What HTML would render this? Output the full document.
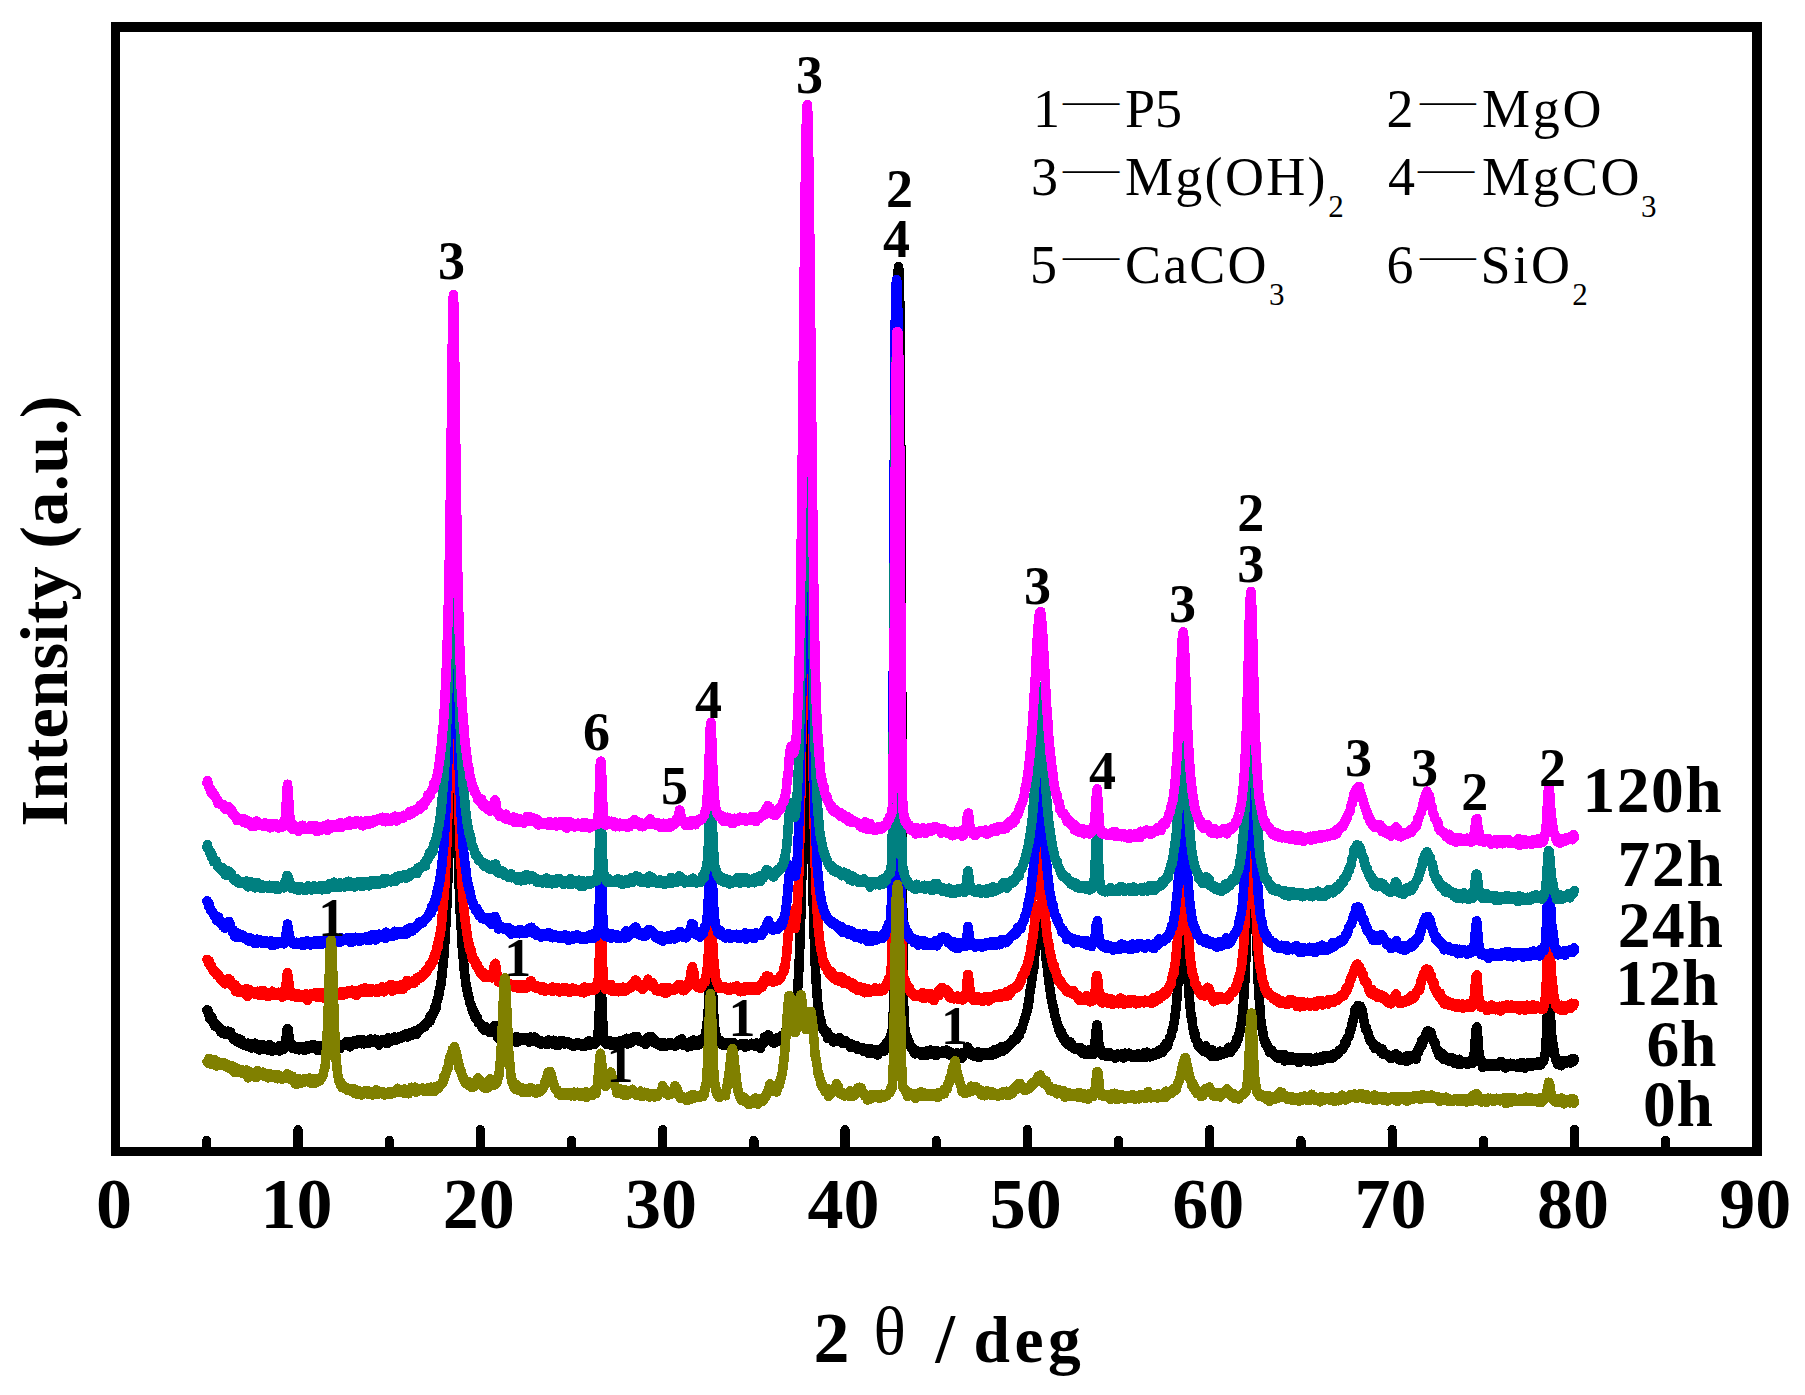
<!DOCTYPE html>
<html><head><meta charset="utf-8"><title>XRD</title>
<style>html,body{margin:0;padding:0;background:#fff}svg{display:block}</style></head>
<body>
<svg width="1805" height="1395" viewBox="0 0 1805 1395" shape-rendering="crispEdges" font-family='"Liberation Serif", serif' fill="#000">
<path d="M207.0 1009.9L207.5 1011.0L208.0 1010.3L208.5 1012.8L209.0 1014.1L209.5 1018.3L210.0 1016.1L210.5 1015.7L211.0 1018.5L211.5 1017.3L212.0 1017.5L212.5 1021.9L213.0 1021.0L213.5 1021.8L214.0 1022.9L214.5 1023.3L215.0 1026.2L215.5 1026.2L216.0 1025.5L216.5 1024.4L217.0 1027.1L217.5 1027.1L218.0 1027.3L218.5 1026.3L219.0 1027.7L219.5 1028.2L220.0 1028.8L220.5 1029.2L221.0 1032.4L221.5 1030.6L222.0 1031.9L222.5 1033.5L223.0 1032.8L223.5 1032.7L224.0 1030.7L224.5 1031.5L225.0 1034.2L225.5 1033.5L226.0 1034.4L226.5 1034.1L227.0 1032.3L227.5 1031.3L228.0 1033.9L228.5 1031.3L229.0 1031.5L229.5 1031.8L230.0 1032.9L230.5 1031.9L231.0 1033.7L231.5 1035.6L232.0 1035.7L232.5 1036.7L233.0 1037.8L233.5 1039.4L234.0 1039.2L234.5 1040.0L235.0 1039.9L235.5 1037.5L236.0 1039.3L236.5 1038.4L237.0 1041.9L237.5 1039.8L238.0 1040.0L238.5 1040.4L239.0 1039.0L239.5 1043.1L240.0 1039.6L240.5 1043.6L241.0 1039.8L241.5 1043.3L242.0 1042.9L242.5 1041.8L243.0 1044.9L243.5 1044.4L244.0 1044.8L244.5 1044.7L245.0 1045.1L245.5 1043.2L246.0 1045.6L246.5 1044.4L247.0 1046.2L247.5 1044.2L248.0 1043.1L248.5 1043.8L249.0 1046.0L249.5 1045.8L250.0 1047.2L250.5 1044.1L251.0 1047.9L251.5 1045.9L252.0 1047.4L252.5 1047.8L253.0 1046.2L253.5 1046.2L254.0 1044.1L254.5 1044.9L255.0 1043.2L255.5 1046.7L256.0 1048.2L256.5 1047.0L257.0 1048.3L257.5 1045.5L258.0 1048.2L258.5 1048.0L259.0 1044.7L259.5 1049.9L260.0 1047.6L260.5 1047.2L261.0 1047.7L261.5 1048.4L262.0 1047.0L262.5 1047.8L263.0 1045.0L263.5 1048.6L264.0 1047.9L264.5 1047.0L265.0 1049.0L265.5 1048.7L266.0 1046.2L266.5 1047.9L267.0 1047.4L267.5 1049.1L268.0 1047.4L268.5 1050.2L269.0 1046.4L269.5 1044.4L270.0 1050.4L270.5 1047.3L271.0 1047.7L271.5 1049.6L272.0 1051.0L272.5 1050.3L273.0 1046.8L273.5 1047.1L274.0 1048.6L274.5 1048.8L275.0 1048.4L275.5 1050.3L276.0 1049.2L276.5 1048.4L277.0 1047.6L277.5 1049.1L278.0 1049.6L278.5 1047.0L279.0 1045.9L279.5 1051.0L280.0 1047.8L280.5 1047.9L281.0 1048.4L281.5 1047.9L282.0 1049.5L282.5 1049.1L283.0 1045.6L283.5 1049.7L284.0 1045.7L284.5 1046.1L285.0 1046.5L285.5 1041.8L286.0 1037.6L286.1 1037.4L286.5 1035.4L287.0 1030.1L287.1 1028.7L287.5 1029.7L287.6 1029.1L288.0 1032.4L288.1 1029.1L288.5 1030.6L289.0 1038.6L289.1 1040.7L289.5 1042.6L290.0 1043.1L290.5 1046.6L291.0 1046.8L291.5 1047.3L292.0 1044.0L292.5 1048.7L293.0 1048.2L293.5 1046.4L294.0 1047.2L294.5 1048.8L295.0 1048.5L295.5 1048.9L296.0 1048.4L296.5 1048.6L297.0 1049.0L297.5 1048.3L298.0 1049.0L298.5 1048.8L299.0 1049.9L299.5 1046.4L300.0 1047.5L300.5 1047.0L301.0 1048.0L301.5 1046.6L302.0 1046.6L302.5 1049.0L303.0 1046.6L303.5 1047.0L304.0 1047.4L304.5 1050.3L305.0 1049.6L305.5 1048.5L306.0 1048.7L306.5 1046.0L307.0 1049.5L307.5 1049.2L308.0 1048.8L308.5 1048.7L309.0 1047.4L309.5 1046.0L310.0 1047.0L310.5 1046.3L311.0 1047.0L311.5 1047.6L312.0 1047.0L312.5 1048.7L313.0 1044.5L313.5 1046.6L314.0 1047.5L314.5 1048.2L315.0 1045.1L315.5 1047.1L316.0 1048.3L316.5 1048.0L317.0 1045.4L317.5 1048.6L318.0 1050.6L318.5 1048.3L319.0 1049.1L319.5 1046.0L320.0 1046.0L320.5 1046.6L321.0 1046.8L321.5 1046.0L322.0 1048.9L322.5 1047.9L323.0 1047.3L323.5 1047.8L324.0 1047.6L324.5 1048.3L325.0 1048.1L325.5 1046.9L326.0 1045.3L326.5 1044.1L327.0 1047.5L327.5 1047.1L328.0 1048.3L328.5 1046.7L329.0 1046.8L329.5 1046.8L330.0 1046.2L330.5 1044.7L331.0 1044.6L331.5 1047.6L332.0 1043.4L332.5 1044.7L333.0 1047.0L333.5 1044.6L334.0 1044.9L334.5 1044.6L335.0 1047.2L335.5 1045.7L336.0 1042.5L336.5 1045.1L337.0 1044.5L337.5 1043.9L338.0 1046.1L338.5 1046.8L339.0 1045.3L339.5 1044.7L340.0 1048.6L340.5 1047.0L341.0 1045.2L341.5 1045.2L342.0 1045.3L342.5 1045.2L343.0 1045.5L343.5 1045.2L344.0 1045.0L344.5 1043.6L345.0 1043.6L345.5 1043.9L346.0 1044.7L346.5 1041.4L347.0 1042.6L347.5 1043.9L348.0 1042.1L348.5 1041.8L349.0 1044.1L349.5 1042.8L350.0 1046.9L350.5 1041.9L351.0 1043.8L351.5 1044.5L352.0 1043.9L352.5 1042.2L353.0 1042.5L353.5 1043.1L354.0 1041.7L354.5 1042.5L355.0 1040.3L355.5 1042.4L356.0 1044.3L356.5 1043.7L357.0 1041.7L357.5 1042.8L358.0 1042.8L358.5 1039.8L359.0 1042.2L359.5 1039.6L360.0 1040.2L360.5 1039.9L361.0 1041.4L361.5 1043.8L362.0 1040.5L362.5 1039.7L363.0 1039.6L363.5 1040.3L364.0 1043.9L364.5 1040.7L365.0 1041.5L365.5 1041.0L366.0 1042.7L366.5 1042.3L367.0 1041.9L367.5 1040.6L368.0 1043.5L368.5 1039.9L369.0 1040.5L369.5 1040.5L370.0 1039.9L370.5 1038.9L371.0 1040.2L371.5 1042.6L372.0 1041.5L372.5 1040.7L373.0 1041.5L373.5 1042.5L374.0 1042.3L374.5 1041.2L375.0 1039.1L375.5 1040.4L376.0 1042.1L376.5 1040.7L377.0 1040.9L377.5 1040.6L378.0 1040.2L378.5 1041.3L379.0 1045.1L379.5 1041.9L380.0 1040.7L380.5 1042.0L381.0 1040.8L381.5 1041.2L382.0 1040.1L382.5 1040.6L383.0 1039.3L383.5 1040.0L384.0 1039.5L384.5 1040.2L385.0 1039.7L385.5 1039.8L386.0 1040.7L386.5 1039.3L387.0 1043.5L387.5 1041.1L388.0 1037.9L388.5 1038.3L389.0 1042.2L389.5 1038.3L390.0 1041.6L390.5 1040.2L391.0 1038.6L391.5 1039.2L392.0 1040.6L392.5 1037.9L393.0 1038.8L393.5 1038.3L394.0 1039.3L394.5 1037.1L395.0 1039.7L395.5 1040.0L396.0 1040.4L396.5 1039.1L397.0 1037.9L397.5 1038.4L398.0 1037.6L398.5 1038.7L399.0 1037.0L399.5 1037.2L400.0 1038.3L400.5 1038.4L401.0 1036.2L401.5 1038.1L402.0 1037.2L402.5 1036.8L403.0 1035.2L403.5 1036.6L404.0 1036.5L404.5 1036.4L405.0 1034.2L405.5 1036.2L406.0 1036.4L406.5 1035.1L407.0 1033.5L407.5 1037.1L408.0 1036.0L408.5 1034.7L409.0 1035.4L409.5 1036.1L410.0 1032.7L410.5 1033.7L411.0 1034.3L411.5 1035.7L412.0 1033.3L412.5 1032.0L413.0 1033.0L413.5 1031.5L414.0 1034.6L414.5 1032.5L415.0 1031.7L415.5 1031.2L416.0 1030.3L416.5 1034.4L417.0 1030.9L417.5 1033.1L418.0 1030.3L418.5 1030.6L419.0 1030.0L419.5 1028.2L420.0 1028.9L420.5 1028.4L421.0 1029.2L421.5 1028.7L422.0 1027.8L422.5 1027.5L423.0 1026.6L423.5 1026.8L424.0 1025.7L424.5 1027.2L425.0 1025.5L425.5 1025.5L426.0 1022.9L426.5 1022.5L427.0 1024.0L427.5 1022.3L428.0 1023.3L428.5 1021.7L429.0 1022.1L429.5 1018.1L430.0 1016.1L430.5 1020.7L431.0 1017.4L431.5 1015.5L432.0 1016.0L432.5 1014.3L433.0 1012.6L433.5 1013.4L434.0 1010.0L434.5 1011.0L435.0 1006.3L435.5 1005.9L436.0 1008.4L436.5 1004.5L437.0 1000.6L437.5 999.9L438.0 997.5L438.5 997.5L439.0 992.5L439.5 990.0L440.0 988.0L440.5 986.1L441.0 984.4L441.5 978.3L442.0 976.7L442.5 968.1L443.0 965.6L443.5 959.8L444.0 954.7L444.5 946.3L445.0 940.0L445.5 931.2L446.0 921.1L446.5 913.9L447.0 900.2L447.5 889.2L448.0 873.6L448.5 859.6L449.0 841.6L449.5 820.5L450.0 796.6L450.5 769.7L451.0 736.5L451.5 705.0L451.9 676.9L452.0 669.8L452.5 637.4L452.9 618.4L453.0 615.0L453.4 611.3L453.5 609.7L453.9 618.5L454.0 625.2L454.5 651.8L454.9 676.5L455.0 684.6L455.5 720.6L456.0 749.7L456.5 781.0L457.0 804.7L457.5 828.2L458.0 846.8L458.5 864.4L459.0 877.9L459.5 894.7L460.0 907.4L460.5 918.5L461.0 924.6L461.5 933.9L462.0 943.9L462.5 950.4L463.0 955.9L463.5 959.9L464.0 968.2L464.5 972.2L465.0 976.2L465.5 979.4L466.0 985.2L466.5 987.9L467.0 988.4L467.5 994.1L468.0 993.7L468.5 996.4L469.0 997.7L469.5 1000.2L470.0 1003.6L470.5 1003.4L471.0 1004.9L471.5 1008.2L472.0 1007.8L472.5 1011.5L473.0 1012.1L473.5 1013.2L474.0 1011.7L474.5 1015.9L475.0 1017.2L475.5 1016.6L476.0 1015.3L476.5 1019.2L477.0 1017.2L477.5 1017.3L478.0 1021.7L478.5 1023.1L479.0 1022.1L479.5 1023.2L480.0 1022.9L480.5 1023.8L481.0 1024.5L481.5 1026.3L482.0 1026.2L482.5 1028.4L483.0 1028.3L483.5 1027.5L484.0 1030.1L484.5 1028.7L485.0 1027.1L485.5 1029.7L486.0 1027.0L486.5 1027.2L487.0 1030.7L487.5 1029.3L488.0 1031.3L488.5 1031.1L489.0 1031.2L489.5 1032.7L490.0 1030.9L490.5 1029.7L491.0 1032.1L491.5 1030.8L492.0 1030.1L492.5 1032.6L493.0 1030.0L493.5 1027.5L494.0 1026.4L494.5 1028.4L495.0 1025.3L495.5 1026.8L496.0 1028.9L496.5 1031.3L497.0 1033.8L497.5 1035.2L498.0 1038.1L498.5 1033.9L499.0 1036.1L499.5 1036.1L500.0 1038.8L500.5 1035.6L501.0 1036.3L501.5 1034.6L502.0 1036.7L502.5 1036.7L503.0 1037.0L503.5 1037.6L504.0 1036.9L504.5 1035.8L505.0 1036.0L505.5 1035.7L506.0 1036.8L506.5 1035.3L507.0 1039.2L507.5 1039.8L508.0 1038.4L508.5 1038.0L509.0 1038.0L509.5 1037.1L510.0 1039.0L510.5 1036.6L511.0 1037.4L511.5 1039.6L512.0 1039.5L512.5 1037.9L513.0 1037.6L513.5 1040.9L514.0 1038.2L514.5 1039.5L515.0 1039.2L515.5 1037.7L516.0 1042.4L516.5 1039.2L517.0 1036.5L517.5 1038.0L518.0 1040.0L518.5 1038.8L519.0 1039.5L519.5 1039.9L520.0 1040.9L520.5 1037.6L521.0 1038.4L521.5 1039.2L522.0 1038.7L522.5 1037.9L523.0 1037.9L523.5 1039.5L524.0 1040.0L524.5 1040.1L525.0 1039.9L525.5 1040.2L526.0 1040.7L526.5 1039.6L527.0 1038.9L527.5 1037.7L528.0 1041.1L528.5 1037.4L529.0 1042.2L529.5 1038.6L530.0 1037.2L530.5 1037.9L531.0 1037.2L531.5 1038.1L532.0 1038.1L532.5 1040.1L533.0 1037.4L533.5 1039.9L534.0 1037.3L534.5 1036.9L535.0 1040.8L535.5 1039.2L536.0 1040.6L536.5 1038.9L537.0 1042.4L537.5 1040.7L538.0 1040.5L538.5 1042.6L539.0 1041.3L539.5 1042.4L540.0 1043.8L540.5 1040.7L541.0 1044.1L541.5 1041.5L542.0 1043.8L542.5 1041.7L543.0 1041.6L543.5 1043.3L544.0 1041.3L544.5 1043.2L545.0 1042.9L545.5 1043.2L546.0 1043.7L546.5 1044.7L547.0 1043.5L547.5 1041.9L548.0 1043.1L548.5 1039.9L549.0 1043.0L549.5 1043.8L550.0 1042.8L550.5 1043.0L551.0 1043.6L551.5 1043.8L552.0 1043.0L552.5 1042.0L553.0 1042.9L553.5 1040.2L554.0 1044.4L554.5 1043.6L555.0 1043.7L555.5 1041.4L556.0 1043.3L556.5 1042.4L557.0 1045.7L557.5 1045.5L558.0 1043.8L558.5 1045.7L559.0 1044.4L559.5 1041.0L560.0 1044.3L560.5 1042.4L561.0 1043.8L561.5 1043.0L562.0 1042.6L562.5 1042.4L563.0 1041.0L563.5 1042.8L564.0 1043.3L564.5 1044.1L565.0 1042.2L565.5 1042.2L566.0 1041.6L566.5 1042.5L567.0 1043.7L567.5 1042.8L568.0 1043.8L568.5 1042.0L569.0 1044.3L569.5 1044.4L570.0 1044.2L570.5 1045.2L571.0 1043.5L571.5 1044.7L572.0 1045.6L572.5 1044.1L573.0 1043.5L573.5 1046.2L574.0 1045.8L574.5 1043.9L575.0 1043.7L575.5 1043.8L576.0 1044.5L576.5 1045.5L577.0 1043.5L577.5 1042.4L578.0 1045.0L578.5 1044.6L579.0 1044.8L579.5 1043.2L580.0 1045.5L580.5 1045.2L581.0 1044.1L581.5 1045.9L582.0 1044.7L582.5 1044.5L583.0 1045.4L583.5 1043.8L584.0 1044.0L584.5 1046.1L585.0 1043.8L585.5 1046.0L586.0 1044.4L586.5 1043.5L587.0 1044.1L587.5 1045.3L588.0 1045.7L588.5 1040.9L589.0 1045.1L589.5 1042.9L590.0 1045.3L590.5 1043.1L591.0 1044.9L591.5 1044.5L592.0 1044.1L592.5 1042.7L593.0 1044.6L593.5 1044.4L594.0 1043.9L594.5 1044.2L595.0 1043.5L595.5 1041.0L596.0 1043.1L596.5 1039.5L597.0 1040.8L597.5 1038.8L598.0 1035.2L598.5 1027.9L599.0 1019.3L599.3 1011.8L599.5 1007.2L600.0 992.0L600.3 984.2L600.5 984.1L600.8 980.7L601.0 982.5L601.3 986.6L601.5 989.4L602.0 1006.9L602.3 1013.8L602.5 1017.6L603.0 1025.7L603.5 1034.8L604.0 1039.5L604.5 1038.0L605.0 1040.1L605.5 1041.2L606.0 1044.1L606.5 1043.3L607.0 1043.0L607.5 1042.5L608.0 1042.2L608.5 1040.8L609.0 1040.3L609.5 1044.4L610.0 1043.9L610.5 1044.5L611.0 1044.1L611.5 1045.3L612.0 1042.9L612.5 1043.4L613.0 1041.6L613.5 1044.1L614.0 1041.5L614.5 1044.2L615.0 1041.9L615.5 1042.8L616.0 1045.5L616.5 1041.9L617.0 1045.0L617.5 1045.6L618.0 1045.9L618.5 1044.0L619.0 1041.2L619.5 1045.1L620.0 1042.5L620.5 1044.4L621.0 1041.5L621.5 1041.5L622.0 1044.3L622.5 1040.3L623.0 1041.3L623.5 1042.5L624.0 1042.8L624.5 1043.6L625.0 1042.3L625.5 1041.9L626.0 1043.7L626.5 1038.3L627.0 1042.7L627.5 1044.1L628.0 1040.8L628.5 1040.5L629.0 1041.4L629.5 1042.5L630.0 1043.0L630.5 1040.9L631.0 1040.1L631.5 1042.4L632.0 1041.1L632.5 1041.3L633.0 1041.4L633.5 1037.1L634.0 1037.9L634.5 1036.8L635.0 1039.4L635.5 1038.0L636.0 1037.9L636.5 1038.6L637.0 1036.4L637.5 1038.5L638.0 1038.5L638.5 1041.1L639.0 1040.2L639.5 1040.0L640.0 1041.2L640.5 1040.2L641.0 1040.8L641.5 1040.4L642.0 1040.9L642.5 1042.5L643.0 1042.3L643.5 1040.5L644.0 1041.4L644.5 1041.5L645.0 1042.2L645.5 1044.4L646.0 1038.9L646.5 1039.9L647.0 1039.9L647.5 1038.2L648.0 1037.1L648.5 1037.8L649.0 1038.5L649.5 1038.2L650.0 1037.5L650.5 1037.3L651.0 1038.6L651.5 1036.5L652.0 1041.1L652.5 1039.7L653.0 1040.7L653.5 1038.9L654.0 1042.3L654.5 1043.2L655.0 1042.2L655.5 1041.1L656.0 1043.3L656.5 1042.2L657.0 1043.9L657.5 1042.2L658.0 1042.4L658.5 1044.9L659.0 1042.3L659.5 1042.9L660.0 1043.6L660.5 1046.0L661.0 1044.1L661.5 1044.3L662.0 1043.0L662.5 1044.1L663.0 1043.3L663.5 1043.5L664.0 1044.9L664.5 1046.6L665.0 1043.1L665.5 1046.3L666.0 1043.3L666.5 1043.9L667.0 1044.6L667.5 1044.5L668.0 1043.7L668.5 1042.9L669.0 1045.6L669.5 1045.0L670.0 1043.5L670.5 1044.0L671.0 1043.0L671.5 1044.5L672.0 1045.7L672.5 1044.5L673.0 1045.3L673.5 1044.8L674.0 1045.3L674.5 1044.6L675.0 1046.3L675.5 1044.5L676.0 1044.7L676.5 1045.5L677.0 1043.1L677.5 1041.8L678.0 1041.3L678.5 1040.9L679.0 1040.5L679.5 1040.0L680.0 1044.3L680.5 1041.3L681.0 1042.8L681.5 1038.9L682.0 1042.3L682.5 1042.1L683.0 1044.2L683.5 1042.4L684.0 1045.5L684.5 1042.1L685.0 1044.8L685.5 1044.3L686.0 1044.3L686.5 1046.1L687.0 1045.9L687.5 1044.7L688.0 1047.0L688.5 1044.9L689.0 1045.6L689.5 1044.3L690.0 1041.6L690.5 1042.9L691.0 1046.1L691.5 1042.5L692.0 1041.3L692.5 1041.4L693.0 1041.5L693.5 1040.0L694.0 1042.8L694.5 1043.8L695.0 1042.2L695.5 1043.0L696.0 1044.5L696.5 1043.6L697.0 1045.6L697.5 1042.8L698.0 1044.9L698.5 1044.7L699.0 1044.8L699.5 1043.2L700.0 1043.9L700.5 1042.7L701.0 1039.1L701.5 1040.3L702.0 1039.7L702.5 1042.2L703.0 1038.5L703.5 1037.5L704.0 1038.1L704.5 1037.2L705.0 1036.7L705.5 1035.4L706.0 1031.0L706.5 1030.9L707.0 1023.6L707.5 1019.3L708.0 1016.1L708.5 1004.3L709.0 994.4L709.3 987.1L709.5 982.7L710.0 969.5L710.3 961.7L710.5 961.5L710.8 961.3L711.0 962.6L711.3 964.1L711.5 968.3L712.0 978.6L712.3 986.5L712.5 991.4L713.0 1000.5L713.5 1010.4L714.0 1019.2L714.5 1025.0L715.0 1030.2L715.5 1035.3L716.0 1034.8L716.5 1036.4L717.0 1040.6L717.5 1039.0L718.0 1041.4L718.5 1042.5L719.0 1040.4L719.5 1041.7L720.0 1043.2L720.5 1040.7L721.0 1041.3L721.5 1043.8L722.0 1044.8L722.5 1044.2L723.0 1043.0L723.5 1044.6L724.0 1045.1L724.5 1045.2L725.0 1043.9L725.5 1043.8L726.0 1043.0L726.5 1044.9L727.0 1042.4L727.5 1042.9L728.0 1044.5L728.5 1043.7L729.0 1044.6L729.5 1045.7L730.0 1047.1L730.5 1044.6L731.0 1044.7L731.5 1042.6L732.0 1046.0L732.5 1046.1L733.0 1046.6L733.5 1042.5L734.0 1044.7L734.5 1043.4L735.0 1043.7L735.5 1045.8L736.0 1044.7L736.5 1046.8L737.0 1044.8L737.5 1044.3L738.0 1045.7L738.5 1044.5L739.0 1044.8L739.5 1044.8L740.0 1044.7L740.5 1045.5L741.0 1043.8L741.5 1044.8L742.0 1044.2L742.5 1045.6L743.0 1043.4L743.5 1045.2L744.0 1045.9L744.5 1044.2L745.0 1047.2L745.5 1044.2L746.0 1046.6L746.5 1046.2L747.0 1044.0L747.5 1045.6L748.0 1044.4L748.5 1044.9L749.0 1045.7L749.5 1045.7L750.0 1045.3L750.5 1045.5L751.0 1045.0L751.5 1043.2L752.0 1044.9L752.5 1044.3L753.0 1044.5L753.5 1045.6L754.0 1044.6L754.5 1045.2L755.0 1046.2L755.5 1044.1L756.0 1044.1L756.5 1042.9L757.0 1045.1L757.5 1043.4L758.0 1046.2L758.5 1044.5L759.0 1045.4L759.5 1046.3L760.0 1045.0L760.5 1048.2L761.0 1045.5L761.5 1042.4L762.0 1043.3L762.5 1043.0L763.0 1042.8L763.5 1040.8L764.0 1042.8L764.5 1036.9L765.0 1037.6L765.5 1036.6L766.0 1036.1L766.5 1037.7L767.0 1037.0L767.5 1035.4L768.0 1035.0L768.5 1035.0L769.0 1037.0L769.5 1036.5L770.0 1038.6L770.5 1039.7L771.0 1041.2L771.5 1040.1L772.0 1040.0L772.5 1039.4L773.0 1042.2L773.5 1043.2L774.0 1041.6L774.5 1042.3L775.0 1041.1L775.5 1039.6L776.0 1041.8L776.5 1038.1L777.0 1041.9L777.5 1041.4L778.0 1041.7L778.5 1039.8L779.0 1037.2L779.5 1038.8L780.0 1038.1L780.5 1037.0L781.0 1035.8L781.5 1038.0L782.0 1035.3L782.5 1035.8L783.0 1037.1L783.5 1036.3L784.0 1034.6L784.5 1034.5L785.0 1033.3L785.5 1031.1L786.0 1030.8L786.5 1028.5L787.0 1027.5L787.5 1022.2L788.0 1020.1L788.5 1018.2L789.0 1015.0L789.5 1012.5L790.0 1011.4L790.5 1007.6L791.0 1008.2L791.5 1009.9L792.0 1008.0L792.5 1009.7L793.0 1008.8L793.5 1011.4L794.0 1010.2L794.5 1010.5L795.0 1006.7L795.5 1005.5L796.0 1005.4L796.5 1001.9L797.0 995.0L797.5 990.9L798.0 982.9L798.5 976.9L799.0 965.9L799.5 955.7L800.0 939.5L800.5 925.1L801.0 909.6L801.5 889.0L802.0 867.3L802.5 845.1L803.0 820.5L803.5 796.6L804.0 767.1L804.5 744.0L805.0 721.4L805.5 702.5L805.7 694.9L806.0 686.0L806.5 672.5L806.7 669.7L807.0 668.9L807.2 665.9L807.5 668.5L807.7 669.4L808.0 676.4L808.5 686.5L808.7 697.4L809.0 702.7L809.5 727.2L810.0 750.2L810.5 773.8L811.0 798.3L811.5 823.6L812.0 851.0L812.5 870.7L813.0 893.8L813.5 913.1L814.0 931.1L814.5 943.9L815.0 955.9L815.5 971.1L816.0 978.6L816.5 987.1L817.0 993.2L817.5 1000.6L818.0 1004.2L818.5 1008.9L819.0 1011.9L819.5 1013.9L820.0 1018.6L820.5 1020.6L821.0 1020.3L821.5 1026.7L822.0 1025.0L822.5 1028.4L823.0 1028.7L823.5 1028.2L824.0 1031.3L824.5 1031.2L825.0 1031.5L825.5 1033.7L826.0 1033.5L826.5 1032.4L827.0 1031.6L827.5 1038.4L828.0 1033.1L828.5 1037.0L829.0 1038.0L829.5 1035.6L830.0 1037.8L830.5 1037.6L831.0 1038.8L831.5 1038.8L832.0 1038.3L832.5 1037.8L833.0 1039.4L833.5 1042.0L834.0 1041.0L834.5 1041.5L835.0 1041.0L835.5 1040.7L836.0 1039.7L836.5 1040.1L837.0 1041.4L837.5 1040.9L838.0 1041.5L838.5 1040.7L839.0 1040.3L839.5 1037.8L840.0 1041.0L840.5 1040.8L841.0 1042.3L841.5 1042.1L842.0 1040.5L842.5 1043.5L843.0 1040.0L843.5 1041.7L844.0 1042.1L844.5 1042.8L845.0 1040.6L845.5 1040.7L846.0 1043.5L846.5 1042.5L847.0 1042.9L847.5 1043.3L848.0 1044.2L848.5 1044.1L849.0 1043.2L849.5 1045.2L850.0 1046.3L850.5 1045.2L851.0 1047.5L851.5 1043.9L852.0 1046.3L852.5 1045.7L853.0 1044.9L853.5 1046.2L854.0 1046.8L854.5 1047.3L855.0 1046.0L855.5 1046.6L856.0 1047.8L856.5 1045.7L857.0 1047.8L857.5 1049.2L858.0 1049.2L858.5 1047.2L859.0 1048.4L859.5 1049.4L860.0 1049.6L860.5 1048.4L861.0 1047.6L861.5 1048.2L862.0 1049.0L862.5 1047.8L863.0 1050.1L863.5 1051.7L864.0 1049.3L864.5 1049.6L865.0 1048.6L865.5 1050.7L866.0 1048.7L866.5 1051.9L867.0 1050.5L867.5 1049.1L868.0 1049.5L868.5 1053.7L869.0 1051.9L869.5 1053.5L870.0 1051.9L870.5 1048.6L871.0 1052.0L871.5 1051.7L872.0 1053.3L872.5 1050.1L873.0 1050.2L873.5 1053.3L874.0 1051.0L874.5 1051.3L875.0 1050.7L875.5 1052.3L876.0 1049.4L876.5 1049.5L877.0 1052.2L877.5 1055.1L878.0 1050.9L878.5 1049.7L879.0 1053.2L879.5 1051.6L880.0 1051.1L880.5 1052.1L881.0 1049.0L881.5 1051.1L882.0 1051.4L882.5 1048.1L883.0 1050.0L883.5 1049.5L884.0 1051.2L884.5 1045.4L885.0 1047.9L885.5 1047.0L886.0 1044.5L886.5 1042.6L887.0 1046.7L887.5 1044.6L888.0 1041.8L888.5 1044.9L889.0 1041.5L889.5 1040.3L890.0 1037.1L890.5 1038.4L891.0 1034.5L891.5 1035.6L892.0 1031.2L892.5 1028.1L893.0 1022.7L893.5 1006.0L894.0 974.0L894.5 908.7L895.0 813.7L895.5 691.8L896.0 555.4L896.5 438.6L897.0 346.8L897.1 332.6L897.5 294.0L898.0 272.1L898.1 271.6L898.5 267.9L898.6 266.6L899.0 271.7L899.1 272.1L899.5 283.8L900.0 325.5L900.1 335.6L900.5 399.8L901.0 508.8L901.5 639.1L902.0 765.8L902.5 875.7L903.0 953.6L903.5 997.5L904.0 1017.8L904.5 1025.1L905.0 1030.5L905.5 1032.6L906.0 1037.7L906.5 1035.2L907.0 1036.5L907.5 1038.9L908.0 1039.8L908.5 1044.1L909.0 1041.1L909.5 1043.1L910.0 1046.0L910.5 1045.6L911.0 1048.0L911.5 1046.8L912.0 1047.9L912.5 1049.0L913.0 1049.9L913.5 1049.5L914.0 1053.0L914.5 1052.0L915.0 1053.8L915.5 1050.1L916.0 1052.6L916.5 1052.8L917.0 1053.1L917.5 1051.7L918.0 1051.3L918.5 1052.2L919.0 1051.9L919.5 1051.9L920.0 1052.2L920.5 1053.0L921.0 1054.5L921.5 1055.5L922.0 1052.3L922.5 1053.2L923.0 1055.4L923.5 1051.9L924.0 1051.5L924.5 1052.2L925.0 1054.1L925.5 1054.5L926.0 1052.4L926.5 1054.0L927.0 1051.0L927.5 1054.9L928.0 1053.9L928.5 1051.0L929.0 1051.4L929.5 1053.4L930.0 1050.4L930.5 1049.9L931.0 1054.0L931.5 1054.6L932.0 1053.1L932.5 1053.8L933.0 1052.4L933.5 1052.4L934.0 1053.3L934.5 1053.2L935.0 1053.0L935.5 1053.6L936.0 1055.7L936.5 1050.7L937.0 1051.7L937.5 1054.6L938.0 1053.0L938.5 1053.4L939.0 1051.8L939.5 1051.4L940.0 1052.6L940.5 1053.2L941.0 1051.6L941.5 1053.5L942.0 1051.2L942.5 1052.7L943.0 1053.3L943.5 1051.7L944.0 1050.4L944.5 1052.3L945.0 1051.1L945.5 1050.3L946.0 1053.7L946.5 1050.1L947.0 1052.0L947.5 1050.8L948.0 1054.1L948.5 1051.1L949.0 1053.8L949.5 1054.9L950.0 1052.6L950.5 1053.3L951.0 1053.4L951.5 1052.6L952.0 1052.7L952.5 1053.7L953.0 1053.3L953.5 1054.3L954.0 1056.5L954.5 1055.6L955.0 1053.6L955.5 1055.1L956.0 1054.5L956.5 1054.0L957.0 1053.0L957.5 1054.5L958.0 1055.6L958.5 1055.1L959.0 1055.6L959.5 1054.4L960.0 1055.4L960.5 1055.3L961.0 1053.1L961.5 1053.4L962.0 1058.2L962.5 1057.1L963.0 1053.9L963.5 1054.1L964.0 1054.7L964.5 1054.3L965.0 1053.0L965.5 1053.9L966.0 1053.6L966.5 1053.7L967.0 1051.4L967.5 1047.0L968.0 1048.8L968.5 1049.9L969.0 1051.7L969.5 1050.0L970.0 1049.9L970.5 1053.8L971.0 1054.9L971.5 1054.2L972.0 1055.1L972.5 1054.3L973.0 1055.0L973.5 1052.5L974.0 1056.1L974.5 1053.1L975.0 1054.7L975.5 1053.2L976.0 1053.6L976.5 1056.4L977.0 1054.1L977.5 1052.2L978.0 1052.0L978.5 1053.3L979.0 1057.7L979.5 1053.9L980.0 1053.9L980.5 1055.5L981.0 1054.9L981.5 1054.3L982.0 1054.0L982.5 1052.5L983.0 1053.0L983.5 1055.3L984.0 1052.3L984.5 1054.7L985.0 1054.0L985.5 1054.1L986.0 1053.4L986.5 1054.3L987.0 1052.9L987.5 1055.7L988.0 1054.9L988.5 1053.5L989.0 1053.0L989.5 1054.7L990.0 1053.3L990.5 1052.0L991.0 1055.7L991.5 1051.5L992.0 1052.3L992.5 1051.3L993.0 1052.4L993.5 1050.8L994.0 1049.9L994.5 1049.6L995.0 1052.3L995.5 1054.1L996.0 1051.6L996.5 1051.9L997.0 1050.0L997.5 1051.0L998.0 1050.5L998.5 1052.6L999.0 1051.3L999.5 1048.0L1000.0 1049.8L1000.5 1048.5L1001.0 1047.0L1001.5 1050.6L1002.0 1048.9L1002.5 1051.6L1003.0 1049.9L1003.5 1047.6L1004.0 1048.5L1004.5 1047.0L1005.0 1049.5L1005.5 1046.0L1006.0 1045.8L1006.5 1046.0L1007.0 1048.4L1007.5 1047.2L1008.0 1047.1L1008.5 1045.7L1009.0 1044.9L1009.5 1045.2L1010.0 1043.4L1010.5 1042.9L1011.0 1043.9L1011.5 1042.9L1012.0 1043.2L1012.5 1040.8L1013.0 1041.0L1013.5 1038.9L1014.0 1039.4L1014.5 1040.1L1015.0 1038.4L1015.5 1038.4L1016.0 1039.7L1016.5 1037.3L1017.0 1038.5L1017.5 1034.2L1018.0 1036.3L1018.5 1034.0L1019.0 1035.0L1019.5 1035.1L1020.0 1030.4L1020.5 1032.1L1021.0 1029.9L1021.5 1030.3L1022.0 1028.2L1022.5 1025.5L1023.0 1024.8L1023.5 1023.0L1024.0 1021.2L1024.5 1019.4L1025.0 1018.1L1025.5 1015.8L1026.0 1014.5L1026.5 1012.9L1027.0 1010.4L1027.5 1010.1L1028.0 1006.6L1028.5 1002.1L1029.0 1001.6L1029.5 995.1L1030.0 992.4L1030.5 987.8L1031.0 986.7L1031.5 982.2L1032.0 978.8L1032.5 975.0L1033.0 971.4L1033.5 967.4L1034.0 967.5L1034.5 957.6L1035.0 953.1L1035.5 950.3L1036.0 944.9L1036.5 940.6L1037.0 938.6L1037.5 932.3L1038.0 930.9L1038.5 927.7L1038.9 926.1L1039.0 925.5L1039.5 927.3L1039.9 925.0L1040.0 925.9L1040.4 924.1L1040.5 924.9L1040.9 925.0L1041.0 925.5L1041.5 926.0L1041.9 925.2L1042.0 927.0L1042.5 928.7L1043.0 934.0L1043.5 938.8L1044.0 941.1L1044.5 944.7L1045.0 948.0L1045.5 951.0L1046.0 959.5L1046.5 961.4L1047.0 965.1L1047.5 970.0L1048.0 975.4L1048.5 977.9L1049.0 981.4L1049.5 986.1L1050.0 989.6L1050.5 992.0L1051.0 997.3L1051.5 999.8L1052.0 1001.9L1052.5 1005.1L1053.0 1007.3L1053.5 1007.0L1054.0 1009.5L1054.5 1014.8L1055.0 1016.5L1055.5 1017.0L1056.0 1018.4L1056.5 1022.5L1057.0 1022.4L1057.5 1024.8L1058.0 1026.6L1058.5 1026.9L1059.0 1030.6L1059.5 1031.8L1060.0 1029.1L1060.5 1034.1L1061.0 1033.2L1061.5 1031.6L1062.0 1033.9L1062.5 1035.7L1063.0 1039.0L1063.5 1037.9L1064.0 1037.8L1064.5 1038.2L1065.0 1038.7L1065.5 1039.8L1066.0 1043.2L1066.5 1042.1L1067.0 1044.1L1067.5 1043.2L1068.0 1043.2L1068.5 1044.0L1069.0 1043.5L1069.5 1044.6L1070.0 1043.7L1070.5 1042.1L1071.0 1044.9L1071.5 1046.9L1072.0 1044.8L1072.5 1047.5L1073.0 1047.3L1073.5 1047.5L1074.0 1048.9L1074.5 1047.1L1075.0 1048.7L1075.5 1047.9L1076.0 1047.7L1076.5 1047.9L1077.0 1049.0L1077.5 1048.4L1078.0 1048.6L1078.5 1048.3L1079.0 1049.1L1079.5 1048.3L1080.0 1047.4L1080.5 1049.3L1081.0 1050.0L1081.5 1051.1L1082.0 1053.0L1082.5 1051.3L1083.0 1051.6L1083.5 1051.3L1084.0 1049.9L1084.5 1050.8L1085.0 1052.5L1085.5 1052.7L1086.0 1054.6L1086.5 1052.7L1087.0 1053.6L1087.5 1053.0L1088.0 1051.9L1088.5 1054.0L1089.0 1053.9L1089.5 1049.6L1090.0 1050.7L1090.5 1049.6L1091.0 1053.6L1091.5 1053.3L1092.0 1049.0L1092.5 1052.1L1093.0 1054.6L1093.5 1051.5L1094.0 1050.8L1094.5 1045.9L1095.0 1043.7L1095.5 1035.7L1096.0 1033.4L1096.5 1026.5L1097.0 1024.7L1097.5 1027.0L1098.0 1033.7L1098.5 1040.6L1099.0 1044.4L1099.5 1049.8L1100.0 1051.4L1100.5 1048.8L1101.0 1054.1L1101.5 1053.5L1102.0 1054.0L1102.5 1055.3L1103.0 1053.8L1103.5 1055.6L1104.0 1052.4L1104.5 1052.9L1105.0 1054.9L1105.5 1056.1L1106.0 1053.4L1106.5 1055.4L1107.0 1054.4L1107.5 1054.3L1108.0 1055.5L1108.5 1056.0L1109.0 1052.5L1109.5 1055.7L1110.0 1054.8L1110.5 1055.5L1111.0 1055.1L1111.5 1056.6L1112.0 1056.0L1112.5 1054.3L1113.0 1055.3L1113.5 1055.3L1114.0 1054.4L1114.5 1056.6L1115.0 1056.4L1115.5 1058.2L1116.0 1055.4L1116.5 1055.2L1117.0 1054.4L1117.5 1054.4L1118.0 1054.0L1118.5 1054.7L1119.0 1055.9L1119.5 1055.5L1120.0 1055.1L1120.5 1056.0L1121.0 1056.0L1121.5 1056.8L1122.0 1055.9L1122.5 1053.4L1123.0 1055.3L1123.5 1057.9L1124.0 1053.8L1124.5 1055.6L1125.0 1053.2L1125.5 1057.0L1126.0 1055.2L1126.5 1056.2L1127.0 1056.1L1127.5 1056.1L1128.0 1055.1L1128.5 1055.5L1129.0 1053.2L1129.5 1054.9L1130.0 1055.0L1130.5 1054.3L1131.0 1056.1L1131.5 1056.9L1132.0 1055.2L1132.5 1054.6L1133.0 1054.5L1133.5 1055.7L1134.0 1057.0L1134.5 1056.2L1135.0 1057.7L1135.5 1056.0L1136.0 1055.3L1136.5 1055.9L1137.0 1056.6L1137.5 1054.8L1138.0 1053.7L1138.5 1054.4L1139.0 1057.1L1139.5 1057.4L1140.0 1055.6L1140.5 1055.1L1141.0 1056.8L1141.5 1054.7L1142.0 1056.5L1142.5 1056.7L1143.0 1057.4L1143.5 1055.6L1144.0 1052.7L1144.5 1056.8L1145.0 1055.1L1145.5 1057.2L1146.0 1052.5L1146.5 1052.2L1147.0 1056.3L1147.5 1056.2L1148.0 1053.7L1148.5 1053.8L1149.0 1054.1L1149.5 1055.5L1150.0 1056.8L1150.5 1056.8L1151.0 1055.5L1151.5 1054.2L1152.0 1055.1L1152.5 1056.1L1153.0 1055.8L1153.5 1053.0L1154.0 1054.3L1154.5 1055.2L1155.0 1053.5L1155.5 1054.9L1156.0 1052.1L1156.5 1054.6L1157.0 1052.9L1157.5 1053.7L1158.0 1054.1L1158.5 1050.3L1159.0 1051.7L1159.5 1052.0L1160.0 1053.3L1160.5 1053.0L1161.0 1050.1L1161.5 1050.7L1162.0 1049.0L1162.5 1052.3L1163.0 1051.2L1163.5 1048.4L1164.0 1046.3L1164.5 1049.3L1165.0 1048.1L1165.5 1046.4L1166.0 1043.3L1166.5 1044.1L1167.0 1047.0L1167.5 1043.7L1168.0 1044.0L1168.5 1042.4L1169.0 1040.7L1169.5 1038.1L1170.0 1038.6L1170.5 1037.3L1171.0 1036.9L1171.5 1032.9L1172.0 1030.5L1172.5 1030.9L1173.0 1028.8L1173.5 1025.5L1174.0 1023.2L1174.5 1020.5L1175.0 1016.9L1175.5 1011.4L1176.0 1009.5L1176.5 1003.5L1177.0 997.1L1177.5 990.5L1178.0 981.2L1178.5 974.1L1179.0 967.3L1179.5 953.2L1180.0 946.1L1180.5 938.4L1181.0 926.6L1181.5 919.7L1181.6 916.7L1182.0 908.5L1182.5 903.2L1182.6 902.3L1183.0 901.3L1183.1 900.0L1183.5 903.0L1183.6 903.7L1184.0 907.9L1184.5 912.3L1184.6 916.8L1185.0 920.9L1185.5 930.1L1186.0 942.2L1186.5 952.7L1187.0 960.6L1187.5 972.4L1188.0 978.4L1188.5 987.6L1189.0 993.2L1189.5 1001.2L1190.0 1003.8L1190.5 1011.9L1191.0 1016.7L1191.5 1014.4L1192.0 1020.0L1192.5 1024.8L1193.0 1028.2L1193.5 1029.9L1194.0 1031.0L1194.5 1036.7L1195.0 1034.0L1195.5 1037.9L1196.0 1040.0L1196.5 1040.6L1197.0 1041.1L1197.5 1042.7L1198.0 1045.3L1198.5 1046.3L1199.0 1045.0L1199.5 1044.9L1200.0 1046.1L1200.5 1047.9L1201.0 1046.4L1201.5 1049.1L1202.0 1048.0L1202.5 1050.4L1203.0 1049.1L1203.5 1050.7L1204.0 1051.5L1204.5 1050.3L1205.0 1050.3L1205.5 1045.9L1206.0 1052.3L1206.5 1050.1L1207.0 1051.4L1207.5 1051.0L1208.0 1050.5L1208.5 1050.1L1209.0 1052.8L1209.5 1052.3L1210.0 1053.9L1210.5 1049.8L1211.0 1056.1L1211.5 1052.1L1212.0 1049.7L1212.5 1053.2L1213.0 1053.4L1213.5 1052.7L1214.0 1053.7L1214.5 1053.2L1215.0 1053.6L1215.5 1056.4L1216.0 1052.6L1216.5 1054.5L1217.0 1056.5L1217.5 1054.0L1218.0 1054.4L1218.5 1054.7L1219.0 1054.6L1219.5 1054.8L1220.0 1051.2L1220.5 1054.1L1221.0 1053.2L1221.5 1054.8L1222.0 1053.0L1222.5 1054.0L1223.0 1052.9L1223.5 1053.7L1224.0 1053.8L1224.5 1051.5L1225.0 1052.9L1225.5 1053.0L1226.0 1051.6L1226.5 1050.3L1227.0 1051.7L1227.5 1051.6L1228.0 1051.0L1228.5 1047.3L1229.0 1049.3L1229.5 1050.9L1230.0 1049.8L1230.5 1052.3L1231.0 1048.5L1231.5 1048.5L1232.0 1049.0L1232.5 1048.4L1233.0 1048.8L1233.5 1047.1L1234.0 1047.6L1234.5 1044.3L1235.0 1045.9L1235.5 1042.3L1236.0 1044.4L1236.5 1038.8L1237.0 1040.9L1237.5 1037.7L1238.0 1039.9L1238.5 1036.1L1239.0 1034.9L1239.5 1030.7L1240.0 1031.5L1240.5 1026.5L1241.0 1023.5L1241.5 1022.9L1242.0 1017.6L1242.5 1013.3L1243.0 1011.3L1243.5 1000.7L1244.0 995.5L1244.5 986.8L1245.0 977.6L1245.5 967.8L1246.0 955.1L1246.5 940.5L1247.0 924.2L1247.5 903.0L1248.0 885.8L1248.5 864.4L1249.0 841.1L1249.3 827.6L1249.5 819.5L1250.0 802.4L1250.3 792.9L1250.5 790.4L1250.8 784.6L1251.0 781.4L1251.3 784.4L1251.5 784.1L1252.0 789.1L1252.3 793.4L1252.5 798.0L1253.0 811.5L1253.5 825.0L1254.0 840.7L1254.5 857.8L1255.0 874.7L1255.5 891.0L1256.0 912.9L1256.5 928.3L1257.0 945.5L1257.5 961.4L1258.0 977.6L1258.5 988.1L1259.0 994.1L1259.5 1003.0L1260.0 1009.3L1260.5 1016.9L1261.0 1022.0L1261.5 1025.4L1262.0 1027.9L1262.5 1030.8L1263.0 1032.3L1263.5 1036.9L1264.0 1039.1L1264.5 1040.6L1265.0 1041.7L1265.5 1044.5L1266.0 1042.7L1266.5 1045.7L1267.0 1046.7L1267.5 1047.2L1268.0 1046.7L1268.5 1048.2L1269.0 1049.9L1269.5 1052.2L1270.0 1051.6L1270.5 1050.3L1271.0 1050.8L1271.5 1051.7L1272.0 1050.1L1272.5 1052.0L1273.0 1052.8L1273.5 1053.1L1274.0 1054.8L1274.5 1055.6L1275.0 1055.3L1275.5 1054.3L1276.0 1055.0L1276.5 1055.7L1277.0 1057.8L1277.5 1057.1L1278.0 1054.4L1278.5 1056.0L1279.0 1055.1L1279.5 1058.4L1280.0 1057.3L1280.5 1056.6L1281.0 1057.2L1281.5 1058.0L1282.0 1057.6L1282.5 1057.6L1283.0 1058.4L1283.5 1059.5L1284.0 1054.4L1284.5 1060.9L1285.0 1055.9L1285.5 1059.2L1286.0 1056.7L1286.5 1059.2L1287.0 1057.0L1287.5 1059.9L1288.0 1059.5L1288.5 1060.3L1289.0 1058.3L1289.5 1059.5L1290.0 1057.0L1290.5 1060.4L1291.0 1059.3L1291.5 1059.1L1292.0 1057.0L1292.5 1057.6L1293.0 1060.4L1293.5 1058.7L1294.0 1057.5L1294.5 1057.6L1295.0 1057.8L1295.5 1057.8L1296.0 1058.7L1296.5 1059.2L1297.0 1059.0L1297.5 1057.7L1298.0 1061.1L1298.5 1058.0L1299.0 1062.5L1299.5 1060.5L1300.0 1058.8L1300.5 1059.6L1301.0 1059.9L1301.5 1058.2L1302.0 1059.6L1302.5 1058.2L1303.0 1059.8L1303.5 1058.6L1304.0 1059.5L1304.5 1058.1L1305.0 1058.2L1305.5 1060.1L1306.0 1059.5L1306.5 1058.2L1307.0 1059.8L1307.5 1061.3L1308.0 1057.7L1308.5 1059.0L1309.0 1058.4L1309.5 1059.0L1310.0 1060.0L1310.5 1058.1L1311.0 1061.8L1311.5 1060.7L1312.0 1060.6L1312.5 1059.8L1313.0 1059.3L1313.5 1061.0L1314.0 1059.8L1314.5 1060.5L1315.0 1058.6L1315.5 1061.4L1316.0 1060.9L1316.5 1057.3L1317.0 1059.5L1317.5 1058.8L1318.0 1058.7L1318.5 1058.5L1319.0 1058.8L1319.5 1057.9L1320.0 1060.5L1320.5 1058.5L1321.0 1058.9L1321.5 1056.6L1322.0 1057.7L1322.5 1059.9L1323.0 1056.1L1323.5 1057.2L1324.0 1056.8L1324.5 1058.2L1325.0 1056.6L1325.5 1058.3L1326.0 1056.3L1326.5 1056.9L1327.0 1055.4L1327.5 1056.2L1328.0 1057.3L1328.5 1056.9L1329.0 1056.9L1329.5 1056.0L1330.0 1056.4L1330.5 1058.4L1331.0 1056.0L1331.5 1055.8L1332.0 1057.9L1332.5 1058.2L1333.0 1054.1L1333.5 1055.1L1334.0 1055.1L1334.5 1056.6L1335.0 1054.2L1335.5 1054.5L1336.0 1055.4L1336.5 1053.3L1337.0 1053.4L1337.5 1053.5L1338.0 1054.3L1338.5 1051.9L1339.0 1050.2L1339.5 1050.9L1340.0 1050.5L1340.5 1049.9L1341.0 1049.7L1341.5 1049.1L1342.0 1049.5L1342.5 1047.2L1343.0 1048.4L1343.5 1046.6L1344.0 1045.4L1344.5 1044.6L1345.0 1041.9L1345.5 1042.6L1346.0 1043.8L1346.5 1040.7L1347.0 1038.5L1347.5 1038.8L1348.0 1037.2L1348.5 1036.5L1349.0 1036.4L1349.5 1034.7L1350.0 1030.4L1350.5 1031.1L1351.0 1029.8L1351.5 1025.1L1352.0 1024.4L1352.5 1024.5L1353.0 1020.4L1353.5 1017.4L1354.0 1016.8L1354.5 1015.9L1355.0 1009.5L1355.5 1012.8L1356.0 1010.1L1356.5 1008.3L1357.0 1007.0L1357.1 1010.2L1357.5 1009.2L1358.0 1005.4L1358.1 1006.6L1358.5 1007.0L1358.6 1006.7L1359.0 1006.2L1359.1 1008.1L1359.5 1006.9L1360.0 1006.8L1360.1 1008.5L1360.5 1006.2L1361.0 1009.1L1361.5 1011.2L1362.0 1009.2L1362.5 1014.4L1363.0 1014.6L1363.5 1019.4L1364.0 1021.1L1364.5 1023.9L1365.0 1026.5L1365.5 1028.9L1366.0 1027.0L1366.5 1030.9L1367.0 1030.3L1367.5 1031.8L1368.0 1032.6L1368.5 1035.8L1369.0 1037.0L1369.5 1039.9L1370.0 1040.5L1370.5 1040.1L1371.0 1040.7L1371.5 1042.4L1372.0 1042.9L1372.5 1043.1L1373.0 1044.3L1373.5 1044.0L1374.0 1047.1L1374.5 1046.2L1375.0 1048.7L1375.5 1047.2L1376.0 1045.7L1376.5 1047.4L1377.0 1047.6L1377.5 1047.0L1378.0 1048.4L1378.5 1048.2L1379.0 1049.8L1379.5 1050.5L1380.0 1050.7L1380.5 1051.9L1381.0 1051.0L1381.5 1049.6L1382.0 1048.5L1382.5 1052.1L1383.0 1054.4L1383.5 1052.1L1384.0 1052.4L1384.5 1053.9L1385.0 1054.5L1385.5 1053.7L1386.0 1054.7L1386.5 1054.3L1387.0 1054.2L1387.5 1054.9L1388.0 1056.1L1388.5 1055.6L1389.0 1056.8L1389.5 1056.8L1390.0 1056.6L1390.5 1057.2L1391.0 1058.7L1391.5 1057.0L1392.0 1057.3L1392.5 1057.2L1393.0 1057.2L1393.5 1056.0L1394.0 1055.4L1394.5 1054.3L1395.0 1054.9L1395.5 1055.1L1396.0 1054.0L1396.5 1056.1L1397.0 1055.8L1397.5 1054.9L1398.0 1058.5L1398.5 1059.5L1399.0 1057.9L1399.5 1059.8L1400.0 1059.8L1400.5 1060.2L1401.0 1059.3L1401.5 1058.7L1402.0 1058.9L1402.5 1059.7L1403.0 1059.1L1403.5 1060.1L1404.0 1057.3L1404.5 1059.4L1405.0 1056.8L1405.5 1059.0L1406.0 1061.4L1406.5 1056.1L1407.0 1058.5L1407.5 1060.8L1408.0 1057.6L1408.5 1059.3L1409.0 1059.2L1409.5 1055.4L1410.0 1057.0L1410.5 1057.4L1411.0 1058.5L1411.5 1059.0L1412.0 1056.4L1412.5 1057.8L1413.0 1057.0L1413.5 1058.6L1414.0 1055.9L1414.5 1055.1L1415.0 1055.0L1415.5 1053.7L1416.0 1059.2L1416.5 1052.1L1417.0 1053.3L1417.5 1052.7L1418.0 1051.7L1418.5 1052.4L1419.0 1048.3L1419.5 1046.3L1420.0 1048.3L1420.5 1046.5L1421.0 1046.0L1421.5 1040.4L1422.0 1045.6L1422.5 1044.7L1423.0 1041.5L1423.5 1039.1L1424.0 1038.2L1424.5 1038.5L1425.0 1036.3L1425.5 1037.4L1426.0 1033.5L1426.5 1032.4L1427.0 1031.6L1427.5 1031.2L1428.0 1030.9L1428.5 1033.6L1429.0 1031.5L1429.5 1032.2L1430.0 1035.0L1430.5 1036.0L1431.0 1032.4L1431.5 1033.1L1432.0 1038.9L1432.5 1038.6L1433.0 1040.3L1433.5 1041.4L1434.0 1042.7L1434.5 1042.7L1435.0 1042.3L1435.5 1045.7L1436.0 1047.5L1436.5 1049.2L1437.0 1049.3L1437.5 1051.1L1438.0 1050.1L1438.5 1051.1L1439.0 1055.5L1439.5 1053.2L1440.0 1054.9L1440.5 1054.7L1441.0 1055.7L1441.5 1054.4L1442.0 1053.4L1442.5 1058.1L1443.0 1057.0L1443.5 1059.5L1444.0 1055.3L1444.5 1057.1L1445.0 1058.9L1445.5 1059.8L1446.0 1058.9L1446.5 1057.9L1447.0 1058.6L1447.5 1058.5L1448.0 1060.0L1448.5 1058.1L1449.0 1060.2L1449.5 1061.5L1450.0 1060.7L1450.5 1061.3L1451.0 1060.6L1451.5 1061.3L1452.0 1057.8L1452.5 1060.3L1453.0 1060.5L1453.5 1061.2L1454.0 1059.8L1454.5 1063.3L1455.0 1059.6L1455.5 1062.9L1456.0 1062.4L1456.5 1062.2L1457.0 1060.8L1457.5 1064.0L1458.0 1060.2L1458.5 1060.7L1459.0 1060.1L1459.5 1059.3L1460.0 1062.7L1460.5 1064.7L1461.0 1062.1L1461.5 1062.1L1462.0 1062.0L1462.5 1063.0L1463.0 1061.3L1463.5 1062.3L1464.0 1061.9L1464.5 1061.5L1465.0 1062.6L1465.5 1063.8L1466.0 1062.7L1466.5 1062.7L1467.0 1062.8L1467.5 1064.3L1468.0 1061.8L1468.5 1064.0L1469.0 1061.5L1469.5 1062.5L1470.0 1062.2L1470.5 1061.6L1471.0 1063.1L1471.5 1062.2L1472.0 1060.1L1472.5 1063.3L1473.0 1057.8L1473.5 1056.0L1474.0 1055.0L1474.5 1050.6L1475.0 1042.9L1475.1 1041.4L1475.5 1037.8L1476.0 1029.5L1476.1 1029.7L1476.5 1027.4L1476.6 1027.7L1477.0 1027.0L1477.1 1030.3L1477.5 1033.3L1478.0 1040.8L1478.1 1041.7L1478.5 1048.7L1479.0 1053.0L1479.5 1057.0L1480.0 1058.9L1480.5 1062.2L1481.0 1062.8L1481.5 1060.2L1482.0 1062.3L1482.5 1067.5L1483.0 1064.8L1483.5 1064.6L1484.0 1064.2L1484.5 1063.4L1485.0 1064.0L1485.5 1066.2L1486.0 1065.5L1486.5 1066.1L1487.0 1066.7L1487.5 1064.1L1488.0 1064.0L1488.5 1063.7L1489.0 1065.3L1489.5 1064.7L1490.0 1066.1L1490.5 1065.4L1491.0 1064.7L1491.5 1066.0L1492.0 1066.5L1492.5 1064.0L1493.0 1064.5L1493.5 1064.0L1494.0 1064.8L1494.5 1064.3L1495.0 1064.0L1495.5 1063.6L1496.0 1063.4L1496.5 1065.8L1497.0 1066.5L1497.5 1065.0L1498.0 1064.0L1498.5 1063.9L1499.0 1064.5L1499.5 1064.5L1500.0 1064.3L1500.5 1064.7L1501.0 1061.5L1501.5 1063.9L1502.0 1064.9L1502.5 1063.7L1503.0 1064.6L1503.5 1064.4L1504.0 1065.6L1504.5 1066.6L1505.0 1065.0L1505.5 1067.9L1506.0 1065.9L1506.5 1064.4L1507.0 1064.3L1507.5 1064.9L1508.0 1063.5L1508.5 1064.5L1509.0 1064.6L1509.5 1065.3L1510.0 1066.3L1510.5 1063.2L1511.0 1064.7L1511.5 1065.0L1512.0 1066.1L1512.5 1066.7L1513.0 1066.1L1513.5 1064.3L1514.0 1066.0L1514.5 1064.2L1515.0 1065.3L1515.5 1064.7L1516.0 1064.5L1516.5 1066.2L1517.0 1067.5L1517.5 1064.7L1518.0 1064.1L1518.5 1063.4L1519.0 1065.5L1519.5 1064.9L1520.0 1064.1L1520.5 1067.4L1521.0 1063.0L1521.5 1066.5L1522.0 1065.7L1522.5 1062.5L1523.0 1063.5L1523.5 1063.0L1524.0 1066.0L1524.5 1066.2L1525.0 1068.0L1525.5 1067.6L1526.0 1065.8L1526.5 1065.6L1527.0 1065.4L1527.5 1065.6L1528.0 1064.7L1528.5 1064.0L1529.0 1062.4L1529.5 1063.9L1530.0 1064.0L1530.5 1064.8L1531.0 1066.0L1531.5 1063.3L1532.0 1063.0L1532.5 1062.5L1533.0 1064.4L1533.5 1065.8L1534.0 1063.4L1534.5 1064.2L1535.0 1065.2L1535.5 1064.7L1536.0 1064.0L1536.5 1064.2L1537.0 1063.8L1537.5 1065.1L1538.0 1065.0L1538.5 1061.6L1539.0 1062.1L1539.5 1064.1L1540.0 1064.2L1540.5 1064.9L1541.0 1062.4L1541.5 1062.6L1542.0 1062.0L1542.5 1062.4L1543.0 1059.8L1543.5 1061.1L1544.0 1059.0L1544.5 1057.5L1545.0 1054.5L1545.5 1050.4L1546.0 1044.5L1546.5 1033.8L1547.0 1021.9L1547.3 1015.4L1547.5 1011.6L1548.0 1001.8L1548.3 993.7L1548.5 993.7L1548.8 993.9L1549.0 991.2L1549.3 994.0L1549.5 996.8L1550.0 1004.0L1550.3 1011.3L1550.5 1016.1L1551.0 1024.6L1551.5 1032.8L1552.0 1037.5L1552.5 1041.6L1553.0 1044.3L1553.5 1047.5L1554.0 1050.5L1554.5 1055.1L1555.0 1055.2L1555.5 1059.1L1556.0 1059.8L1556.5 1060.4L1557.0 1062.2L1557.5 1064.5L1558.0 1061.7L1558.5 1062.6L1559.0 1064.7L1559.5 1064.0L1560.0 1064.3L1560.5 1060.7L1561.0 1062.9L1561.5 1065.8L1562.0 1063.7L1562.5 1064.7L1563.0 1062.3L1563.5 1063.7L1564.0 1061.2L1564.5 1063.4L1565.0 1060.9L1565.5 1061.3L1566.0 1063.1L1566.5 1062.6L1567.0 1061.3L1567.5 1062.1L1568.0 1061.6L1568.5 1061.4L1569.0 1061.4L1569.5 1061.2L1570.0 1060.0L1570.5 1063.0L1571.0 1061.7L1571.5 1062.6L1572.0 1058.9L1572.5 1059.2L1573.0 1061.2L1573.5 1061.3L1574.0 1060.4L1574.5 1059.0" fill="none" stroke="#000000" stroke-width="9.6" stroke-linejoin="round" stroke-linecap="round"/>
<path d="M207.0 959.3L207.5 959.3L208.0 960.6L208.5 963.2L209.0 960.8L209.5 964.1L210.0 965.8L210.5 965.0L211.0 966.2L211.5 965.7L212.0 968.2L212.5 968.6L213.0 970.3L213.5 970.5L214.0 971.6L214.5 970.9L215.0 971.5L215.5 972.3L216.0 973.1L216.5 972.2L217.0 975.3L217.5 975.4L218.0 974.2L218.5 975.1L219.0 976.2L219.5 977.5L220.0 977.3L220.5 978.5L221.0 980.0L221.5 978.6L222.0 980.7L222.5 980.2L223.0 981.7L223.5 981.7L224.0 980.9L224.5 981.1L225.0 983.8L225.5 983.4L226.0 982.9L226.5 982.8L227.0 981.3L227.5 983.7L228.0 981.9L228.5 978.8L229.0 982.6L229.5 981.3L230.0 979.5L230.5 981.8L231.0 983.3L231.5 985.2L232.0 985.3L232.5 984.9L233.0 984.6L233.5 987.1L234.0 985.9L234.5 988.5L235.0 984.9L235.5 991.4L236.0 987.5L236.5 989.2L237.0 990.3L237.5 991.7L238.0 992.2L238.5 989.2L239.0 991.9L239.5 990.7L240.0 989.2L240.5 989.5L241.0 990.0L241.5 990.8L242.0 990.9L242.5 992.0L243.0 990.6L243.5 992.9L244.0 990.9L244.5 989.6L245.0 991.6L245.5 992.1L246.0 988.6L246.5 992.3L247.0 992.1L247.5 996.2L248.0 992.7L248.5 989.2L249.0 990.1L249.5 989.5L250.0 993.8L250.5 991.0L251.0 993.5L251.5 991.3L252.0 991.6L252.5 991.5L253.0 993.6L253.5 992.9L254.0 991.8L254.5 991.4L255.0 993.8L255.5 994.3L256.0 993.7L256.5 993.5L257.0 991.9L257.5 991.2L258.0 993.4L258.5 995.0L259.0 994.0L259.5 992.4L260.0 994.2L260.5 994.9L261.0 994.6L261.5 990.7L262.0 992.7L262.5 993.0L263.0 994.8L263.5 991.7L264.0 990.7L264.5 994.6L265.0 994.1L265.5 995.1L266.0 992.7L266.5 995.9L267.0 993.7L267.5 994.1L268.0 993.8L268.5 992.4L269.0 996.1L269.5 994.2L270.0 994.2L270.5 993.3L271.0 994.5L271.5 993.1L272.0 992.7L272.5 991.2L273.0 993.4L273.5 994.3L274.0 994.5L274.5 993.6L275.0 995.6L275.5 992.9L276.0 992.8L276.5 995.5L277.0 993.8L277.5 993.6L278.0 995.6L278.5 992.3L279.0 995.4L279.5 992.9L280.0 994.1L280.5 993.8L281.0 992.1L281.5 992.7L282.0 997.1L282.5 994.3L283.0 993.9L283.5 996.7L284.0 992.9L284.5 993.9L285.0 990.8L285.5 988.9L286.0 984.7L286.1 983.8L286.5 982.4L287.0 976.8L287.1 975.4L287.5 972.4L287.6 973.7L288.0 975.5L288.1 977.7L288.5 981.6L289.0 982.9L289.1 983.5L289.5 989.5L290.0 989.1L290.5 995.8L291.0 994.1L291.5 994.4L292.0 994.6L292.5 994.9L293.0 995.0L293.5 996.6L294.0 994.5L294.5 994.7L295.0 994.8L295.5 994.7L296.0 997.0L296.5 996.7L297.0 993.3L297.5 995.9L298.0 997.5L298.5 995.6L299.0 995.7L299.5 996.9L300.0 994.9L300.5 997.3L301.0 997.4L301.5 997.3L302.0 997.1L302.5 995.8L303.0 996.9L303.5 995.7L304.0 997.7L304.5 994.6L305.0 994.5L305.5 995.3L306.0 993.7L306.5 995.5L307.0 998.7L307.5 1000.7L308.0 995.7L308.5 998.3L309.0 996.8L309.5 995.1L310.0 995.6L310.5 997.2L311.0 996.3L311.5 993.4L312.0 996.0L312.5 995.8L313.0 995.6L313.5 996.1L314.0 995.9L314.5 995.0L315.0 995.2L315.5 996.3L316.0 992.5L316.5 995.6L317.0 997.4L317.5 996.4L318.0 997.1L318.5 995.5L319.0 995.5L319.5 993.1L320.0 996.8L320.5 994.2L321.0 996.2L321.5 995.4L322.0 994.2L322.5 993.0L323.0 994.4L323.5 994.3L324.0 995.2L324.5 998.2L325.0 993.0L325.5 994.1L326.0 993.9L326.5 993.2L327.0 994.0L327.5 994.7L328.0 996.3L328.5 995.2L329.0 993.5L329.5 998.0L330.0 993.7L330.5 993.2L331.0 994.1L331.5 994.5L332.0 992.3L332.5 994.3L333.0 992.7L333.5 995.4L334.0 994.4L334.5 994.4L335.0 996.7L335.5 993.2L336.0 993.5L336.5 993.9L337.0 993.4L337.5 992.4L338.0 994.7L338.5 995.2L339.0 995.2L339.5 993.5L340.0 993.4L340.5 993.3L341.0 994.2L341.5 991.8L342.0 995.1L342.5 993.2L343.0 993.4L343.5 994.9L344.0 994.5L344.5 992.3L345.0 992.8L345.5 994.5L346.0 993.6L346.5 992.9L347.0 992.1L347.5 991.1L348.0 992.4L348.5 992.2L349.0 991.4L349.5 992.8L350.0 992.2L350.5 992.7L351.0 992.2L351.5 991.0L352.0 990.2L352.5 992.0L353.0 991.1L353.5 994.1L354.0 990.5L354.5 992.9L355.0 990.5L355.5 990.8L356.0 990.9L356.5 995.4L357.0 990.7L357.5 992.1L358.0 993.3L358.5 991.4L359.0 991.6L359.5 992.9L360.0 991.1L360.5 992.6L361.0 992.7L361.5 989.0L362.0 991.8L362.5 989.8L363.0 990.6L363.5 991.8L364.0 990.2L364.5 987.9L365.0 992.4L365.5 988.0L366.0 991.3L366.5 992.5L367.0 991.3L367.5 990.2L368.0 989.7L368.5 990.2L369.0 992.6L369.5 991.3L370.0 988.7L370.5 991.4L371.0 992.1L371.5 990.9L372.0 988.7L372.5 989.1L373.0 989.9L373.5 989.6L374.0 991.7L374.5 989.6L375.0 991.9L375.5 991.4L376.0 991.1L376.5 991.9L377.0 988.8L377.5 988.9L378.0 992.3L378.5 989.7L379.0 990.7L379.5 989.7L380.0 989.9L380.5 989.8L381.0 989.2L381.5 990.1L382.0 987.0L382.5 990.8L383.0 991.6L383.5 989.0L384.0 991.9L384.5 989.0L385.0 989.9L385.5 988.9L386.0 989.1L386.5 986.9L387.0 988.2L387.5 987.2L388.0 987.1L388.5 986.7L389.0 988.6L389.5 988.5L390.0 987.4L390.5 988.9L391.0 984.4L391.5 988.7L392.0 989.4L392.5 991.2L393.0 988.3L393.5 989.2L394.0 987.0L394.5 988.4L395.0 986.0L395.5 987.6L396.0 988.2L396.5 989.3L397.0 986.5L397.5 987.9L398.0 988.8L398.5 988.2L399.0 985.3L399.5 989.2L400.0 985.8L400.5 984.9L401.0 985.8L401.5 986.8L402.0 984.6L402.5 985.2L403.0 989.1L403.5 984.2L404.0 985.1L404.5 986.3L405.0 982.7L405.5 985.0L406.0 985.0L406.5 982.9L407.0 980.5L407.5 985.0L408.0 985.2L408.5 983.5L409.0 981.5L409.5 983.8L410.0 982.5L410.5 982.9L411.0 982.2L411.5 981.7L412.0 981.0L412.5 981.8L413.0 981.1L413.5 981.0L414.0 983.4L414.5 982.1L415.0 981.4L415.5 980.8L416.0 981.4L416.5 980.5L417.0 979.8L417.5 977.2L418.0 978.8L418.5 977.4L419.0 977.3L419.5 978.2L420.0 976.8L420.5 976.4L421.0 977.8L421.5 977.3L422.0 976.8L422.5 976.0L423.0 973.6L423.5 973.9L424.0 972.8L424.5 973.0L425.0 973.5L425.5 970.5L426.0 973.1L426.5 969.9L427.0 971.4L427.5 970.8L428.0 969.8L428.5 968.3L429.0 967.8L429.5 964.8L430.0 967.1L430.5 965.5L431.0 965.5L431.5 963.4L432.0 961.0L432.5 961.7L433.0 961.9L433.5 960.0L434.0 957.6L434.5 954.9L435.0 957.0L435.5 952.8L436.0 953.2L436.5 951.9L437.0 948.5L437.5 944.0L438.0 947.3L438.5 941.2L439.0 939.8L439.5 935.4L440.0 935.7L440.5 930.7L441.0 928.8L441.5 924.7L442.0 917.5L442.5 912.7L443.0 906.0L443.5 900.9L444.0 898.0L444.5 891.8L445.0 882.9L445.5 871.7L446.0 862.5L446.5 852.0L447.0 839.7L447.5 825.3L448.0 808.9L448.5 794.6L449.0 773.8L449.5 753.5L450.0 728.2L450.5 698.4L451.0 666.3L451.5 630.3L451.9 600.6L452.0 592.7L452.5 558.6L452.9 538.5L453.0 533.0L453.4 525.6L453.5 528.1L453.9 535.6L454.0 542.7L454.5 569.9L454.9 599.5L455.0 608.2L455.5 644.4L456.0 675.5L456.5 707.1L457.0 734.8L457.5 759.3L458.0 781.6L458.5 798.9L459.0 816.3L459.5 829.9L460.0 844.3L460.5 855.2L461.0 863.7L461.5 872.4L462.0 883.9L462.5 892.5L463.0 895.8L463.5 904.7L464.0 910.2L464.5 914.1L465.0 919.8L465.5 923.3L466.0 925.5L466.5 931.0L467.0 933.3L467.5 937.3L468.0 940.8L468.5 940.8L469.0 944.6L469.5 949.3L470.0 948.0L470.5 949.4L471.0 952.2L471.5 951.0L472.0 957.2L472.5 959.5L473.0 958.5L473.5 958.4L474.0 959.3L474.5 961.2L475.0 959.9L475.5 963.8L476.0 965.6L476.5 964.5L477.0 967.1L477.5 964.8L478.0 968.8L478.5 967.1L479.0 970.0L479.5 968.9L480.0 972.1L480.5 973.2L481.0 972.1L481.5 971.9L482.0 971.7L482.5 975.2L483.0 973.9L483.5 972.8L484.0 975.8L484.5 977.2L485.0 975.0L485.5 975.7L486.0 977.2L486.5 975.5L487.0 975.0L487.5 977.3L488.0 974.6L488.5 976.1L489.0 974.9L489.5 976.4L490.0 976.1L490.5 976.4L491.0 977.6L491.5 974.5L492.0 977.8L492.5 976.9L493.0 973.4L493.5 969.3L493.6 968.6L494.0 967.8L494.5 964.5L494.6 964.4L495.0 965.1L495.1 964.3L495.5 963.3L495.6 963.5L496.0 968.1L496.5 971.3L496.6 970.5L497.0 976.0L497.5 978.4L498.0 979.8L498.5 981.9L499.0 979.0L499.5 982.1L500.0 982.6L500.5 982.1L501.0 982.3L501.5 982.4L502.0 983.0L502.5 983.0L503.0 982.5L503.5 983.7L504.0 983.4L504.5 984.7L505.0 981.8L505.5 985.1L506.0 983.8L506.5 984.6L507.0 984.8L507.5 984.0L508.0 984.9L508.5 984.2L509.0 986.3L509.5 983.5L510.0 984.1L510.5 986.5L511.0 986.4L511.5 986.1L512.0 986.7L512.5 986.1L513.0 986.9L513.5 986.8L514.0 985.7L514.5 985.3L515.0 986.3L515.5 984.8L516.0 986.3L516.5 987.1L517.0 987.8L517.5 985.0L518.0 986.6L518.5 985.8L519.0 984.3L519.5 986.3L520.0 987.6L520.5 988.1L521.0 988.6L521.5 986.6L522.0 987.2L522.5 986.9L523.0 986.5L523.5 987.9L524.0 986.4L524.5 985.6L525.0 984.5L525.5 987.1L526.0 988.3L526.5 986.7L527.0 985.2L527.5 986.8L528.0 985.7L528.5 985.6L529.0 983.8L529.5 984.4L530.0 981.5L530.5 985.9L531.0 980.8L531.5 983.0L532.0 983.5L532.5 984.6L533.0 985.0L533.5 986.2L534.0 986.0L534.5 986.4L535.0 987.8L535.5 987.1L536.0 987.9L536.5 988.5L537.0 985.8L537.5 987.3L538.0 988.4L538.5 988.4L539.0 988.7L539.5 987.4L540.0 989.1L540.5 988.6L541.0 987.6L541.5 990.6L542.0 990.2L542.5 986.5L543.0 989.8L543.5 988.0L544.0 987.4L544.5 989.4L545.0 991.1L545.5 987.9L546.0 988.7L546.5 990.2L547.0 990.2L547.5 989.1L548.0 990.1L548.5 988.4L549.0 989.4L549.5 990.0L550.0 989.3L550.5 988.5L551.0 987.9L551.5 988.8L552.0 991.1L552.5 990.7L553.0 986.9L553.5 988.6L554.0 990.8L554.5 989.2L555.0 989.9L555.5 987.5L556.0 990.2L556.5 989.9L557.0 989.1L557.5 989.4L558.0 990.7L558.5 990.6L559.0 988.2L559.5 992.1L560.0 989.6L560.5 991.5L561.0 988.7L561.5 989.0L562.0 988.8L562.5 991.7L563.0 988.0L563.5 989.3L564.0 988.1L564.5 988.0L565.0 991.0L565.5 989.3L566.0 990.3L566.5 988.2L567.0 989.8L567.5 988.6L568.0 988.9L568.5 988.7L569.0 991.1L569.5 990.8L570.0 992.5L570.5 990.5L571.0 990.8L571.5 989.9L572.0 991.0L572.5 988.0L573.0 991.6L573.5 988.6L574.0 990.1L574.5 988.7L575.0 989.5L575.5 990.8L576.0 990.0L576.5 990.3L577.0 990.5L577.5 989.9L578.0 989.4L578.5 991.6L579.0 990.8L579.5 990.3L580.0 989.5L580.5 990.7L581.0 990.2L581.5 992.4L582.0 989.9L582.5 988.6L583.0 990.6L583.5 988.4L584.0 992.9L584.5 987.0L585.0 990.7L585.5 989.0L586.0 990.1L586.5 990.3L587.0 991.5L587.5 991.2L588.0 989.9L588.5 989.8L589.0 989.1L589.5 987.5L590.0 990.7L590.5 987.5L591.0 989.4L591.5 989.2L592.0 988.6L592.5 989.3L593.0 988.9L593.5 989.9L594.0 986.9L594.5 990.0L595.0 989.2L595.5 987.6L596.0 988.7L596.5 986.7L597.0 985.1L597.5 984.2L598.0 982.0L598.5 976.4L599.0 965.6L599.3 958.5L599.5 951.2L600.0 940.4L600.3 932.7L600.5 930.2L600.8 926.9L601.0 927.8L601.3 930.0L601.5 937.2L602.0 948.9L602.3 958.9L602.5 963.0L603.0 972.6L603.5 979.7L604.0 982.3L604.5 984.8L605.0 987.0L605.5 989.4L606.0 986.8L606.5 987.1L607.0 989.0L607.5 987.4L608.0 988.4L608.5 987.5L609.0 987.4L609.5 988.3L610.0 989.0L610.5 987.2L611.0 984.4L611.5 989.7L612.0 991.4L612.5 988.6L613.0 987.1L613.5 988.1L614.0 987.6L614.5 989.1L615.0 987.9L615.5 991.7L616.0 989.6L616.5 988.6L617.0 991.1L617.5 990.1L618.0 988.0L618.5 991.8L619.0 987.8L619.5 988.4L620.0 988.6L620.5 989.7L621.0 989.7L621.5 987.7L622.0 990.2L622.5 991.0L623.0 987.2L623.5 991.2L624.0 991.3L624.5 988.1L625.0 991.5L625.5 989.6L626.0 990.3L626.5 988.4L627.0 987.7L627.5 989.4L628.0 987.2L628.5 988.9L629.0 987.7L629.5 988.6L630.0 987.6L630.5 986.0L631.0 987.8L631.5 987.4L632.0 986.1L632.5 984.9L633.0 982.9L633.5 983.9L634.0 983.4L634.5 983.8L635.0 983.6L635.5 979.9L636.0 981.2L636.5 980.6L637.0 983.1L637.5 984.1L638.0 985.2L638.5 986.6L639.0 984.4L639.5 986.2L640.0 985.8L640.5 987.2L641.0 984.8L641.5 986.3L642.0 989.2L642.5 988.4L643.0 989.0L643.5 986.3L644.0 985.6L644.5 987.7L645.0 987.2L645.5 986.6L646.0 984.2L646.5 984.9L647.0 984.9L647.5 982.7L648.0 979.1L648.5 983.5L649.0 983.3L649.5 985.8L650.0 983.1L650.5 983.2L651.0 982.1L651.5 985.0L652.0 982.4L652.5 987.0L653.0 983.1L653.5 987.1L654.0 987.3L654.5 987.0L655.0 988.7L655.5 988.3L656.0 990.7L656.5 990.8L657.0 990.8L657.5 990.2L658.0 989.7L658.5 988.9L659.0 990.1L659.5 991.3L660.0 989.3L660.5 989.4L661.0 989.3L661.5 989.8L662.0 991.0L662.5 987.7L663.0 990.3L663.5 992.3L664.0 988.2L664.5 991.7L665.0 990.5L665.5 993.5L666.0 988.1L666.5 990.6L667.0 990.8L667.5 992.4L668.0 991.7L668.5 987.9L669.0 989.8L669.5 990.0L670.0 990.5L670.5 988.8L671.0 990.7L671.5 989.7L672.0 990.0L672.5 990.4L673.0 990.4L673.5 989.2L674.0 990.2L674.5 990.2L675.0 989.3L675.5 987.6L676.0 989.1L676.5 988.7L677.0 986.1L677.5 988.5L678.0 987.3L678.5 984.6L679.0 986.5L679.5 984.5L680.0 985.2L680.5 986.6L681.0 984.9L681.5 986.0L682.0 989.4L682.5 990.2L683.0 987.5L683.5 990.8L684.0 986.9L684.5 989.7L685.0 989.6L685.5 987.7L686.0 988.2L686.5 987.6L687.0 988.0L687.5 986.2L688.0 983.1L688.5 985.1L689.0 982.3L689.5 980.2L690.0 979.1L690.5 976.4L690.7 973.8L691.0 974.4L691.5 968.6L691.7 969.7L692.0 971.4L692.2 966.8L692.5 969.5L692.7 967.9L693.0 971.6L693.5 972.4L693.7 974.1L694.0 972.5L694.5 977.9L695.0 981.7L695.5 983.8L696.0 985.6L696.5 986.4L697.0 987.0L697.5 985.4L698.0 987.4L698.5 985.5L699.0 985.6L699.5 986.3L700.0 985.4L700.5 988.2L701.0 985.3L701.5 986.7L702.0 986.7L702.5 985.3L703.0 982.4L703.5 982.5L704.0 982.5L704.5 980.9L705.0 982.5L705.5 979.3L706.0 976.0L706.5 974.5L707.0 969.8L707.5 965.0L708.0 958.1L708.5 952.1L709.0 939.7L709.3 931.5L709.5 926.9L710.0 916.0L710.3 911.4L710.5 912.0L710.8 907.0L711.0 909.0L711.3 911.6L711.5 916.1L712.0 927.4L712.3 934.6L712.5 939.7L713.0 948.5L713.5 956.1L714.0 963.8L714.5 968.5L715.0 971.4L715.5 975.8L716.0 980.4L716.5 982.6L717.0 983.6L717.5 984.6L718.0 983.5L718.5 984.1L719.0 988.4L719.5 987.9L720.0 985.9L720.5 986.4L721.0 986.7L721.5 987.3L722.0 987.3L722.5 987.3L723.0 988.4L723.5 988.2L724.0 986.9L724.5 988.7L725.0 988.6L725.5 988.4L726.0 988.6L726.5 987.3L727.0 988.7L727.5 988.6L728.0 988.4L728.5 989.7L729.0 990.5L729.5 987.8L730.0 988.6L730.5 987.3L731.0 990.0L731.5 988.5L732.0 988.3L732.5 989.2L733.0 988.7L733.5 989.3L734.0 987.0L734.5 989.4L735.0 987.7L735.5 989.0L736.0 986.9L736.5 989.3L737.0 985.9L737.5 988.2L738.0 990.3L738.5 989.7L739.0 991.1L739.5 989.0L740.0 987.8L740.5 991.8L741.0 989.8L741.5 990.5L742.0 987.9L742.5 990.9L743.0 990.5L743.5 991.5L744.0 989.8L744.5 989.9L745.0 986.8L745.5 987.1L746.0 989.9L746.5 989.7L747.0 990.4L747.5 989.1L748.0 986.5L748.5 988.9L749.0 986.3L749.5 990.2L750.0 988.8L750.5 986.7L751.0 987.9L751.5 987.8L752.0 987.9L752.5 987.2L753.0 990.2L753.5 987.2L754.0 990.1L754.5 989.3L755.0 987.4L755.5 989.2L756.0 986.4L756.5 987.4L757.0 988.1L757.5 990.5L758.0 987.8L758.5 987.6L759.0 987.8L759.5 988.1L760.0 986.2L760.5 984.8L761.0 986.0L761.5 986.4L762.0 987.4L762.5 984.4L763.0 985.5L763.5 983.2L764.0 979.6L764.5 982.1L765.0 979.5L765.5 982.5L766.0 978.3L766.5 975.9L767.0 976.6L767.5 977.8L768.0 976.0L768.5 978.4L769.0 976.5L769.5 977.4L770.0 978.3L770.5 979.5L771.0 979.0L771.5 980.6L772.0 981.9L772.5 980.1L773.0 982.1L773.5 981.6L774.0 980.9L774.5 980.6L775.0 981.0L775.5 980.7L776.0 981.4L776.5 979.4L777.0 979.5L777.5 979.4L778.0 980.6L778.5 980.3L779.0 978.2L779.5 977.4L780.0 977.2L780.5 978.3L781.0 974.8L781.5 976.2L782.0 974.6L782.5 973.4L783.0 972.7L783.5 970.4L784.0 967.8L784.5 970.8L785.0 965.5L785.5 961.3L786.0 958.8L786.5 956.9L787.0 949.4L787.5 944.7L788.0 935.8L788.5 931.2L789.0 922.8L789.5 916.6L790.0 913.6L790.5 910.7L791.0 914.2L791.5 913.1L792.0 917.3L792.5 916.4L793.0 920.8L793.5 925.1L794.0 928.7L794.5 926.3L795.0 928.5L795.5 921.1L796.0 921.2L796.5 916.7L797.0 909.7L797.5 901.1L798.0 892.6L798.5 881.0L799.0 869.0L799.5 851.9L800.0 831.6L800.5 808.2L801.0 783.0L801.5 756.6L802.0 725.8L802.5 686.7L803.0 655.6L803.5 614.8L804.0 577.2L804.5 540.8L805.0 508.1L805.5 477.1L805.7 467.9L806.0 453.3L806.5 436.2L806.7 434.6L807.0 430.4L807.2 428.8L807.5 431.4L807.7 432.6L808.0 440.7L808.5 459.6L808.7 467.4L809.0 484.0L809.5 512.4L810.0 546.2L810.5 585.3L811.0 622.3L811.5 660.8L812.0 696.8L812.5 732.7L813.0 764.7L813.5 789.8L814.0 814.3L814.5 836.7L815.0 857.3L815.5 873.5L816.0 886.6L816.5 899.2L817.0 907.2L817.5 917.9L818.0 922.7L818.5 930.5L819.0 932.8L819.5 939.6L820.0 943.2L820.5 946.2L821.0 949.8L821.5 951.9L822.0 953.7L822.5 956.5L823.0 961.5L823.5 960.8L824.0 964.2L824.5 963.0L825.0 965.8L825.5 967.7L826.0 965.2L826.5 968.7L827.0 968.9L827.5 968.4L828.0 972.3L828.5 971.3L829.0 970.8L829.5 974.3L830.0 972.9L830.5 974.8L831.0 973.2L831.5 971.6L832.0 973.6L832.5 976.2L833.0 978.2L833.5 975.1L834.0 978.0L834.5 977.0L835.0 976.2L835.5 976.8L836.0 979.8L836.5 980.5L837.0 978.9L837.5 976.4L838.0 979.9L838.5 976.8L839.0 977.5L839.5 981.4L840.0 978.8L840.5 979.7L841.0 978.9L841.5 977.0L842.0 982.1L842.5 980.2L843.0 982.4L843.5 980.0L844.0 983.7L844.5 981.9L845.0 980.8L845.5 980.8L846.0 980.1L846.5 983.4L847.0 982.6L847.5 980.5L848.0 981.6L848.5 984.2L849.0 983.2L849.5 984.8L850.0 984.8L850.5 982.2L851.0 985.5L851.5 985.4L852.0 983.3L852.5 987.1L853.0 985.5L853.5 983.8L854.0 988.4L854.5 985.5L855.0 986.3L855.5 987.2L856.0 987.8L856.5 986.2L857.0 987.2L857.5 989.3L858.0 990.7L858.5 989.2L859.0 989.0L859.5 987.3L860.0 989.6L860.5 987.8L861.0 987.2L861.5 990.4L862.0 991.4L862.5 990.2L863.0 991.0L863.5 989.4L864.0 990.2L864.5 992.8L865.0 988.2L865.5 990.1L866.0 990.4L866.5 991.2L867.0 988.5L867.5 991.6L868.0 991.9L868.5 991.3L869.0 991.5L869.5 990.7L870.0 992.1L870.5 991.2L871.0 989.5L871.5 990.5L872.0 989.5L872.5 989.5L873.0 989.3L873.5 991.4L874.0 990.6L874.5 990.2L875.0 988.0L875.5 991.0L876.0 991.1L876.5 989.1L877.0 991.7L877.5 989.2L878.0 989.1L878.5 989.5L879.0 991.7L879.5 988.3L880.0 989.9L880.5 991.5L881.0 990.8L881.5 990.6L882.0 989.3L882.5 990.2L883.0 989.8L883.5 990.5L884.0 988.4L884.5 986.8L885.0 987.9L885.5 985.2L886.0 986.7L886.5 983.5L887.0 985.1L887.5 982.2L888.0 980.3L888.5 980.2L889.0 978.0L889.5 978.6L890.0 978.9L890.5 974.1L891.0 970.7L891.5 963.3L892.0 949.4L892.5 917.5L893.0 858.4L893.5 770.0L894.0 661.3L894.5 549.1L895.0 449.8L895.5 379.0L896.0 340.6L896.5 324.8L897.0 322.3L897.5 324.7L898.0 340.6L898.5 381.4L899.0 449.7L899.5 548.9L900.0 662.3L900.5 768.5L901.0 858.2L901.5 916.8L902.0 949.5L902.5 967.2L903.0 974.0L903.5 975.9L904.0 977.6L904.5 979.8L905.0 978.8L905.5 983.2L906.0 982.9L906.5 983.6L907.0 987.2L907.5 987.9L908.0 988.0L908.5 988.9L909.0 987.6L909.5 987.8L910.0 991.6L910.5 992.2L911.0 992.2L911.5 991.8L912.0 993.4L912.5 992.2L913.0 993.8L913.5 995.0L914.0 995.2L914.5 996.6L915.0 995.8L915.5 994.8L916.0 996.7L916.5 995.2L917.0 995.4L917.5 994.8L918.0 995.5L918.5 994.5L919.0 996.6L919.5 995.4L920.0 996.9L920.5 996.9L921.0 995.3L921.5 996.6L922.0 993.4L922.5 992.8L923.0 996.9L923.5 994.1L924.0 998.6L924.5 993.7L925.0 997.5L925.5 995.8L926.0 995.0L926.5 996.6L927.0 993.6L927.5 997.5L928.0 996.2L928.5 996.0L929.0 995.7L929.5 997.9L930.0 997.8L930.5 993.7L931.0 998.0L931.5 995.9L932.0 996.0L932.5 996.2L933.0 996.6L933.5 996.7L934.0 1000.5L934.5 996.1L935.0 995.4L935.5 996.2L936.0 993.6L936.5 996.2L937.0 996.0L937.5 993.5L938.0 993.9L938.5 990.9L939.0 995.5L939.5 993.4L940.0 992.8L940.5 990.0L941.0 987.8L941.5 990.4L942.0 990.1L942.5 987.7L943.0 988.1L943.5 989.2L944.0 988.6L944.5 989.6L945.0 990.2L945.5 990.3L946.0 989.5L946.5 992.3L947.0 990.6L947.5 992.2L948.0 992.5L948.5 991.1L949.0 996.9L949.5 994.1L950.0 995.9L950.5 997.9L951.0 996.2L951.5 996.9L952.0 995.5L952.5 997.0L953.0 998.7L953.5 997.1L954.0 998.8L954.5 997.1L955.0 997.1L955.5 997.2L956.0 997.5L956.5 996.6L957.0 998.6L957.5 996.0L958.0 997.7L958.5 999.2L959.0 997.5L959.5 996.5L960.0 998.1L960.5 996.5L961.0 998.8L961.5 999.5L962.0 997.8L962.5 997.7L963.0 1000.0L963.5 998.4L964.0 996.7L964.5 996.3L965.0 997.2L965.5 994.1L966.0 994.6L966.5 989.2L966.6 987.7L967.0 981.7L967.5 978.6L967.6 974.4L968.0 974.3L968.1 975.1L968.5 974.5L968.6 977.8L969.0 980.4L969.5 983.3L969.6 987.9L970.0 988.5L970.5 994.3L971.0 997.0L971.5 996.5L972.0 997.4L972.5 999.2L973.0 998.7L973.5 1000.7L974.0 998.1L974.5 997.4L975.0 997.1L975.5 1000.4L976.0 1000.2L976.5 1000.5L977.0 1000.0L977.5 997.2L978.0 996.8L978.5 1000.0L979.0 999.9L979.5 1000.4L980.0 998.6L980.5 999.5L981.0 1000.6L981.5 998.8L982.0 1001.3L982.5 1001.7L983.0 1000.1L983.5 999.9L984.0 999.2L984.5 998.4L985.0 996.7L985.5 999.1L986.0 998.7L986.5 996.7L987.0 998.6L987.5 997.7L988.0 998.7L988.5 1000.9L989.0 1000.1L989.5 996.6L990.0 999.7L990.5 999.0L991.0 998.4L991.5 998.3L992.0 997.9L992.5 996.2L993.0 996.2L993.5 998.0L994.0 996.8L994.5 997.0L995.0 996.7L995.5 995.2L996.0 994.3L996.5 997.0L997.0 996.8L997.5 996.3L998.0 996.9L998.5 995.7L999.0 994.8L999.5 994.0L1000.0 996.0L1000.5 997.6L1001.0 996.5L1001.5 994.2L1002.0 994.4L1002.5 995.2L1003.0 995.2L1003.5 994.2L1004.0 995.3L1004.5 993.9L1005.0 994.5L1005.5 993.2L1006.0 996.2L1006.5 993.9L1007.0 991.4L1007.5 993.2L1008.0 993.9L1008.5 995.8L1009.0 992.1L1009.5 993.5L1010.0 994.2L1010.5 989.7L1011.0 991.9L1011.5 991.1L1012.0 990.8L1012.5 988.7L1013.0 989.1L1013.5 989.4L1014.0 988.9L1014.5 988.9L1015.0 987.2L1015.5 987.9L1016.0 987.8L1016.5 987.9L1017.0 985.0L1017.5 986.0L1018.0 985.2L1018.5 986.4L1019.0 983.1L1019.5 983.9L1020.0 980.0L1020.5 982.5L1021.0 981.4L1021.5 978.3L1022.0 975.7L1022.5 975.1L1023.0 975.8L1023.5 975.0L1024.0 973.3L1024.5 973.9L1025.0 969.7L1025.5 972.7L1026.0 967.5L1026.5 967.5L1027.0 966.8L1027.5 963.2L1028.0 961.6L1028.5 962.1L1029.0 958.7L1029.5 955.9L1030.0 954.1L1030.5 951.6L1031.0 948.2L1031.5 944.1L1032.0 942.1L1032.5 939.3L1033.0 936.6L1033.5 932.1L1034.0 928.0L1034.5 922.9L1035.0 919.4L1035.5 913.6L1036.0 905.9L1036.5 900.5L1037.0 890.8L1037.5 880.7L1038.0 871.2L1038.5 859.4L1038.7 855.3L1039.0 848.0L1039.5 838.2L1039.7 833.9L1040.0 831.2L1040.2 832.9L1040.5 835.7L1040.7 837.0L1041.0 842.0L1041.5 850.7L1041.7 857.7L1042.0 862.6L1042.5 871.5L1043.0 883.7L1043.5 895.0L1044.0 901.4L1044.5 908.2L1045.0 915.3L1045.5 920.7L1046.0 923.1L1046.5 930.4L1047.0 935.2L1047.5 937.7L1048.0 940.9L1048.5 943.7L1049.0 945.1L1049.5 947.8L1050.0 952.7L1050.5 954.4L1051.0 955.3L1051.5 958.3L1052.0 960.5L1052.5 964.5L1053.0 963.9L1053.5 967.0L1054.0 965.0L1054.5 969.8L1055.0 970.3L1055.5 970.9L1056.0 971.4L1056.5 974.6L1057.0 975.3L1057.5 978.3L1058.0 980.7L1058.5 979.9L1059.0 979.5L1059.5 980.2L1060.0 980.4L1060.5 982.9L1061.0 981.3L1061.5 984.2L1062.0 986.2L1062.5 985.9L1063.0 986.4L1063.5 985.2L1064.0 986.2L1064.5 987.5L1065.0 987.4L1065.5 987.8L1066.0 991.0L1066.5 988.5L1067.0 990.5L1067.5 991.3L1068.0 992.0L1068.5 992.3L1069.0 990.8L1069.5 992.8L1070.0 991.2L1070.5 992.0L1071.0 993.4L1071.5 992.9L1072.0 990.8L1072.5 992.1L1073.0 990.9L1073.5 990.8L1074.0 994.7L1074.5 993.5L1075.0 993.7L1075.5 995.4L1076.0 994.0L1076.5 995.8L1077.0 994.5L1077.5 996.5L1078.0 996.1L1078.5 997.2L1079.0 1000.3L1079.5 997.7L1080.0 996.6L1080.5 998.5L1081.0 998.8L1081.5 998.5L1082.0 1000.3L1082.5 999.0L1083.0 997.9L1083.5 1000.3L1084.0 999.2L1084.5 997.6L1085.0 997.7L1085.5 998.7L1086.0 996.0L1086.5 996.4L1087.0 996.8L1087.5 998.8L1088.0 996.1L1088.5 998.8L1089.0 1000.5L1089.5 997.7L1090.0 1001.8L1090.5 999.1L1091.0 999.2L1091.5 1000.3L1092.0 1000.3L1092.5 1000.8L1093.0 1000.5L1093.5 996.3L1094.0 995.6L1094.5 997.6L1095.0 992.7L1095.5 987.3L1096.0 981.5L1096.5 975.5L1097.0 975.4L1097.5 978.6L1098.0 980.9L1098.5 987.8L1099.0 992.1L1099.5 995.2L1100.0 997.4L1100.5 997.3L1101.0 1001.8L1101.5 999.5L1102.0 1000.1L1102.5 1003.0L1103.0 1002.1L1103.5 1001.0L1104.0 1000.9L1104.5 997.2L1105.0 1000.7L1105.5 1001.4L1106.0 999.7L1106.5 1000.8L1107.0 1002.1L1107.5 1001.5L1108.0 1001.2L1108.5 1003.2L1109.0 1003.1L1109.5 1000.7L1110.0 1001.4L1110.5 1000.9L1111.0 1000.3L1111.5 998.8L1112.0 1000.2L1112.5 1004.2L1113.0 1000.2L1113.5 1001.6L1114.0 1003.5L1114.5 1002.0L1115.0 1002.6L1115.5 1002.3L1116.0 1002.5L1116.5 1002.4L1117.0 1001.1L1117.5 1001.5L1118.0 1002.2L1118.5 1003.8L1119.0 1002.7L1119.5 1001.3L1120.0 1000.7L1120.5 998.1L1121.0 1000.3L1121.5 1002.7L1122.0 1002.9L1122.5 1002.6L1123.0 1001.7L1123.5 1003.9L1124.0 999.8L1124.5 1004.0L1125.0 1003.6L1125.5 1001.5L1126.0 1001.9L1126.5 1003.3L1127.0 1001.1L1127.5 1003.4L1128.0 1002.7L1128.5 1000.9L1129.0 999.7L1129.5 1002.9L1130.0 1003.4L1130.5 1002.9L1131.0 1000.1L1131.5 1002.1L1132.0 999.9L1132.5 1001.2L1133.0 1002.3L1133.5 1000.5L1134.0 1002.0L1134.5 1002.8L1135.0 1001.5L1135.5 1000.2L1136.0 1003.9L1136.5 1003.0L1137.0 1001.9L1137.5 1003.7L1138.0 1003.1L1138.5 1003.2L1139.0 1000.6L1139.5 1001.4L1140.0 1002.6L1140.5 1000.7L1141.0 1002.6L1141.5 1002.2L1142.0 1002.4L1142.5 1002.2L1143.0 1000.3L1143.5 1000.7L1144.0 1002.8L1144.5 1000.5L1145.0 1000.2L1145.5 1002.0L1146.0 1002.4L1146.5 1000.8L1147.0 1001.7L1147.5 1000.6L1148.0 1000.7L1148.5 1001.2L1149.0 1001.6L1149.5 1000.6L1150.0 1001.4L1150.5 1002.9L1151.0 1000.0L1151.5 1002.7L1152.0 1002.9L1152.5 1003.2L1153.0 997.8L1153.5 1002.6L1154.0 999.2L1154.5 998.6L1155.0 999.6L1155.5 998.5L1156.0 1000.5L1156.5 1000.8L1157.0 1000.1L1157.5 998.0L1158.0 995.8L1158.5 996.6L1159.0 996.9L1159.5 998.9L1160.0 997.0L1160.5 994.9L1161.0 995.7L1161.5 996.7L1162.0 996.9L1162.5 994.9L1163.0 993.9L1163.5 992.9L1164.0 993.6L1164.5 994.6L1165.0 991.4L1165.5 994.5L1166.0 992.0L1166.5 993.7L1167.0 991.6L1167.5 991.2L1168.0 990.1L1168.5 988.5L1169.0 986.2L1169.5 985.4L1170.0 984.5L1170.5 984.2L1171.0 984.5L1171.5 978.8L1172.0 977.7L1172.5 975.9L1173.0 975.8L1173.5 970.4L1174.0 973.0L1174.5 967.1L1175.0 964.1L1175.5 960.8L1176.0 956.6L1176.5 949.8L1177.0 944.9L1177.5 938.4L1178.0 932.1L1178.5 924.3L1179.0 918.7L1179.5 907.3L1180.0 899.1L1180.5 891.2L1181.0 881.0L1181.5 871.3L1181.6 869.5L1182.0 863.8L1182.5 861.0L1182.6 859.6L1183.0 857.3L1183.1 856.8L1183.5 860.0L1183.6 860.1L1184.0 863.6L1184.5 868.9L1184.6 868.5L1185.0 879.5L1185.5 885.1L1186.0 894.2L1186.5 905.3L1187.0 914.0L1187.5 923.3L1188.0 930.7L1188.5 936.6L1189.0 942.4L1189.5 946.9L1190.0 957.8L1190.5 958.2L1191.0 964.5L1191.5 966.6L1192.0 971.5L1192.5 974.3L1193.0 974.5L1193.5 975.3L1194.0 977.4L1194.5 979.3L1195.0 984.1L1195.5 983.5L1196.0 983.9L1196.5 986.2L1197.0 986.9L1197.5 988.0L1198.0 988.9L1198.5 991.0L1199.0 990.2L1199.5 990.0L1200.0 991.1L1200.5 993.9L1201.0 993.1L1201.5 993.0L1202.0 995.5L1202.5 993.4L1203.0 994.3L1203.5 995.5L1204.0 994.3L1204.5 996.0L1205.0 992.1L1205.5 992.4L1206.0 991.2L1206.5 989.5L1207.0 989.1L1207.5 987.3L1208.0 987.8L1208.5 988.8L1209.0 988.1L1209.5 993.1L1210.0 993.6L1210.5 995.6L1211.0 993.8L1211.5 996.2L1212.0 997.2L1212.5 999.4L1213.0 1000.1L1213.5 1001.8L1214.0 999.6L1214.5 998.4L1215.0 997.4L1215.5 999.3L1216.0 996.3L1216.5 997.7L1217.0 998.5L1217.5 999.9L1218.0 998.7L1218.5 998.5L1219.0 997.6L1219.5 999.0L1220.0 997.5L1220.5 997.0L1221.0 996.6L1221.5 999.2L1222.0 999.3L1222.5 997.9L1223.0 997.5L1223.5 997.6L1224.0 998.6L1224.5 998.6L1225.0 997.9L1225.5 998.4L1226.0 997.6L1226.5 997.3L1227.0 999.8L1227.5 996.4L1228.0 996.6L1228.5 995.4L1229.0 996.5L1229.5 997.3L1230.0 994.5L1230.5 993.6L1231.0 993.3L1231.5 992.7L1232.0 991.3L1232.5 991.5L1233.0 991.3L1233.5 992.8L1234.0 990.6L1234.5 989.5L1235.0 988.8L1235.5 989.9L1236.0 985.2L1236.5 987.6L1237.0 985.7L1237.5 982.2L1238.0 980.1L1238.5 977.4L1239.0 979.4L1239.5 975.9L1240.0 973.5L1240.5 971.5L1241.0 969.3L1241.5 967.3L1242.0 961.9L1242.5 956.1L1243.0 952.1L1243.5 947.9L1244.0 941.4L1244.5 932.5L1245.0 921.9L1245.5 914.9L1246.0 902.0L1246.5 886.9L1247.0 872.5L1247.5 853.5L1248.0 833.9L1248.5 811.4L1249.0 793.2L1249.3 778.6L1249.5 772.7L1250.0 760.4L1250.3 750.8L1250.5 749.9L1250.8 748.5L1251.0 751.9L1251.3 751.0L1251.5 756.0L1252.0 769.8L1252.3 781.2L1252.5 788.3L1253.0 807.9L1253.5 827.9L1254.0 849.5L1254.5 865.0L1255.0 885.4L1255.5 899.2L1256.0 913.1L1256.5 920.2L1257.0 929.7L1257.5 939.4L1258.0 946.7L1258.5 952.9L1259.0 958.6L1259.5 963.4L1260.0 966.9L1260.5 967.6L1261.0 969.8L1261.5 974.5L1262.0 977.2L1262.5 980.3L1263.0 981.2L1263.5 982.5L1264.0 985.1L1264.5 984.4L1265.0 988.9L1265.5 990.3L1266.0 990.9L1266.5 990.4L1267.0 993.9L1267.5 992.4L1268.0 991.7L1268.5 992.7L1269.0 995.3L1269.5 993.9L1270.0 993.9L1270.5 995.3L1271.0 996.3L1271.5 996.6L1272.0 996.9L1272.5 996.3L1273.0 998.8L1273.5 998.4L1274.0 998.3L1274.5 997.1L1275.0 998.6L1275.5 999.7L1276.0 1000.9L1276.5 1000.6L1277.0 999.7L1277.5 1001.8L1278.0 998.9L1278.5 1000.6L1279.0 1000.3L1279.5 1003.1L1280.0 1002.1L1280.5 1001.9L1281.0 1003.4L1281.5 1002.1L1282.0 1000.6L1282.5 1003.4L1283.0 1002.3L1283.5 1003.6L1284.0 1001.9L1284.5 1002.7L1285.0 1002.7L1285.5 1003.8L1286.0 1004.0L1286.5 1004.5L1287.0 1004.5L1287.5 1003.7L1288.0 1003.5L1288.5 1002.4L1289.0 1003.4L1289.5 1001.3L1290.0 999.4L1290.5 1003.6L1291.0 1002.5L1291.5 1003.0L1292.0 1001.9L1292.5 1001.7L1293.0 1002.4L1293.5 1000.3L1294.0 1001.7L1294.5 1002.6L1295.0 1003.6L1295.5 1001.4L1296.0 1003.6L1296.5 1001.7L1297.0 1006.5L1297.5 1005.1L1298.0 1003.8L1298.5 1004.5L1299.0 1004.0L1299.5 1002.1L1300.0 1006.8L1300.5 1004.2L1301.0 1002.9L1301.5 1004.0L1302.0 1002.4L1302.5 1004.7L1303.0 1002.0L1303.5 1005.4L1304.0 1006.2L1304.5 1002.7L1305.0 1004.7L1305.5 1003.5L1306.0 1004.6L1306.5 1002.9L1307.0 1004.9L1307.5 1002.3L1308.0 1003.6L1308.5 1004.2L1309.0 1005.4L1309.5 1004.3L1310.0 1006.3L1310.5 1003.5L1311.0 1005.9L1311.5 1004.5L1312.0 1004.6L1312.5 1002.9L1313.0 1002.9L1313.5 1004.3L1314.0 1004.5L1314.5 1002.2L1315.0 1002.0L1315.5 1006.3L1316.0 1002.8L1316.5 1004.1L1317.0 1001.2L1317.5 1002.5L1318.0 1002.4L1318.5 1001.9L1319.0 1004.1L1319.5 1004.6L1320.0 1002.4L1320.5 1003.8L1321.0 1000.5L1321.5 1002.5L1322.0 1004.3L1322.5 1005.1L1323.0 1003.0L1323.5 1002.8L1324.0 1003.1L1324.5 1001.6L1325.0 1003.4L1325.5 1002.3L1326.0 1003.2L1326.5 1002.3L1327.0 1000.9L1327.5 1003.6L1328.0 1003.9L1328.5 1003.4L1329.0 999.3L1329.5 1000.6L1330.0 1001.2L1330.5 1002.0L1331.0 1000.5L1331.5 1001.4L1332.0 999.6L1332.5 999.7L1333.0 1000.3L1333.5 1000.7L1334.0 1002.1L1334.5 1000.3L1335.0 1000.0L1335.5 998.5L1336.0 999.6L1336.5 999.6L1337.0 999.8L1337.5 1000.6L1338.0 998.9L1338.5 999.8L1339.0 997.5L1339.5 998.0L1340.0 996.2L1340.5 995.5L1341.0 996.4L1341.5 996.7L1342.0 996.1L1342.5 995.1L1343.0 994.0L1343.5 996.1L1344.0 995.4L1344.5 992.2L1345.0 992.7L1345.5 990.1L1346.0 988.8L1346.5 990.1L1347.0 990.8L1347.5 986.8L1348.0 986.4L1348.5 985.2L1349.0 985.4L1349.5 982.7L1350.0 981.0L1350.5 979.9L1351.0 977.9L1351.5 978.7L1352.0 975.9L1352.5 974.6L1353.0 973.9L1353.5 972.8L1354.0 971.4L1354.5 968.6L1355.0 968.8L1355.5 966.5L1356.0 966.8L1356.3 964.5L1356.5 965.4L1357.0 967.2L1357.3 964.0L1357.5 964.7L1357.8 965.6L1358.0 965.8L1358.3 967.0L1358.5 965.6L1359.0 966.0L1359.3 966.9L1359.5 967.9L1360.0 968.3L1360.5 969.2L1361.0 970.1L1361.5 970.2L1362.0 972.5L1362.5 975.4L1363.0 973.8L1363.5 975.2L1364.0 979.0L1364.5 980.7L1365.0 982.2L1365.5 980.4L1366.0 982.3L1366.5 982.5L1367.0 982.7L1367.5 985.2L1368.0 986.6L1368.5 987.8L1369.0 990.6L1369.5 991.8L1370.0 990.6L1370.5 993.2L1371.0 993.1L1371.5 992.6L1372.0 989.6L1372.5 994.6L1373.0 992.7L1373.5 994.1L1374.0 994.6L1374.5 995.8L1375.0 993.0L1375.5 995.3L1376.0 996.4L1376.5 993.1L1377.0 997.3L1377.5 994.8L1378.0 994.4L1378.5 995.6L1379.0 995.8L1379.5 994.4L1380.0 996.9L1380.5 994.8L1381.0 996.2L1381.5 994.8L1382.0 996.3L1382.5 997.7L1383.0 998.5L1383.5 997.4L1384.0 998.8L1384.5 996.4L1385.0 1000.3L1385.5 999.5L1386.0 999.3L1386.5 1000.8L1387.0 998.7L1387.5 1002.2L1388.0 1001.0L1388.5 1002.5L1389.0 1001.6L1389.5 1003.3L1390.0 1000.5L1390.5 1001.8L1391.0 1003.9L1391.5 1001.6L1392.0 1002.7L1392.5 1002.3L1393.0 1001.7L1393.5 997.7L1394.0 996.8L1394.5 999.1L1395.0 998.3L1395.5 994.3L1396.0 994.0L1396.5 997.6L1397.0 998.8L1397.5 1001.3L1398.0 1000.5L1398.5 1000.8L1399.0 1003.3L1399.5 1003.0L1400.0 1001.7L1400.5 1001.9L1401.0 1002.2L1401.5 1003.6L1402.0 1001.4L1402.5 1001.5L1403.0 1002.6L1403.5 1000.5L1404.0 1002.5L1404.5 1002.5L1405.0 1001.8L1405.5 1000.9L1406.0 1001.8L1406.5 999.8L1407.0 1000.4L1407.5 1001.0L1408.0 1001.4L1408.5 999.9L1409.0 1000.2L1409.5 997.6L1410.0 998.6L1410.5 999.9L1411.0 998.1L1411.5 995.8L1412.0 997.7L1412.5 998.3L1413.0 996.9L1413.5 998.4L1414.0 997.1L1414.5 997.8L1415.0 995.9L1415.5 995.3L1416.0 993.7L1416.5 991.7L1417.0 992.0L1417.5 990.7L1418.0 991.0L1418.5 989.3L1419.0 988.1L1419.5 990.7L1420.0 985.3L1420.5 987.4L1421.0 980.8L1421.5 981.0L1422.0 979.4L1422.5 976.6L1423.0 976.5L1423.5 973.9L1424.0 975.0L1424.5 973.2L1425.0 971.3L1425.5 970.0L1426.0 969.0L1426.5 969.0L1427.0 971.0L1427.5 969.4L1428.0 969.9L1428.5 970.9L1429.0 970.0L1429.5 973.7L1430.0 975.0L1430.5 976.0L1431.0 975.9L1431.5 975.3L1432.0 981.6L1432.5 981.0L1433.0 980.9L1433.5 983.7L1434.0 987.7L1434.5 983.8L1435.0 989.0L1435.5 988.6L1436.0 991.3L1436.5 989.9L1437.0 994.0L1437.5 993.2L1438.0 992.5L1438.5 995.6L1439.0 993.4L1439.5 997.4L1440.0 998.2L1440.5 993.3L1441.0 996.8L1441.5 998.6L1442.0 998.8L1442.5 1000.4L1443.0 1002.0L1443.5 1001.3L1444.0 1001.9L1444.5 1003.9L1445.0 1000.4L1445.5 1002.1L1446.0 1000.2L1446.5 1002.0L1447.0 1003.5L1447.5 1002.6L1448.0 1001.5L1448.5 1003.9L1449.0 1005.0L1449.5 1004.2L1450.0 1002.2L1450.5 1002.3L1451.0 1003.2L1451.5 1005.3L1452.0 1002.8L1452.5 1004.5L1453.0 1003.5L1453.5 1006.2L1454.0 1005.2L1454.5 1005.7L1455.0 1003.7L1455.5 1003.6L1456.0 1004.4L1456.5 1007.4L1457.0 1004.6L1457.5 1004.4L1458.0 1006.1L1458.5 1007.4L1459.0 1004.0L1459.5 1005.6L1460.0 1006.3L1460.5 1007.6L1461.0 1005.8L1461.5 1006.6L1462.0 1004.5L1462.5 1003.9L1463.0 1005.4L1463.5 1008.3L1464.0 1006.2L1464.5 1005.7L1465.0 1004.3L1465.5 1004.7L1466.0 1006.7L1466.5 1007.7L1467.0 1006.2L1467.5 1005.3L1468.0 1003.6L1468.5 1004.7L1469.0 1005.5L1469.5 1005.5L1470.0 1006.0L1470.5 1006.6L1471.0 1005.9L1471.5 1007.7L1472.0 1005.3L1472.5 1005.7L1473.0 1003.9L1473.5 1003.9L1474.0 999.1L1474.5 994.5L1475.0 986.8L1475.1 986.9L1475.5 981.8L1476.0 977.3L1476.1 976.2L1476.5 975.5L1476.6 976.1L1477.0 975.0L1477.1 976.5L1477.5 983.2L1478.0 987.2L1478.1 988.1L1478.5 993.2L1479.0 999.2L1479.5 1003.6L1480.0 1002.3L1480.5 1005.1L1481.0 1007.4L1481.5 1004.6L1482.0 1007.0L1482.5 1006.7L1483.0 1005.8L1483.5 1004.9L1484.0 1006.7L1484.5 1008.0L1485.0 1006.9L1485.5 1006.1L1486.0 1008.6L1486.5 1006.3L1487.0 1010.4L1487.5 1010.5L1488.0 1008.0L1488.5 1006.6L1489.0 1007.5L1489.5 1008.7L1490.0 1007.3L1490.5 1008.1L1491.0 1008.1L1491.5 1005.1L1492.0 1009.7L1492.5 1008.3L1493.0 1006.8L1493.5 1007.8L1494.0 1009.0L1494.5 1007.9L1495.0 1008.5L1495.5 1009.7L1496.0 1007.4L1496.5 1006.9L1497.0 1006.3L1497.5 1008.9L1498.0 1008.8L1498.5 1007.3L1499.0 1008.7L1499.5 1006.2L1500.0 1008.6L1500.5 1011.1L1501.0 1009.4L1501.5 1007.5L1502.0 1009.3L1502.5 1007.4L1503.0 1007.2L1503.5 1005.5L1504.0 1008.8L1504.5 1008.0L1505.0 1006.3L1505.5 1007.9L1506.0 1007.0L1506.5 1008.1L1507.0 1004.7L1507.5 1007.1L1508.0 1007.5L1508.5 1007.9L1509.0 1007.2L1509.5 1006.5L1510.0 1008.6L1510.5 1006.6L1511.0 1006.7L1511.5 1005.1L1512.0 1007.4L1512.5 1008.7L1513.0 1007.3L1513.5 1006.6L1514.0 1006.0L1514.5 1008.7L1515.0 1008.6L1515.5 1006.8L1516.0 1006.3L1516.5 1007.6L1517.0 1007.8L1517.5 1006.5L1518.0 1005.5L1518.5 1007.5L1519.0 1005.5L1519.5 1010.1L1520.0 1007.8L1520.5 1006.3L1521.0 1005.4L1521.5 1006.2L1522.0 1008.0L1522.5 1007.9L1523.0 1005.5L1523.5 1005.4L1524.0 1006.2L1524.5 1005.9L1525.0 1010.0L1525.5 1006.4L1526.0 1006.2L1526.5 1006.1L1527.0 1005.2L1527.5 1006.6L1528.0 1008.8L1528.5 1007.0L1529.0 1007.4L1529.5 1006.9L1530.0 1008.5L1530.5 1009.2L1531.0 1006.4L1531.5 1005.9L1532.0 1008.5L1532.5 1006.9L1533.0 1004.8L1533.5 1007.5L1534.0 1007.5L1534.5 1009.4L1535.0 1008.8L1535.5 1007.0L1536.0 1007.5L1536.5 1006.1L1537.0 1005.6L1537.5 1006.4L1538.0 1007.2L1538.5 1008.5L1539.0 1006.9L1539.5 1007.6L1540.0 1007.7L1540.5 1007.5L1541.0 1009.4L1541.5 1008.2L1542.0 1009.5L1542.5 1007.5L1543.0 1009.5L1543.5 1007.3L1544.0 1005.7L1544.5 1005.9L1545.0 1000.7L1545.5 995.1L1546.0 987.8L1546.5 978.5L1547.0 967.4L1547.3 959.1L1547.5 953.3L1548.0 942.8L1548.3 935.1L1548.5 932.0L1548.8 934.8L1549.0 932.9L1549.3 935.1L1549.5 939.8L1550.0 948.1L1550.3 952.5L1550.5 957.4L1551.0 966.1L1551.5 972.2L1552.0 981.4L1552.5 983.6L1553.0 988.2L1553.5 992.2L1554.0 997.3L1554.5 998.1L1555.0 1000.6L1555.5 1005.3L1556.0 1005.7L1556.5 1005.6L1557.0 1007.3L1557.5 1008.0L1558.0 1008.6L1558.5 1008.6L1559.0 1008.2L1559.5 1006.9L1560.0 1009.7L1560.5 1010.1L1561.0 1009.5L1561.5 1005.2L1562.0 1009.9L1562.5 1008.7L1563.0 1008.3L1563.5 1007.4L1564.0 1010.6L1564.5 1008.0L1565.0 1008.4L1565.5 1005.5L1566.0 1009.4L1566.5 1008.0L1567.0 1006.2L1567.5 1005.7L1568.0 1005.8L1568.5 1005.0L1569.0 1008.2L1569.5 1006.3L1570.0 1007.2L1570.5 1008.3L1571.0 1005.4L1571.5 1003.2L1572.0 1005.8L1572.5 1003.8L1573.0 1004.7L1573.5 1006.0L1574.0 1004.3L1574.5 1003.8" fill="none" stroke="#ff0000" stroke-width="9.6" stroke-linejoin="round" stroke-linecap="round"/>
<path d="M207.0 900.9L207.5 901.0L208.0 903.0L208.5 906.2L209.0 903.2L209.5 904.9L210.0 907.8L210.5 910.2L211.0 909.8L211.5 910.9L212.0 911.9L212.5 911.4L213.0 913.8L213.5 913.4L214.0 914.3L214.5 916.3L215.0 917.0L215.5 916.3L216.0 917.0L216.5 920.3L217.0 919.5L217.5 918.3L218.0 920.0L218.5 916.9L219.0 920.8L219.5 922.5L220.0 920.2L220.5 923.2L221.0 924.1L221.5 922.1L222.0 924.7L222.5 925.2L223.0 926.3L223.5 926.6L224.0 926.7L224.5 927.9L225.0 926.6L225.5 927.9L226.0 927.0L226.5 927.4L227.0 926.3L227.5 925.4L228.0 927.4L228.5 925.0L229.0 921.3L229.5 924.5L230.0 923.8L230.5 926.0L231.0 927.5L231.5 928.2L232.0 929.7L232.5 932.6L233.0 929.9L233.5 933.8L234.0 932.9L234.5 936.3L235.0 933.2L235.5 936.5L236.0 937.3L236.5 934.1L237.0 933.7L237.5 935.8L238.0 933.2L238.5 937.5L239.0 936.1L239.5 937.0L240.0 934.9L240.5 934.6L241.0 935.1L241.5 934.9L242.0 935.0L242.5 937.8L243.0 935.3L243.5 937.7L244.0 936.5L244.5 936.6L245.0 937.7L245.5 938.7L246.0 939.3L246.5 938.0L247.0 938.3L247.5 940.2L248.0 937.9L248.5 940.6L249.0 941.1L249.5 939.9L250.0 941.4L250.5 937.8L251.0 939.4L251.5 940.5L252.0 940.5L252.5 939.3L253.0 941.6L253.5 940.5L254.0 941.4L254.5 942.0L255.0 943.7L255.5 940.7L256.0 942.1L256.5 939.2L257.0 942.3L257.5 939.2L258.0 942.8L258.5 940.0L259.0 939.5L259.5 941.2L260.0 940.4L260.5 940.4L261.0 941.5L261.5 942.1L262.0 943.2L262.5 942.0L263.0 940.7L263.5 941.3L264.0 943.5L264.5 941.2L265.0 943.4L265.5 940.8L266.0 941.0L266.5 941.6L267.0 942.9L267.5 942.9L268.0 941.4L268.5 943.2L269.0 942.1L269.5 943.5L270.0 941.2L270.5 944.4L271.0 943.4L271.5 941.1L272.0 945.6L272.5 943.3L273.0 943.3L273.5 945.1L274.0 944.1L274.5 944.3L275.0 942.1L275.5 944.8L276.0 943.1L276.5 942.8L277.0 941.7L277.5 941.9L278.0 942.0L278.5 943.6L279.0 941.7L279.5 942.2L280.0 941.4L280.5 942.7L281.0 943.6L281.5 941.4L282.0 942.2L282.5 943.0L283.0 942.9L283.5 942.7L284.0 943.8L284.5 939.3L285.0 940.0L285.5 938.4L286.0 938.4L286.1 935.0L286.5 930.2L287.0 927.7L287.1 928.1L287.5 924.0L287.6 926.0L288.0 926.9L288.1 930.4L288.5 929.1L289.0 934.2L289.1 934.7L289.5 935.4L290.0 940.7L290.5 938.4L291.0 942.1L291.5 941.1L292.0 943.1L292.5 943.6L293.0 943.8L293.5 942.3L294.0 944.3L294.5 944.5L295.0 942.6L295.5 942.4L296.0 942.3L296.5 944.0L297.0 943.0L297.5 942.8L298.0 944.1L298.5 944.1L299.0 943.8L299.5 942.6L300.0 944.6L300.5 943.7L301.0 942.4L301.5 942.2L302.0 945.2L302.5 942.9L303.0 944.3L303.5 945.5L304.0 943.9L304.5 941.5L305.0 942.0L305.5 942.6L306.0 942.6L306.5 943.2L307.0 940.8L307.5 944.5L308.0 941.4L308.5 941.3L309.0 941.6L309.5 943.1L310.0 941.5L310.5 944.9L311.0 942.4L311.5 941.7L312.0 943.8L312.5 943.0L313.0 943.1L313.5 943.6L314.0 944.7L314.5 943.9L315.0 940.8L315.5 943.4L316.0 940.7L316.5 942.4L317.0 943.6L317.5 942.0L318.0 942.1L318.5 944.4L319.0 942.5L319.5 942.2L320.0 940.8L320.5 941.7L321.0 943.1L321.5 943.8L322.0 944.4L322.5 942.5L323.0 940.6L323.5 942.1L324.0 941.6L324.5 942.4L325.0 941.1L325.5 939.5L326.0 943.5L326.5 940.2L327.0 941.6L327.5 939.4L328.0 940.6L328.5 942.1L329.0 941.8L329.5 941.4L330.0 941.0L330.5 941.2L331.0 943.8L331.5 939.1L332.0 943.1L332.5 940.7L333.0 940.5L333.5 938.9L334.0 940.1L334.5 939.8L335.0 941.3L335.5 940.1L336.0 941.8L336.5 941.4L337.0 939.9L337.5 939.4L338.0 939.5L338.5 939.4L339.0 940.0L339.5 942.7L340.0 938.1L340.5 940.4L341.0 939.7L341.5 941.1L342.0 938.1L342.5 940.1L343.0 940.8L343.5 940.1L344.0 939.2L344.5 938.5L345.0 940.6L345.5 940.0L346.0 939.7L346.5 938.8L347.0 938.1L347.5 937.4L348.0 939.4L348.5 937.9L349.0 940.8L349.5 939.6L350.0 940.6L350.5 941.0L351.0 942.6L351.5 937.6L352.0 939.4L352.5 942.1L353.0 938.2L353.5 938.5L354.0 938.7L354.5 940.4L355.0 939.7L355.5 937.3L356.0 938.3L356.5 940.7L357.0 937.6L357.5 938.5L358.0 938.7L358.5 938.5L359.0 940.5L359.5 941.4L360.0 939.3L360.5 939.7L361.0 938.2L361.5 937.7L362.0 939.7L362.5 939.7L363.0 939.8L363.5 939.2L364.0 938.6L364.5 937.9L365.0 939.4L365.5 939.2L366.0 936.8L366.5 938.7L367.0 940.3L367.5 937.9L368.0 940.7L368.5 938.3L369.0 940.5L369.5 939.8L370.0 939.1L370.5 939.4L371.0 935.1L371.5 938.8L372.0 938.8L372.5 935.0L373.0 938.1L373.5 934.8L374.0 939.5L374.5 937.2L375.0 937.2L375.5 940.1L376.0 934.6L376.5 936.4L377.0 935.1L377.5 936.3L378.0 936.3L378.5 937.2L379.0 934.1L379.5 937.4L380.0 935.9L380.5 935.6L381.0 936.9L381.5 935.3L382.0 936.5L382.5 937.5L383.0 936.1L383.5 936.2L384.0 936.9L384.5 936.7L385.0 936.2L385.5 938.2L386.0 932.1L386.5 933.8L387.0 936.3L387.5 935.6L388.0 935.0L388.5 934.1L389.0 936.1L389.5 935.3L390.0 935.9L390.5 934.3L391.0 935.4L391.5 936.6L392.0 935.4L392.5 936.2L393.0 935.2L393.5 934.8L394.0 932.4L394.5 931.3L395.0 935.5L395.5 934.4L396.0 933.7L396.5 933.9L397.0 934.0L397.5 932.1L398.0 932.4L398.5 932.6L399.0 932.4L399.5 933.0L400.0 931.9L400.5 932.4L401.0 934.7L401.5 934.2L402.0 932.0L402.5 932.6L403.0 933.8L403.5 933.6L404.0 931.1L404.5 933.6L405.0 932.3L405.5 933.3L406.0 934.2L406.5 930.7L407.0 929.1L407.5 931.4L408.0 933.0L408.5 929.9L409.0 928.9L409.5 930.6L410.0 930.2L410.5 929.3L411.0 927.5L411.5 927.7L412.0 928.4L412.5 931.1L413.0 929.6L413.5 929.2L414.0 927.8L414.5 928.2L415.0 927.7L415.5 928.3L416.0 928.2L416.5 925.8L417.0 925.4L417.5 926.7L418.0 925.1L418.5 925.1L419.0 922.2L419.5 922.6L420.0 923.8L420.5 922.8L421.0 921.8L421.5 923.6L422.0 921.1L422.5 921.5L423.0 922.5L423.5 921.0L424.0 920.2L424.5 920.2L425.0 919.4L425.5 918.4L426.0 918.1L426.5 917.6L427.0 917.8L427.5 917.0L428.0 915.3L428.5 914.5L429.0 914.0L429.5 913.0L430.0 911.8L430.5 910.5L431.0 913.3L431.5 911.3L432.0 905.8L432.5 909.1L433.0 909.2L433.5 907.1L434.0 902.9L434.5 900.8L435.0 902.2L435.5 901.9L436.0 898.9L436.5 892.6L437.0 896.1L437.5 894.8L438.0 888.0L438.5 887.4L439.0 884.6L439.5 880.4L440.0 880.4L440.5 873.8L441.0 872.9L441.5 866.7L442.0 865.4L442.5 857.5L443.0 853.1L443.5 850.4L444.0 842.0L444.5 836.6L445.0 825.7L445.5 816.8L446.0 807.7L446.5 795.6L447.0 784.1L447.5 771.6L448.0 754.0L448.5 736.2L449.0 716.5L449.5 698.5L450.0 670.0L450.5 641.3L451.0 609.6L451.5 574.5L451.9 543.2L452.0 535.7L452.5 502.1L452.9 479.9L453.0 478.6L453.4 472.1L453.5 470.0L453.9 484.2L454.0 484.8L454.5 516.2L454.9 547.2L455.0 550.9L455.5 589.3L456.0 625.2L456.5 653.5L457.0 681.4L457.5 707.2L458.0 727.3L458.5 745.6L459.0 762.1L459.5 774.8L460.0 788.6L460.5 799.6L461.0 810.1L461.5 821.5L462.0 829.4L462.5 837.1L463.0 844.7L463.5 851.9L464.0 853.3L464.5 861.0L465.0 863.1L465.5 868.2L466.0 869.5L466.5 876.3L467.0 879.8L467.5 882.3L468.0 885.9L468.5 884.8L469.0 889.2L469.5 891.0L470.0 891.6L470.5 894.5L471.0 897.6L471.5 899.5L472.0 901.6L472.5 902.0L473.0 903.2L473.5 904.2L474.0 907.1L474.5 906.6L475.0 908.0L475.5 907.7L476.0 911.1L476.5 909.0L477.0 908.3L477.5 912.5L478.0 911.5L478.5 911.9L479.0 915.5L479.5 912.4L480.0 914.5L480.5 915.0L481.0 915.5L481.5 915.7L482.0 918.6L482.5 916.8L483.0 917.6L483.5 919.0L484.0 917.3L484.5 918.4L485.0 919.1L485.5 918.6L486.0 918.0L486.5 919.9L487.0 920.0L487.5 920.1L488.0 920.9L488.5 917.6L489.0 920.2L489.5 922.8L490.0 922.0L490.5 921.4L491.0 924.1L491.5 919.7L492.0 924.1L492.5 921.4L493.0 921.7L493.5 919.2L494.0 919.5L494.5 916.8L495.0 916.4L495.5 919.4L496.0 918.5L496.5 921.8L497.0 922.2L497.5 922.5L498.0 926.1L498.5 928.9L499.0 926.9L499.5 926.6L500.0 925.7L500.5 927.0L501.0 926.6L501.5 928.0L502.0 928.1L502.5 927.2L503.0 927.1L503.5 929.1L504.0 928.0L504.5 928.0L505.0 928.6L505.5 927.5L506.0 927.3L506.5 930.0L507.0 929.0L507.5 930.1L508.0 927.5L508.5 930.7L509.0 931.4L509.5 930.3L510.0 931.7L510.5 929.5L511.0 934.2L511.5 931.3L512.0 929.9L512.5 932.8L513.0 930.6L513.5 931.6L514.0 933.0L514.5 931.5L515.0 931.7L515.5 931.8L516.0 931.5L516.5 933.0L517.0 931.7L517.5 933.4L518.0 932.2L518.5 930.1L519.0 930.7L519.5 933.8L520.0 931.3L520.5 930.5L521.0 930.6L521.5 929.9L522.0 931.3L522.5 932.7L523.0 931.1L523.5 933.5L524.0 933.0L524.5 933.4L525.0 931.8L525.5 932.7L526.0 932.3L526.5 933.1L527.0 932.9L527.5 932.0L528.0 929.4L528.5 931.0L529.0 930.0L529.5 927.9L530.0 929.7L530.5 929.6L531.0 929.4L531.5 927.2L532.0 930.6L532.5 930.5L533.0 930.1L533.5 930.7L534.0 933.6L534.5 931.3L535.0 932.1L535.5 931.3L536.0 931.2L536.5 932.6L537.0 935.6L537.5 933.3L538.0 935.1L538.5 933.4L539.0 933.1L539.5 934.4L540.0 934.4L540.5 936.1L541.0 937.2L541.5 934.6L542.0 934.8L542.5 934.4L543.0 933.4L543.5 935.5L544.0 935.0L544.5 934.2L545.0 935.6L545.5 934.0L546.0 936.7L546.5 935.7L547.0 933.5L547.5 933.8L548.0 936.7L548.5 932.7L549.0 935.9L549.5 935.6L550.0 934.7L550.5 935.5L551.0 936.1L551.5 934.1L552.0 934.6L552.5 937.8L553.0 934.9L553.5 935.5L554.0 936.0L554.5 934.6L555.0 937.7L555.5 935.0L556.0 937.7L556.5 937.6L557.0 936.0L557.5 936.4L558.0 935.6L558.5 936.4L559.0 936.0L559.5 936.9L560.0 938.7L560.5 935.6L561.0 937.6L561.5 937.2L562.0 936.7L562.5 938.2L563.0 935.7L563.5 936.7L564.0 937.1L564.5 935.0L565.0 935.0L565.5 938.4L566.0 937.2L566.5 937.0L567.0 937.7L567.5 936.3L568.0 939.1L568.5 940.4L569.0 936.0L569.5 937.2L570.0 939.7L570.5 938.3L571.0 939.2L571.5 936.8L572.0 937.0L572.5 937.2L573.0 938.1L573.5 939.1L574.0 935.5L574.5 937.2L575.0 937.3L575.5 935.9L576.0 938.7L576.5 938.0L577.0 934.8L577.5 937.0L578.0 935.3L578.5 937.4L579.0 937.1L579.5 937.2L580.0 938.8L580.5 936.9L581.0 936.7L581.5 939.0L582.0 937.5L582.5 938.5L583.0 936.7L583.5 936.8L584.0 937.0L584.5 938.1L585.0 936.5L585.5 939.4L586.0 936.8L586.5 937.8L587.0 938.5L587.5 936.5L588.0 937.8L588.5 937.2L589.0 935.2L589.5 937.7L590.0 936.4L590.5 938.3L591.0 937.0L591.5 938.2L592.0 935.8L592.5 934.5L593.0 938.2L593.5 933.7L594.0 938.1L594.5 937.7L595.0 935.4L595.5 935.1L596.0 936.6L596.5 934.0L597.0 933.2L597.5 931.1L598.0 929.4L598.5 924.0L599.0 912.5L599.3 904.1L599.5 900.6L600.0 885.4L600.3 879.6L600.5 874.9L600.8 872.6L601.0 872.8L601.3 876.3L601.5 882.4L602.0 894.2L602.3 905.7L602.5 910.1L603.0 920.7L603.5 925.8L604.0 932.0L604.5 931.8L605.0 934.6L605.5 936.5L606.0 936.7L606.5 934.9L607.0 935.2L607.5 937.3L608.0 937.4L608.5 937.6L609.0 933.4L609.5 937.2L610.0 935.1L610.5 937.5L611.0 938.3L611.5 936.8L612.0 933.7L612.5 937.2L613.0 936.4L613.5 936.2L614.0 937.0L614.5 937.6L615.0 934.7L615.5 937.2L616.0 936.0L616.5 937.9L617.0 934.8L617.5 935.2L618.0 936.8L618.5 938.3L619.0 936.5L619.5 937.7L620.0 935.8L620.5 936.4L621.0 937.9L621.5 935.6L622.0 935.3L622.5 937.4L623.0 935.0L623.5 935.4L624.0 936.1L624.5 935.6L625.0 938.1L625.5 935.1L626.0 930.8L626.5 935.4L627.0 935.3L627.5 934.6L628.0 937.2L628.5 936.6L629.0 932.0L629.5 933.3L630.0 934.7L630.5 932.9L631.0 934.5L631.5 932.9L632.0 933.3L632.5 929.5L633.0 933.0L633.5 929.2L634.0 931.8L634.5 930.0L635.0 927.6L635.5 926.9L636.0 928.2L636.5 929.0L637.0 930.6L637.5 933.2L638.0 931.9L638.5 931.9L639.0 932.2L639.5 934.8L640.0 934.9L640.5 935.7L641.0 934.1L641.5 933.2L642.0 935.1L642.5 932.4L643.0 936.0L643.5 935.3L644.0 935.5L644.5 935.4L645.0 933.5L645.5 936.0L646.0 934.2L646.5 933.9L647.0 934.6L647.5 931.9L648.0 931.0L648.5 930.1L649.0 929.3L649.5 931.2L650.0 932.2L650.5 930.2L651.0 931.8L651.5 931.8L652.0 930.8L652.5 932.3L653.0 934.4L653.5 932.6L654.0 933.7L654.5 934.8L655.0 936.9L655.5 934.8L656.0 937.8L656.5 935.4L657.0 937.7L657.5 936.4L658.0 938.6L658.5 937.6L659.0 937.3L659.5 939.2L660.0 935.5L660.5 939.9L661.0 938.0L661.5 936.5L662.0 937.7L662.5 937.3L663.0 941.0L663.5 937.0L664.0 937.3L664.5 936.7L665.0 937.5L665.5 937.9L666.0 939.7L666.5 937.5L667.0 938.1L667.5 936.4L668.0 938.7L668.5 935.8L669.0 936.0L669.5 937.6L670.0 939.2L670.5 936.7L671.0 936.2L671.5 937.1L672.0 937.0L672.5 934.6L673.0 936.1L673.5 935.4L674.0 937.5L674.5 939.0L675.0 937.6L675.5 937.2L676.0 937.2L676.5 935.1L677.0 937.8L677.5 935.8L678.0 934.7L678.5 933.8L679.0 931.9L679.5 931.4L680.0 932.1L680.5 931.5L681.0 935.1L681.5 934.1L682.0 934.7L682.5 935.9L683.0 937.3L683.5 936.8L684.0 936.5L684.5 935.1L685.0 934.2L685.5 934.6L686.0 937.8L686.5 936.8L687.0 933.5L687.5 933.4L688.0 933.5L688.5 932.1L689.0 934.0L689.5 932.8L690.0 930.5L690.5 930.7L691.0 928.6L691.5 923.4L692.0 923.7L692.5 924.9L693.0 926.2L693.5 924.9L694.0 930.8L694.5 931.3L695.0 931.0L695.5 931.8L696.0 934.6L696.5 934.9L697.0 934.0L697.5 934.6L698.0 934.5L698.5 933.2L699.0 933.7L699.5 935.8L700.0 937.0L700.5 931.6L701.0 932.0L701.5 934.5L702.0 934.5L702.5 932.8L703.0 929.9L703.5 933.1L704.0 929.0L704.5 927.1L705.0 928.4L705.5 926.3L706.0 924.6L706.5 923.5L707.0 918.4L707.5 912.9L708.0 905.6L708.5 895.2L709.0 884.3L709.3 877.6L709.5 873.6L710.0 861.4L710.3 854.2L710.5 852.0L710.8 853.8L711.0 853.4L711.3 855.4L711.5 857.2L712.0 871.6L712.3 881.6L712.5 883.3L713.0 894.8L713.5 904.4L714.0 911.4L714.5 918.8L715.0 920.8L715.5 924.4L716.0 926.3L716.5 928.2L717.0 929.4L717.5 931.3L718.0 933.2L718.5 931.3L719.0 933.3L719.5 934.3L720.0 934.1L720.5 930.8L721.0 933.3L721.5 935.1L722.0 934.7L722.5 936.1L723.0 934.9L723.5 935.9L724.0 936.7L724.5 936.3L725.0 937.8L725.5 938.0L726.0 936.6L726.5 935.7L727.0 935.2L727.5 935.4L728.0 933.9L728.5 935.3L729.0 934.7L729.5 933.9L730.0 938.4L730.5 935.4L731.0 937.3L731.5 936.3L732.0 935.3L732.5 936.5L733.0 935.2L733.5 935.7L734.0 936.2L734.5 935.1L735.0 936.7L735.5 935.2L736.0 936.4L736.5 934.3L737.0 935.0L737.5 936.0L738.0 938.4L738.5 934.7L739.0 934.8L739.5 936.9L740.0 938.0L740.5 934.9L741.0 934.9L741.5 936.2L742.0 936.9L742.5 934.5L743.0 935.3L743.5 937.5L744.0 935.5L744.5 936.9L745.0 932.7L745.5 934.4L746.0 939.1L746.5 936.9L747.0 938.3L747.5 937.7L748.0 937.8L748.5 935.1L749.0 933.3L749.5 937.4L750.0 936.0L750.5 936.4L751.0 936.6L751.5 934.5L752.0 934.6L752.5 933.5L753.0 936.8L753.5 935.7L754.0 938.7L754.5 936.2L755.0 936.2L755.5 934.2L756.0 932.8L756.5 933.6L757.0 935.2L757.5 935.5L758.0 935.7L758.5 933.6L759.0 934.7L759.5 935.0L760.0 934.9L760.5 935.3L761.0 934.3L761.5 935.6L762.0 932.8L762.5 931.8L763.0 933.1L763.5 932.0L764.0 929.5L764.5 930.0L765.0 928.2L765.5 928.7L766.0 927.1L766.5 926.3L767.0 923.2L767.5 923.2L768.0 924.7L768.5 920.5L769.0 923.2L769.5 924.4L770.0 924.8L770.5 926.3L771.0 924.8L771.5 927.7L772.0 929.0L772.5 929.8L773.0 930.0L773.5 926.2L774.0 926.9L774.5 928.1L775.0 929.1L775.5 928.1L776.0 928.0L776.5 928.5L777.0 928.2L777.5 927.6L778.0 929.0L778.5 925.9L779.0 927.8L779.5 927.0L780.0 925.1L780.5 923.5L781.0 922.2L781.5 924.6L782.0 925.9L782.5 920.5L783.0 922.9L783.5 918.6L784.0 918.2L784.5 917.0L785.0 914.4L785.5 911.6L786.0 907.6L786.5 904.9L787.0 899.0L787.5 894.0L788.0 888.7L788.5 881.9L789.0 877.4L789.5 872.4L790.0 868.0L790.5 865.3L791.0 865.9L791.5 866.3L792.0 869.4L792.5 869.5L793.0 873.8L793.5 874.1L794.0 876.1L794.5 875.8L795.0 874.2L795.5 876.0L796.0 871.4L796.5 869.0L797.0 863.1L797.5 853.5L798.0 843.4L798.5 831.0L799.0 819.2L799.5 803.6L800.0 784.7L800.5 763.6L801.0 737.5L801.5 709.4L802.0 678.0L802.5 646.0L803.0 609.1L803.5 574.1L804.0 536.4L804.5 503.1L805.0 466.1L805.5 437.8L805.7 428.5L806.0 416.2L806.5 399.8L806.7 394.8L807.0 393.8L807.2 389.3L807.5 392.8L807.7 397.8L808.0 404.0L808.5 419.8L808.7 427.8L809.0 444.3L809.5 475.9L810.0 508.5L810.5 544.8L811.0 578.9L811.5 618.5L812.0 655.0L812.5 684.8L813.0 713.9L813.5 745.7L814.0 770.8L814.5 790.2L815.0 808.6L815.5 823.1L816.0 837.0L816.5 851.2L817.0 860.8L817.5 869.8L818.0 874.3L818.5 879.9L819.0 883.1L819.5 888.4L820.0 893.8L820.5 894.1L821.0 898.3L821.5 902.9L822.0 903.3L822.5 904.8L823.0 908.0L823.5 907.9L824.0 910.9L824.5 911.8L825.0 912.7L825.5 915.5L826.0 916.8L826.5 915.7L827.0 917.0L827.5 918.4L828.0 917.7L828.5 920.4L829.0 920.1L829.5 920.4L830.0 920.9L830.5 922.3L831.0 923.0L831.5 921.4L832.0 923.4L832.5 922.3L833.0 922.0L833.5 924.4L834.0 923.0L834.5 924.2L835.0 925.4L835.5 923.6L836.0 925.2L836.5 925.6L837.0 924.6L837.5 927.6L838.0 925.7L838.5 927.0L839.0 927.4L839.5 927.8L840.0 928.1L840.5 930.3L841.0 927.5L841.5 926.8L842.0 928.7L842.5 932.2L843.0 929.3L843.5 930.7L844.0 930.9L844.5 929.3L845.0 929.5L845.5 930.6L846.0 931.1L846.5 931.9L847.0 930.6L847.5 929.7L848.0 931.2L848.5 934.2L849.0 930.5L849.5 931.2L850.0 930.3L850.5 932.0L851.0 934.8L851.5 931.8L852.0 931.3L852.5 933.2L853.0 934.1L853.5 933.3L854.0 934.0L854.5 933.6L855.0 935.9L855.5 937.6L856.0 934.4L856.5 937.2L857.0 936.1L857.5 935.7L858.0 933.5L858.5 935.7L859.0 933.9L859.5 937.7L860.0 934.9L860.5 935.7L861.0 938.8L861.5 936.5L862.0 937.3L862.5 936.3L863.0 937.7L863.5 936.8L864.0 938.6L864.5 933.6L865.0 937.0L865.5 936.8L866.0 937.7L866.5 936.2L867.0 937.4L867.5 941.6L868.0 937.6L868.5 936.2L869.0 938.3L869.5 937.0L870.0 938.3L870.5 935.8L871.0 936.7L871.5 938.7L872.0 941.1L872.5 940.4L873.0 937.4L873.5 936.8L874.0 939.3L874.5 938.4L875.0 935.5L875.5 938.7L876.0 936.8L876.5 939.9L877.0 937.4L877.5 938.1L878.0 938.2L878.5 937.1L879.0 938.9L879.5 936.9L880.0 937.9L880.5 937.2L881.0 938.0L881.5 936.1L882.0 938.0L882.5 934.3L883.0 938.1L883.5 935.4L884.0 935.7L884.5 936.8L885.0 935.4L885.5 932.2L886.0 931.2L886.5 930.1L887.0 927.4L887.5 928.1L888.0 926.8L888.5 926.6L889.0 922.7L889.5 923.0L890.0 922.7L890.5 920.8L891.0 913.6L891.5 900.0L892.0 872.2L892.5 819.8L893.0 738.2L893.5 635.5L894.0 523.1L894.5 424.0L895.0 350.4L895.1 337.8L895.5 304.8L896.0 286.1L896.1 282.9L896.5 283.8L896.6 279.6L897.0 282.6L897.1 283.1L897.5 293.8L898.0 327.8L898.1 340.0L898.5 390.5L899.0 482.6L899.5 591.0L900.0 700.3L900.5 793.9L901.0 858.1L901.5 896.0L902.0 913.7L902.5 917.6L903.0 923.9L903.5 926.3L904.0 923.2L904.5 926.6L905.0 927.6L905.5 927.7L906.0 931.9L906.5 932.3L907.0 931.7L907.5 931.4L908.0 932.8L908.5 936.1L909.0 934.8L909.5 937.9L910.0 936.4L910.5 939.3L911.0 938.8L911.5 939.1L912.0 939.9L912.5 938.1L913.0 940.4L913.5 941.0L914.0 942.5L914.5 942.0L915.0 940.7L915.5 942.4L916.0 943.0L916.5 940.2L917.0 940.0L917.5 942.2L918.0 945.2L918.5 940.3L919.0 943.6L919.5 942.7L920.0 942.1L920.5 943.6L921.0 941.8L921.5 942.5L922.0 943.3L922.5 944.8L923.0 942.2L923.5 942.8L924.0 940.8L924.5 945.1L925.0 944.4L925.5 944.7L926.0 942.1L926.5 942.0L927.0 945.0L927.5 942.7L928.0 943.3L928.5 943.9L929.0 945.2L929.5 942.5L930.0 942.5L930.5 944.2L931.0 943.5L931.5 943.0L932.0 942.5L932.5 945.4L933.0 944.5L933.5 943.1L934.0 944.1L934.5 943.1L935.0 940.8L935.5 942.1L936.0 943.2L936.5 943.1L937.0 945.8L937.5 943.5L938.0 942.4L938.5 943.1L939.0 942.7L939.5 939.6L940.0 939.4L940.5 940.1L941.0 938.6L941.5 937.2L942.0 937.2L942.5 938.1L943.0 937.0L943.5 938.3L944.0 937.4L944.5 937.5L945.0 939.8L945.5 938.7L946.0 938.5L946.5 940.3L947.0 937.9L947.5 938.8L948.0 942.5L948.5 940.4L949.0 942.7L949.5 941.1L950.0 943.5L950.5 944.1L951.0 944.9L951.5 941.6L952.0 944.6L952.5 943.2L953.0 941.5L953.5 947.1L954.0 945.1L954.5 946.7L955.0 944.9L955.5 948.0L956.0 945.0L956.5 947.2L957.0 944.5L957.5 945.7L958.0 942.9L958.5 948.6L959.0 946.2L959.5 945.4L960.0 943.8L960.5 945.7L961.0 946.0L961.5 942.7L962.0 945.3L962.5 945.6L963.0 944.8L963.5 945.3L964.0 944.7L964.5 943.8L965.0 946.7L965.5 943.3L966.0 939.8L966.5 937.0L966.6 939.0L967.0 936.5L967.5 931.5L967.6 929.9L968.0 926.4L968.1 927.7L968.5 929.8L968.6 930.7L969.0 933.1L969.5 936.4L969.6 938.2L970.0 939.4L970.5 943.5L971.0 943.3L971.5 943.2L972.0 945.5L972.5 945.0L973.0 944.1L973.5 943.7L974.0 944.8L974.5 945.6L975.0 947.2L975.5 944.4L976.0 943.5L976.5 945.2L977.0 945.9L977.5 946.6L978.0 946.7L978.5 944.0L979.0 943.9L979.5 943.9L980.0 943.3L980.5 944.6L981.0 944.7L981.5 945.1L982.0 945.4L982.5 947.3L983.0 944.0L983.5 945.5L984.0 944.3L984.5 946.4L985.0 945.0L985.5 943.0L986.0 944.7L986.5 944.6L987.0 945.1L987.5 944.5L988.0 943.9L988.5 943.8L989.0 944.3L989.5 944.3L990.0 945.5L990.5 942.0L991.0 942.9L991.5 943.3L992.0 945.0L992.5 943.5L993.0 944.8L993.5 941.6L994.0 942.9L994.5 944.7L995.0 944.9L995.5 942.8L996.0 944.8L996.5 944.9L997.0 942.7L997.5 942.3L998.0 941.6L998.5 942.2L999.0 941.2L999.5 944.8L1000.0 941.0L1000.5 941.5L1001.0 942.5L1001.5 943.6L1002.0 939.5L1002.5 942.1L1003.0 941.7L1003.5 941.6L1004.0 939.4L1004.5 942.0L1005.0 940.7L1005.5 942.8L1006.0 939.7L1006.5 939.2L1007.0 941.8L1007.5 939.1L1008.0 939.8L1008.5 939.9L1009.0 938.0L1009.5 938.7L1010.0 937.5L1010.5 937.2L1011.0 937.0L1011.5 936.0L1012.0 935.9L1012.5 935.5L1013.0 934.4L1013.5 934.4L1014.0 934.2L1014.5 934.9L1015.0 934.0L1015.5 931.9L1016.0 934.0L1016.5 932.8L1017.0 930.4L1017.5 927.7L1018.0 928.9L1018.5 929.3L1019.0 928.9L1019.5 929.4L1020.0 927.5L1020.5 926.7L1021.0 928.7L1021.5 925.3L1022.0 923.4L1022.5 922.1L1023.0 922.7L1023.5 921.6L1024.0 920.4L1024.5 918.9L1025.0 915.6L1025.5 915.0L1026.0 913.5L1026.5 911.2L1027.0 909.6L1027.5 907.7L1028.0 904.1L1028.5 902.9L1029.0 901.9L1029.5 895.9L1030.0 895.6L1030.5 892.0L1031.0 890.2L1031.5 884.4L1032.0 879.2L1032.5 876.6L1033.0 871.9L1033.5 866.8L1034.0 860.3L1034.5 855.0L1035.0 848.9L1035.5 842.3L1036.0 831.8L1036.5 823.7L1037.0 810.8L1037.5 803.5L1038.0 791.3L1038.5 780.0L1038.7 779.5L1039.0 775.6L1039.5 767.9L1039.7 769.7L1040.0 766.3L1040.2 768.4L1040.5 765.2L1040.7 767.0L1041.0 771.6L1041.5 775.5L1041.7 780.2L1042.0 785.5L1042.5 794.1L1043.0 802.3L1043.5 815.4L1044.0 825.3L1044.5 834.5L1045.0 841.9L1045.5 849.3L1046.0 855.3L1046.5 860.6L1047.0 868.2L1047.5 873.1L1048.0 877.8L1048.5 880.4L1049.0 886.5L1049.5 890.8L1050.0 892.5L1050.5 895.9L1051.0 898.2L1051.5 900.7L1052.0 903.0L1052.5 906.6L1053.0 904.8L1053.5 909.8L1054.0 910.3L1054.5 912.6L1055.0 915.4L1055.5 916.6L1056.0 915.9L1056.5 918.4L1057.0 920.5L1057.5 919.6L1058.0 921.3L1058.5 921.8L1059.0 924.5L1059.5 925.8L1060.0 925.8L1060.5 926.5L1061.0 928.7L1061.5 929.5L1062.0 932.4L1062.5 929.5L1063.0 929.7L1063.5 932.4L1064.0 932.8L1064.5 933.2L1065.0 934.1L1065.5 935.2L1066.0 933.8L1066.5 939.5L1067.0 935.9L1067.5 935.7L1068.0 938.8L1068.5 936.6L1069.0 938.8L1069.5 938.4L1070.0 937.5L1070.5 938.2L1071.0 939.9L1071.5 940.7L1072.0 940.0L1072.5 939.6L1073.0 938.7L1073.5 938.8L1074.0 943.0L1074.5 941.8L1075.0 940.4L1075.5 940.8L1076.0 941.0L1076.5 939.9L1077.0 941.5L1077.5 942.1L1078.0 939.6L1078.5 941.8L1079.0 942.7L1079.5 942.1L1080.0 940.8L1080.5 942.2L1081.0 941.0L1081.5 941.7L1082.0 940.6L1082.5 941.3L1083.0 943.6L1083.5 942.1L1084.0 940.5L1084.5 941.9L1085.0 943.6L1085.5 943.5L1086.0 940.6L1086.5 945.0L1087.0 944.3L1087.5 943.2L1088.0 943.5L1088.5 944.1L1089.0 943.2L1089.5 943.9L1090.0 945.4L1090.5 944.2L1091.0 941.4L1091.5 946.7L1092.0 943.1L1092.5 943.6L1093.0 943.4L1093.5 943.0L1094.0 940.9L1094.5 940.0L1095.0 936.6L1095.5 932.6L1096.0 925.9L1096.5 924.7L1097.0 922.4L1097.5 920.7L1098.0 928.1L1098.5 930.9L1099.0 937.5L1099.5 942.5L1100.0 942.0L1100.5 944.5L1101.0 943.4L1101.5 945.1L1102.0 946.0L1102.5 943.8L1103.0 946.8L1103.5 946.8L1104.0 946.0L1104.5 944.3L1105.0 947.7L1105.5 945.1L1106.0 947.0L1106.5 948.3L1107.0 946.6L1107.5 944.8L1108.0 947.3L1108.5 945.6L1109.0 945.6L1109.5 947.4L1110.0 945.8L1110.5 946.5L1111.0 947.2L1111.5 947.6L1112.0 947.3L1112.5 947.9L1113.0 950.3L1113.5 948.8L1114.0 946.6L1114.5 948.0L1115.0 947.5L1115.5 949.0L1116.0 949.0L1116.5 946.6L1117.0 948.1L1117.5 947.5L1118.0 947.9L1118.5 946.3L1119.0 949.5L1119.5 945.8L1120.0 946.4L1120.5 947.9L1121.0 946.7L1121.5 944.0L1122.0 945.6L1122.5 946.1L1123.0 948.5L1123.5 946.0L1124.0 944.9L1124.5 946.4L1125.0 946.6L1125.5 946.6L1126.0 947.8L1126.5 947.2L1127.0 948.0L1127.5 945.5L1128.0 946.8L1128.5 947.5L1129.0 947.4L1129.5 949.7L1130.0 946.3L1130.5 947.8L1131.0 947.9L1131.5 949.6L1132.0 945.3L1132.5 944.2L1133.0 946.2L1133.5 948.3L1134.0 948.8L1134.5 945.8L1135.0 945.4L1135.5 947.1L1136.0 948.7L1136.5 945.0L1137.0 946.6L1137.5 946.5L1138.0 947.0L1138.5 943.6L1139.0 946.7L1139.5 946.5L1140.0 946.3L1140.5 945.6L1141.0 943.8L1141.5 946.2L1142.0 944.5L1142.5 947.1L1143.0 947.2L1143.5 945.2L1144.0 944.7L1144.5 945.9L1145.0 948.1L1145.5 944.5L1146.0 947.0L1146.5 945.9L1147.0 946.5L1147.5 945.5L1148.0 943.6L1148.5 945.9L1149.0 946.6L1149.5 945.1L1150.0 946.8L1150.5 946.2L1151.0 945.5L1151.5 945.9L1152.0 946.7L1152.5 946.3L1153.0 947.2L1153.5 946.7L1154.0 948.5L1154.5 943.5L1155.0 944.4L1155.5 943.6L1156.0 945.5L1156.5 945.1L1157.0 945.8L1157.5 945.3L1158.0 944.6L1158.5 943.6L1159.0 938.9L1159.5 942.5L1160.0 941.0L1160.5 942.0L1161.0 942.2L1161.5 941.2L1162.0 941.7L1162.5 941.5L1163.0 941.5L1163.5 940.1L1164.0 940.3L1164.5 938.6L1165.0 938.4L1165.5 939.5L1166.0 937.4L1166.5 936.4L1167.0 938.8L1167.5 936.4L1168.0 935.3L1168.5 935.7L1169.0 935.5L1169.5 932.2L1170.0 933.5L1170.5 932.1L1171.0 929.0L1171.5 926.6L1172.0 924.8L1172.5 927.7L1173.0 924.9L1173.5 922.1L1174.0 917.8L1174.5 914.9L1175.0 913.8L1175.5 909.3L1176.0 903.7L1176.5 900.8L1177.0 894.7L1177.5 890.6L1178.0 884.9L1178.5 876.8L1179.0 869.7L1179.5 862.8L1180.0 854.2L1180.5 844.0L1181.0 833.8L1181.5 828.5L1181.6 828.3L1182.0 819.5L1182.5 816.4L1182.6 814.8L1183.0 814.7L1183.1 812.3L1183.5 815.5L1183.6 815.4L1184.0 817.1L1184.5 827.1L1184.6 825.7L1185.0 830.4L1185.5 842.4L1186.0 848.8L1186.5 857.0L1187.0 865.4L1187.5 874.6L1188.0 879.5L1188.5 887.4L1189.0 893.5L1189.5 898.7L1190.0 903.9L1190.5 907.7L1191.0 911.3L1191.5 914.0L1192.0 918.9L1192.5 923.2L1193.0 923.4L1193.5 923.8L1194.0 926.7L1194.5 928.0L1195.0 926.8L1195.5 930.4L1196.0 931.1L1196.5 931.8L1197.0 935.4L1197.5 935.0L1198.0 934.2L1198.5 936.6L1199.0 936.7L1199.5 936.3L1200.0 937.3L1200.5 940.1L1201.0 940.5L1201.5 939.7L1202.0 940.2L1202.5 940.6L1203.0 940.8L1203.5 940.5L1204.0 939.2L1204.5 942.4L1205.0 938.5L1205.5 940.8L1206.0 942.6L1206.5 942.3L1207.0 943.1L1207.5 943.0L1208.0 941.2L1208.5 942.4L1209.0 942.4L1209.5 941.0L1210.0 943.2L1210.5 942.0L1211.0 944.6L1211.5 942.2L1212.0 944.0L1212.5 944.6L1213.0 942.2L1213.5 944.3L1214.0 944.4L1214.5 943.3L1215.0 943.0L1215.5 943.0L1216.0 944.1L1216.5 946.9L1217.0 947.0L1217.5 942.6L1218.0 945.5L1218.5 942.4L1219.0 941.9L1219.5 945.0L1220.0 944.0L1220.5 942.7L1221.0 944.4L1221.5 946.1L1222.0 943.3L1222.5 943.0L1223.0 942.6L1223.5 942.5L1224.0 944.9L1224.5 944.1L1225.0 943.9L1225.5 943.5L1226.0 938.0L1226.5 944.7L1227.0 941.8L1227.5 941.5L1228.0 942.2L1228.5 943.5L1229.0 939.8L1229.5 943.2L1230.0 939.3L1230.5 938.2L1231.0 941.3L1231.5 938.6L1232.0 937.9L1232.5 937.9L1233.0 937.7L1233.5 935.8L1234.0 934.6L1234.5 934.0L1235.0 934.3L1235.5 932.3L1236.0 932.8L1236.5 931.0L1237.0 930.4L1237.5 928.9L1238.0 928.3L1238.5 927.7L1239.0 921.6L1239.5 921.8L1240.0 918.6L1240.5 915.2L1241.0 914.8L1241.5 911.1L1242.0 908.0L1242.5 902.9L1243.0 898.1L1243.5 889.6L1244.0 882.4L1244.5 875.5L1245.0 866.6L1245.5 857.1L1246.0 841.9L1246.5 827.1L1247.0 809.9L1247.5 791.7L1248.0 771.7L1248.5 752.5L1249.0 727.2L1249.3 716.4L1249.5 710.3L1250.0 694.4L1250.3 690.2L1250.5 685.2L1250.8 683.0L1251.0 687.8L1251.3 687.5L1251.5 690.8L1252.0 705.6L1252.3 715.2L1252.5 725.2L1253.0 742.8L1253.5 765.3L1254.0 785.6L1254.5 808.6L1255.0 821.8L1255.5 839.2L1256.0 852.6L1256.5 863.8L1257.0 871.8L1257.5 882.3L1258.0 889.5L1258.5 898.1L1259.0 901.2L1259.5 906.4L1260.0 912.4L1260.5 915.7L1261.0 919.1L1261.5 920.0L1262.0 922.3L1262.5 925.1L1263.0 928.2L1263.5 928.7L1264.0 931.3L1264.5 934.7L1265.0 934.9L1265.5 933.4L1266.0 935.0L1266.5 939.1L1267.0 935.9L1267.5 939.4L1268.0 939.5L1268.5 940.7L1269.0 942.2L1269.5 939.9L1270.0 939.7L1270.5 941.5L1271.0 942.3L1271.5 943.6L1272.0 942.4L1272.5 943.4L1273.0 942.8L1273.5 943.1L1274.0 943.4L1274.5 944.0L1275.0 943.0L1275.5 947.4L1276.0 946.3L1276.5 945.6L1277.0 946.0L1277.5 945.4L1278.0 948.4L1278.5 946.6L1279.0 947.2L1279.5 946.5L1280.0 946.3L1280.5 945.9L1281.0 948.4L1281.5 945.3L1282.0 946.9L1282.5 947.6L1283.0 947.2L1283.5 946.8L1284.0 947.0L1284.5 948.9L1285.0 947.2L1285.5 948.7L1286.0 947.9L1286.5 945.7L1287.0 947.3L1287.5 950.4L1288.0 947.8L1288.5 947.0L1289.0 947.7L1289.5 948.8L1290.0 949.1L1290.5 949.3L1291.0 948.7L1291.5 948.6L1292.0 949.6L1292.5 949.8L1293.0 948.3L1293.5 948.6L1294.0 947.4L1294.5 947.7L1295.0 948.8L1295.5 949.8L1296.0 945.6L1296.5 948.9L1297.0 950.2L1297.5 949.6L1298.0 948.6L1298.5 947.0L1299.0 949.0L1299.5 952.4L1300.0 948.4L1300.5 950.5L1301.0 949.1L1301.5 948.8L1302.0 949.4L1302.5 952.5L1303.0 947.3L1303.5 947.9L1304.0 949.6L1304.5 948.5L1305.0 949.1L1305.5 950.9L1306.0 949.8L1306.5 949.8L1307.0 949.0L1307.5 948.5L1308.0 948.7L1308.5 951.7L1309.0 950.5L1309.5 947.3L1310.0 948.8L1310.5 949.0L1311.0 949.0L1311.5 950.2L1312.0 949.3L1312.5 949.0L1313.0 949.1L1313.5 949.0L1314.0 947.6L1314.5 947.4L1315.0 952.5L1315.5 949.6L1316.0 950.5L1316.5 949.9L1317.0 949.6L1317.5 951.1L1318.0 950.7L1318.5 946.7L1319.0 948.3L1319.5 950.7L1320.0 948.9L1320.5 949.6L1321.0 949.7L1321.5 950.6L1322.0 945.1L1322.5 948.0L1323.0 949.2L1323.5 947.3L1324.0 948.2L1324.5 950.4L1325.0 948.1L1325.5 948.3L1326.0 947.9L1326.5 948.1L1327.0 950.2L1327.5 947.4L1328.0 946.8L1328.5 947.1L1329.0 946.8L1329.5 947.7L1330.0 947.6L1330.5 948.5L1331.0 947.3L1331.5 945.6L1332.0 943.0L1332.5 947.5L1333.0 945.0L1333.5 945.5L1334.0 946.8L1334.5 945.6L1335.0 946.3L1335.5 942.8L1336.0 944.3L1336.5 944.8L1337.0 944.1L1337.5 944.2L1338.0 942.1L1338.5 942.4L1339.0 940.9L1339.5 942.3L1340.0 941.3L1340.5 942.5L1341.0 942.1L1341.5 939.4L1342.0 940.4L1342.5 941.8L1343.0 939.5L1343.5 940.8L1344.0 938.5L1344.5 937.7L1345.0 937.8L1345.5 934.6L1346.0 935.5L1346.5 935.1L1347.0 934.8L1347.5 931.4L1348.0 931.8L1348.5 930.5L1349.0 926.9L1349.5 926.5L1350.0 925.2L1350.5 925.7L1351.0 923.2L1351.5 924.5L1352.0 922.3L1352.5 919.4L1353.0 917.3L1353.5 915.8L1354.0 914.4L1354.5 914.2L1355.0 913.8L1355.5 912.6L1356.0 907.3L1356.3 909.6L1356.5 907.9L1357.0 910.1L1357.3 909.0L1357.5 907.9L1357.8 908.3L1358.0 910.0L1358.3 909.7L1358.5 906.8L1359.0 907.9L1359.3 911.1L1359.5 908.5L1360.0 912.5L1360.5 911.9L1361.0 912.4L1361.5 916.5L1362.0 919.3L1362.5 917.9L1363.0 919.8L1363.5 922.1L1364.0 919.6L1364.5 923.3L1365.0 924.0L1365.5 925.2L1366.0 927.0L1366.5 929.2L1367.0 930.8L1367.5 928.2L1368.0 931.2L1368.5 931.8L1369.0 932.5L1369.5 933.3L1370.0 934.6L1370.5 935.9L1371.0 935.6L1371.5 936.4L1372.0 936.9L1372.5 934.5L1373.0 940.4L1373.5 938.9L1374.0 939.1L1374.5 938.3L1375.0 937.5L1375.5 936.1L1376.0 940.0L1376.5 936.1L1377.0 940.6L1377.5 939.7L1378.0 940.7L1378.5 938.4L1379.0 939.0L1379.5 937.6L1380.0 936.1L1380.5 936.7L1381.0 938.9L1381.5 934.5L1382.0 939.2L1382.5 937.6L1383.0 938.2L1383.5 937.1L1384.0 939.4L1384.5 939.7L1385.0 940.9L1385.5 940.8L1386.0 942.1L1386.5 944.5L1387.0 944.8L1387.5 942.8L1388.0 942.7L1388.5 944.5L1389.0 945.9L1389.5 944.9L1390.0 944.5L1390.5 946.8L1391.0 948.7L1391.5 946.5L1392.0 946.4L1392.5 947.8L1393.0 946.3L1393.5 944.6L1394.0 943.9L1394.5 944.5L1395.0 944.8L1395.5 942.2L1396.0 941.8L1396.5 940.4L1397.0 943.6L1397.5 946.9L1398.0 945.9L1398.5 948.1L1399.0 948.2L1399.5 946.9L1400.0 948.2L1400.5 949.0L1401.0 947.8L1401.5 948.1L1402.0 948.1L1402.5 946.5L1403.0 945.5L1403.5 950.0L1404.0 946.6L1404.5 948.3L1405.0 950.5L1405.5 948.8L1406.0 946.2L1406.5 948.1L1407.0 947.1L1407.5 948.5L1408.0 946.2L1408.5 948.2L1409.0 945.8L1409.5 947.7L1410.0 944.4L1410.5 943.3L1411.0 943.0L1411.5 945.5L1412.0 946.8L1412.5 943.9L1413.0 944.4L1413.5 945.0L1414.0 943.9L1414.5 944.8L1415.0 939.8L1415.5 941.6L1416.0 939.6L1416.5 940.3L1417.0 941.0L1417.5 937.6L1418.0 937.5L1418.5 937.8L1419.0 938.9L1419.5 932.2L1420.0 932.6L1420.5 933.5L1421.0 929.6L1421.5 930.2L1422.0 926.6L1422.5 925.4L1423.0 925.5L1423.5 925.0L1424.0 921.0L1424.5 919.5L1425.0 922.0L1425.5 917.2L1426.0 918.3L1426.5 917.1L1427.0 918.2L1427.5 917.3L1428.0 916.5L1428.5 918.7L1429.0 920.3L1429.5 920.2L1430.0 919.4L1430.5 925.1L1431.0 926.7L1431.5 924.8L1432.0 928.3L1432.5 930.1L1433.0 929.3L1433.5 931.3L1434.0 934.7L1434.5 935.6L1435.0 935.5L1435.5 939.1L1436.0 937.2L1436.5 939.9L1437.0 937.2L1437.5 939.9L1438.0 939.1L1438.5 942.1L1439.0 941.5L1439.5 940.5L1440.0 942.2L1440.5 944.0L1441.0 943.7L1441.5 944.7L1442.0 945.8L1442.5 943.7L1443.0 945.1L1443.5 946.5L1444.0 949.8L1444.5 946.6L1445.0 949.5L1445.5 947.5L1446.0 949.6L1446.5 948.7L1447.0 947.7L1447.5 949.1L1448.0 949.8L1448.5 946.6L1449.0 949.6L1449.5 949.6L1450.0 949.7L1450.5 948.3L1451.0 950.5L1451.5 948.5L1452.0 950.4L1452.5 951.2L1453.0 951.1L1453.5 950.2L1454.0 950.2L1454.5 948.5L1455.0 949.0L1455.5 952.1L1456.0 950.9L1456.5 949.0L1457.0 951.5L1457.5 953.8L1458.0 950.7L1458.5 952.7L1459.0 951.7L1459.5 949.2L1460.0 953.1L1460.5 953.2L1461.0 952.7L1461.5 950.2L1462.0 950.8L1462.5 951.2L1463.0 951.8L1463.5 949.5L1464.0 950.5L1464.5 951.2L1465.0 952.6L1465.5 951.7L1466.0 952.9L1466.5 953.7L1467.0 954.1L1467.5 951.1L1468.0 952.3L1468.5 950.5L1469.0 951.1L1469.5 953.7L1470.0 949.4L1470.5 950.1L1471.0 950.6L1471.5 952.2L1472.0 951.6L1472.5 952.1L1473.0 951.8L1473.5 947.8L1474.0 945.9L1474.5 941.7L1475.0 936.0L1475.1 935.4L1475.5 929.9L1476.0 924.3L1476.1 926.0L1476.5 922.6L1476.6 920.8L1477.0 922.8L1477.1 923.7L1477.5 930.3L1478.0 935.3L1478.1 934.5L1478.5 942.2L1479.0 945.0L1479.5 950.6L1480.0 952.5L1480.5 952.6L1481.0 954.6L1481.5 954.2L1482.0 952.3L1482.5 955.1L1483.0 953.4L1483.5 954.7L1484.0 953.9L1484.5 955.7L1485.0 953.7L1485.5 953.8L1486.0 954.0L1486.5 955.9L1487.0 955.4L1487.5 956.5L1488.0 955.8L1488.5 958.3L1489.0 954.0L1489.5 955.1L1490.0 955.6L1490.5 953.0L1491.0 955.4L1491.5 952.5L1492.0 954.4L1492.5 954.7L1493.0 953.6L1493.5 953.3L1494.0 954.2L1494.5 954.3L1495.0 955.6L1495.5 953.9L1496.0 956.6L1496.5 954.7L1497.0 955.4L1497.5 954.5L1498.0 954.3L1498.5 955.0L1499.0 956.2L1499.5 954.4L1500.0 955.1L1500.5 956.2L1501.0 954.1L1501.5 953.9L1502.0 952.8L1502.5 954.0L1503.0 954.0L1503.5 954.4L1504.0 953.7L1504.5 954.9L1505.0 953.7L1505.5 954.5L1506.0 951.7L1506.5 954.9L1507.0 955.8L1507.5 952.0L1508.0 954.9L1508.5 951.5L1509.0 953.4L1509.5 954.3L1510.0 953.4L1510.5 954.4L1511.0 956.5L1511.5 955.7L1512.0 953.5L1512.5 955.0L1513.0 956.8L1513.5 955.7L1514.0 952.3L1514.5 956.2L1515.0 953.5L1515.5 954.7L1516.0 955.5L1516.5 953.3L1517.0 955.2L1517.5 955.1L1518.0 953.7L1518.5 954.0L1519.0 952.7L1519.5 954.2L1520.0 953.1L1520.5 954.5L1521.0 952.7L1521.5 954.6L1522.0 952.3L1522.5 954.0L1523.0 957.2L1523.5 954.7L1524.0 953.7L1524.5 952.5L1525.0 955.5L1525.5 953.6L1526.0 955.2L1526.5 955.2L1527.0 955.3L1527.5 952.9L1528.0 953.9L1528.5 956.6L1529.0 954.5L1529.5 954.3L1530.0 953.3L1530.5 956.0L1531.0 951.8L1531.5 955.5L1532.0 954.0L1532.5 953.7L1533.0 952.9L1533.5 951.1L1534.0 951.7L1534.5 953.7L1535.0 954.7L1535.5 955.6L1536.0 953.1L1536.5 952.6L1537.0 954.1L1537.5 953.9L1538.0 954.1L1538.5 954.2L1539.0 951.2L1539.5 956.0L1540.0 952.3L1540.5 949.3L1541.0 953.5L1541.5 951.8L1542.0 949.3L1542.5 951.5L1543.0 949.3L1543.5 949.0L1544.0 951.0L1544.5 948.9L1545.0 944.7L1545.5 944.3L1546.0 933.4L1546.5 922.8L1547.0 911.4L1547.3 905.1L1547.5 898.1L1548.0 885.3L1548.3 884.7L1548.5 882.2L1548.8 879.5L1549.0 879.6L1549.3 881.4L1549.5 883.6L1550.0 892.4L1550.3 898.7L1550.5 902.8L1551.0 912.5L1551.5 921.9L1552.0 927.4L1552.5 928.1L1553.0 933.3L1553.5 937.5L1554.0 940.3L1554.5 946.5L1555.0 947.0L1555.5 949.0L1556.0 949.3L1556.5 949.9L1557.0 950.9L1557.5 952.3L1558.0 954.8L1558.5 950.6L1559.0 954.3L1559.5 952.7L1560.0 952.2L1560.5 953.6L1561.0 953.6L1561.5 952.1L1562.0 954.4L1562.5 953.2L1563.0 951.6L1563.5 950.9L1564.0 952.4L1564.5 953.7L1565.0 955.3L1565.5 952.9L1566.0 953.7L1566.5 952.6L1567.0 952.3L1567.5 950.8L1568.0 952.0L1568.5 951.0L1569.0 950.6L1569.5 951.0L1570.0 952.0L1570.5 949.6L1571.0 949.6L1571.5 950.2L1572.0 952.4L1572.5 949.2L1573.0 951.4L1573.5 950.9L1574.0 947.9L1574.5 950.5" fill="none" stroke="#0000ff" stroke-width="9.6" stroke-linejoin="round" stroke-linecap="round"/>
<path d="M207.0 847.7L207.5 844.4L208.0 848.8L208.5 849.9L209.0 849.5L209.5 851.0L210.0 853.4L210.5 851.7L211.0 854.4L211.5 857.5L212.0 854.2L212.5 855.5L213.0 857.8L213.5 861.8L214.0 860.0L214.5 859.9L215.0 862.1L215.5 862.4L216.0 860.5L216.5 863.4L217.0 863.3L217.5 866.3L218.0 865.6L218.5 867.5L219.0 868.0L219.5 866.3L220.0 868.8L220.5 869.2L221.0 870.0L221.5 870.4L222.0 869.8L222.5 867.6L223.0 871.2L223.5 869.2L224.0 871.2L224.5 873.2L225.0 870.8L225.5 875.0L226.0 873.9L226.5 875.2L227.0 871.0L227.5 873.8L228.0 870.7L228.5 872.8L229.0 871.8L229.5 872.9L230.0 872.3L230.5 873.4L231.0 872.8L231.5 874.8L232.0 875.8L232.5 876.8L233.0 878.3L233.5 879.8L234.0 879.4L234.5 880.8L235.0 879.5L235.5 879.5L236.0 879.4L236.5 878.8L237.0 880.5L237.5 879.5L238.0 882.8L238.5 880.3L239.0 880.5L239.5 882.4L240.0 882.7L240.5 882.2L241.0 883.4L241.5 882.3L242.0 881.7L242.5 882.7L243.0 883.5L243.5 883.0L244.0 882.4L244.5 882.2L245.0 884.3L245.5 883.5L246.0 884.4L246.5 881.0L247.0 884.5L247.5 886.1L248.0 886.8L248.5 884.1L249.0 884.5L249.5 884.1L250.0 884.7L250.5 886.4L251.0 886.7L251.5 881.9L252.0 883.9L252.5 884.8L253.0 882.4L253.5 883.9L254.0 885.7L254.5 883.2L255.0 887.8L255.5 885.3L256.0 885.0L256.5 884.3L257.0 882.4L257.5 885.3L258.0 886.0L258.5 883.6L259.0 887.5L259.5 886.3L260.0 885.8L260.5 888.1L261.0 885.9L261.5 886.2L262.0 888.6L262.5 888.5L263.0 885.0L263.5 886.3L264.0 886.4L264.5 886.7L265.0 885.8L265.5 887.0L266.0 887.7L266.5 886.9L267.0 887.0L267.5 885.8L268.0 885.6L268.5 886.0L269.0 888.6L269.5 885.3L270.0 886.4L270.5 886.0L271.0 886.1L271.5 887.4L272.0 886.6L272.5 887.0L273.0 888.5L273.5 887.2L274.0 886.0L274.5 887.6L275.0 885.8L275.5 886.3L276.0 889.4L276.5 886.9L277.0 886.3L277.5 886.1L278.0 887.3L278.5 889.6L279.0 887.7L279.5 886.4L280.0 887.4L280.5 886.7L281.0 886.3L281.5 886.9L282.0 887.1L282.5 887.4L283.0 885.0L283.5 886.1L284.0 887.9L284.5 887.6L285.0 881.7L285.5 883.9L286.0 879.7L286.5 877.8L287.0 875.3L287.5 876.1L288.0 876.8L288.5 877.5L289.0 880.0L289.5 883.5L290.0 885.8L290.5 887.3L291.0 887.7L291.5 888.2L292.0 886.8L292.5 886.1L293.0 885.6L293.5 887.4L294.0 888.8L294.5 887.9L295.0 887.3L295.5 886.8L296.0 888.5L296.5 889.7L297.0 886.9L297.5 889.8L298.0 889.1L298.5 890.4L299.0 888.1L299.5 887.6L300.0 889.0L300.5 888.6L301.0 886.7L301.5 889.1L302.0 889.3L302.5 888.3L303.0 887.9L303.5 889.9L304.0 887.3L304.5 888.9L305.0 888.7L305.5 889.5L306.0 888.6L306.5 890.2L307.0 888.0L307.5 886.9L308.0 886.0L308.5 886.7L309.0 886.9L309.5 887.4L310.0 887.2L310.5 888.7L311.0 889.5L311.5 889.9L312.0 889.5L312.5 887.0L313.0 886.6L313.5 887.2L314.0 885.6L314.5 886.9L315.0 887.6L315.5 889.3L316.0 887.6L316.5 888.0L317.0 886.3L317.5 887.2L318.0 886.5L318.5 887.6L319.0 888.9L319.5 885.9L320.0 887.7L320.5 886.1L321.0 885.7L321.5 888.7L322.0 889.9L322.5 889.5L323.0 886.9L323.5 887.1L324.0 887.6L324.5 885.9L325.0 888.3L325.5 888.7L326.0 886.3L326.5 888.1L327.0 889.6L327.5 887.2L328.0 889.1L328.5 887.0L329.0 886.6L329.5 883.8L330.0 885.4L330.5 886.0L331.0 886.6L331.5 886.0L332.0 886.2L332.5 886.1L333.0 886.7L333.5 883.6L334.0 882.2L334.5 887.6L335.0 885.4L335.5 886.8L336.0 885.4L336.5 884.0L337.0 886.8L337.5 885.6L338.0 884.9L338.5 886.8L339.0 884.8L339.5 885.6L340.0 883.0L340.5 887.1L341.0 885.1L341.5 886.5L342.0 883.3L342.5 885.1L343.0 884.3L343.5 886.3L344.0 883.9L344.5 887.0L345.0 885.1L345.5 884.5L346.0 886.1L346.5 882.1L347.0 886.1L347.5 883.7L348.0 883.2L348.5 881.3L349.0 886.1L349.5 886.4L350.0 881.6L350.5 883.0L351.0 884.1L351.5 884.0L352.0 883.0L352.5 886.3L353.0 884.3L353.5 885.5L354.0 884.1L354.5 887.0L355.0 883.8L355.5 883.7L356.0 882.8L356.5 884.8L357.0 883.4L357.5 883.5L358.0 884.6L358.5 881.6L359.0 882.3L359.5 883.3L360.0 883.6L360.5 885.6L361.0 881.9L361.5 886.4L362.0 883.6L362.5 886.2L363.0 884.4L363.5 886.0L364.0 881.7L364.5 883.7L365.0 882.9L365.5 883.0L366.0 885.1L366.5 884.8L367.0 883.2L367.5 885.6L368.0 884.6L368.5 881.7L369.0 885.9L369.5 884.5L370.0 884.5L370.5 885.0L371.0 884.3L371.5 883.5L372.0 880.3L372.5 883.4L373.0 883.7L373.5 883.2L374.0 884.6L374.5 882.6L375.0 884.6L375.5 884.4L376.0 881.0L376.5 883.4L377.0 882.6L377.5 881.6L378.0 884.6L378.5 881.0L379.0 881.6L379.5 881.3L380.0 880.9L380.5 881.8L381.0 883.3L381.5 880.7L382.0 882.0L382.5 882.5L383.0 878.8L383.5 882.2L384.0 883.4L384.5 881.9L385.0 881.5L385.5 881.8L386.0 878.3L386.5 881.7L387.0 880.4L387.5 881.5L388.0 880.7L388.5 880.4L389.0 881.0L389.5 880.6L390.0 879.8L390.5 880.3L391.0 881.9L391.5 879.3L392.0 881.3L392.5 880.0L393.0 880.3L393.5 880.5L394.0 879.3L394.5 877.9L395.0 881.7L395.5 878.8L396.0 878.7L396.5 876.7L397.0 879.5L397.5 876.3L398.0 876.7L398.5 878.2L399.0 878.3L399.5 876.8L400.0 878.0L400.5 878.2L401.0 875.5L401.5 878.3L402.0 876.6L402.5 876.5L403.0 876.7L403.5 874.9L404.0 875.4L404.5 874.5L405.0 877.2L405.5 875.9L406.0 878.3L406.5 877.5L407.0 876.0L407.5 875.6L408.0 877.4L408.5 874.8L409.0 876.4L409.5 873.3L410.0 875.2L410.5 875.2L411.0 872.4L411.5 874.1L412.0 872.7L412.5 874.0L413.0 872.1L413.5 872.8L414.0 872.3L414.5 870.9L415.0 872.6L415.5 871.0L416.0 871.6L416.5 871.9L417.0 873.7L417.5 868.1L418.0 870.0L418.5 870.6L419.0 867.4L419.5 868.6L420.0 866.7L420.5 867.7L421.0 867.5L421.5 866.5L422.0 866.4L422.5 866.7L423.0 865.6L423.5 865.6L424.0 864.7L424.5 862.8L425.0 862.3L425.5 865.9L426.0 861.9L426.5 860.0L427.0 859.4L427.5 858.8L428.0 859.9L428.5 856.0L429.0 857.3L429.5 852.8L430.0 854.1L430.5 854.9L431.0 854.1L431.5 851.6L432.0 849.1L432.5 850.9L433.0 851.4L433.5 846.1L434.0 843.4L434.5 845.2L435.0 843.5L435.5 842.8L436.0 838.7L436.5 837.2L437.0 836.4L437.5 832.1L438.0 829.1L438.5 827.0L439.0 825.9L439.5 820.9L440.0 817.2L440.5 816.0L441.0 810.9L441.5 804.5L442.0 802.6L442.5 794.0L443.0 789.9L443.5 782.8L444.0 779.0L444.5 771.3L445.0 761.3L445.5 752.2L446.0 740.9L446.5 729.5L447.0 716.2L447.5 700.5L448.0 683.6L448.5 664.7L449.0 644.1L449.5 618.9L450.0 594.3L450.5 559.8L451.0 526.4L451.5 485.4L451.9 455.0L452.0 444.8L452.5 408.7L452.9 385.2L453.0 382.0L453.4 375.8L453.5 376.4L453.9 386.1L454.0 389.5L454.5 422.3L454.9 454.6L455.0 463.5L455.5 505.0L456.0 540.7L456.5 575.1L457.0 606.7L457.5 632.1L458.0 654.1L458.5 676.6L459.0 691.5L459.5 707.3L460.0 721.5L460.5 734.0L461.0 746.5L461.5 757.1L462.0 765.1L462.5 772.2L463.0 784.3L463.5 787.5L464.0 793.3L464.5 797.0L465.0 803.6L465.5 809.8L466.0 812.9L466.5 817.0L467.0 822.1L467.5 823.9L468.0 827.7L468.5 828.3L469.0 833.5L469.5 835.6L470.0 836.1L470.5 835.5L471.0 839.6L471.5 842.3L472.0 845.7L472.5 847.1L473.0 847.0L473.5 848.0L474.0 849.7L474.5 850.6L475.0 853.2L475.5 855.1L476.0 854.2L476.5 855.1L477.0 855.9L477.5 856.7L478.0 857.8L478.5 860.3L479.0 858.0L479.5 859.8L480.0 860.4L480.5 861.0L481.0 861.6L481.5 861.5L482.0 862.1L482.5 863.1L483.0 862.4L483.5 862.5L484.0 866.3L484.5 863.7L485.0 863.9L485.5 863.9L486.0 865.2L486.5 866.9L487.0 864.1L487.5 864.6L488.0 865.5L488.5 868.7L489.0 865.3L489.5 867.7L490.0 868.5L490.5 867.6L491.0 869.7L491.5 866.5L492.0 868.7L492.5 865.7L493.0 864.8L493.5 868.8L494.0 865.5L494.5 864.7L495.0 864.9L495.5 864.0L496.0 865.6L496.5 869.1L497.0 868.4L497.5 872.3L498.0 871.4L498.5 872.8L499.0 869.7L499.5 873.7L500.0 871.8L500.5 873.7L501.0 871.8L501.5 873.7L502.0 873.8L502.5 870.8L503.0 872.8L503.5 873.8L504.0 875.1L504.5 873.2L505.0 874.1L505.5 874.2L506.0 873.7L506.5 875.3L507.0 875.4L507.5 876.7L508.0 874.9L508.5 876.7L509.0 877.6L509.5 875.4L510.0 877.5L510.5 877.5L511.0 873.7L511.5 877.8L512.0 875.4L512.5 876.3L513.0 877.6L513.5 876.5L514.0 877.5L514.5 877.2L515.0 878.1L515.5 878.8L516.0 877.9L516.5 878.5L517.0 880.1L517.5 879.2L518.0 876.7L518.5 880.7L519.0 877.0L519.5 878.3L520.0 878.1L520.5 876.9L521.0 880.8L521.5 878.0L522.0 879.0L522.5 879.0L523.0 879.5L523.5 877.1L524.0 878.3L524.5 876.8L525.0 880.2L525.5 878.9L526.0 874.6L526.5 876.7L527.0 877.2L527.5 876.3L528.0 878.6L528.5 878.3L529.0 879.3L529.5 879.8L530.0 878.7L530.5 876.0L531.0 878.9L531.5 876.9L532.0 876.4L532.5 877.8L533.0 876.1L533.5 877.3L534.0 879.1L534.5 880.1L535.0 879.1L535.5 879.7L536.0 879.4L536.5 879.0L537.0 882.4L537.5 878.9L538.0 881.8L538.5 881.5L539.0 882.2L539.5 880.9L540.0 879.4L540.5 881.1L541.0 880.1L541.5 879.8L542.0 880.9L542.5 882.9L543.0 882.2L543.5 879.9L544.0 880.8L544.5 881.2L545.0 879.9L545.5 878.5L546.0 880.2L546.5 877.9L547.0 881.2L547.5 880.0L548.0 883.7L548.5 881.4L549.0 880.9L549.5 881.9L550.0 883.2L550.5 881.5L551.0 882.5L551.5 879.4L552.0 883.9L552.5 882.1L553.0 882.6L553.5 881.9L554.0 881.4L554.5 880.0L555.0 882.8L555.5 883.5L556.0 880.6L556.5 882.4L557.0 882.8L557.5 878.4L558.0 882.1L558.5 879.7L559.0 878.4L559.5 878.6L560.0 881.9L560.5 882.7L561.0 881.2L561.5 880.5L562.0 880.7L562.5 880.2L563.0 882.4L563.5 884.3L564.0 880.7L564.5 880.6L565.0 881.0L565.5 880.6L566.0 881.0L566.5 883.1L567.0 881.9L567.5 880.4L568.0 882.0L568.5 883.9L569.0 881.6L569.5 880.9L570.0 884.5L570.5 878.7L571.0 879.6L571.5 884.2L572.0 883.6L572.5 881.0L573.0 880.3L573.5 880.9L574.0 881.6L574.5 883.4L575.0 883.2L575.5 881.0L576.0 881.8L576.5 883.0L577.0 881.5L577.5 884.3L578.0 881.5L578.5 882.4L579.0 880.2L579.5 883.2L580.0 886.3L580.5 885.4L581.0 884.3L581.5 881.7L582.0 884.1L582.5 880.5L583.0 882.9L583.5 886.7L584.0 883.5L584.5 882.6L585.0 884.1L585.5 883.2L586.0 881.3L586.5 881.5L587.0 882.9L587.5 881.3L588.0 880.8L588.5 880.9L589.0 884.1L589.5 880.8L590.0 882.4L590.5 882.7L591.0 883.9L591.5 882.0L592.0 882.4L592.5 881.7L593.0 880.3L593.5 882.1L594.0 880.5L594.5 881.6L595.0 880.5L595.5 879.3L596.0 879.5L596.5 881.2L597.0 877.2L597.5 875.7L598.0 874.6L598.5 867.9L599.0 855.0L599.3 848.2L599.5 841.3L600.0 831.0L600.3 818.6L600.5 817.4L600.8 814.9L601.0 815.7L601.3 820.6L601.5 825.5L602.0 840.2L602.3 850.5L602.5 854.6L603.0 865.4L603.5 870.6L604.0 874.5L604.5 878.4L605.0 877.4L605.5 879.0L606.0 880.9L606.5 879.9L607.0 880.4L607.5 878.1L608.0 882.5L608.5 882.4L609.0 880.3L609.5 882.5L610.0 880.8L610.5 880.5L611.0 881.6L611.5 882.2L612.0 880.9L612.5 880.8L613.0 881.0L613.5 880.9L614.0 881.9L614.5 882.6L615.0 881.3L615.5 880.0L616.0 880.4L616.5 880.8L617.0 881.5L617.5 882.4L618.0 881.9L618.5 878.8L619.0 879.6L619.5 882.9L620.0 880.2L620.5 882.9L621.0 880.7L621.5 879.9L622.0 880.1L622.5 884.5L623.0 883.3L623.5 882.3L624.0 881.7L624.5 883.4L625.0 881.0L625.5 882.7L626.0 879.9L626.5 882.3L627.0 880.8L627.5 883.6L628.0 879.9L628.5 882.8L629.0 881.5L629.5 881.1L630.0 880.3L630.5 881.9L631.0 878.0L631.5 882.7L632.0 879.8L632.5 878.4L633.0 879.3L633.5 878.0L634.0 881.4L634.5 879.3L635.0 876.8L635.5 877.2L636.0 876.0L636.5 878.1L637.0 879.5L637.5 879.2L638.0 876.5L638.5 879.7L639.0 880.0L639.5 881.4L640.0 881.0L640.5 879.9L641.0 879.0L641.5 882.6L642.0 882.3L642.5 881.6L643.0 880.3L643.5 880.8L644.0 880.9L644.5 881.8L645.0 879.0L645.5 881.0L646.0 880.4L646.5 879.0L647.0 881.0L647.5 880.0L648.0 883.1L648.5 878.8L649.0 877.7L649.5 876.0L650.0 879.1L650.5 879.5L651.0 878.0L651.5 876.9L652.0 879.6L652.5 882.4L653.0 880.8L653.5 879.3L654.0 882.4L654.5 881.1L655.0 881.6L655.5 881.2L656.0 880.1L656.5 880.7L657.0 883.3L657.5 882.0L658.0 881.9L658.5 881.4L659.0 880.7L659.5 881.7L660.0 879.8L660.5 880.5L661.0 883.5L661.5 882.2L662.0 881.6L662.5 880.7L663.0 882.9L663.5 884.0L664.0 880.9L664.5 884.4L665.0 881.4L665.5 883.0L666.0 881.8L666.5 883.0L667.0 882.1L667.5 882.3L668.0 883.1L668.5 882.5L669.0 882.3L669.5 881.8L670.0 882.6L670.5 879.9L671.0 877.6L671.5 883.2L672.0 881.0L672.5 881.9L673.0 882.3L673.5 879.7L674.0 880.0L674.5 882.5L675.0 880.8L675.5 882.2L676.0 881.0L676.5 879.0L677.0 882.4L677.5 880.4L678.0 878.2L678.5 880.0L679.0 876.0L679.5 876.9L680.0 876.2L680.5 878.2L681.0 879.6L681.5 879.3L682.0 877.9L682.5 880.4L683.0 881.0L683.5 879.0L684.0 880.9L684.5 881.2L685.0 883.0L685.5 881.0L686.0 880.6L686.5 880.9L687.0 880.9L687.5 881.6L688.0 881.6L688.5 882.5L689.0 880.2L689.5 880.2L690.0 881.3L690.5 881.8L691.0 881.0L691.5 880.1L692.0 880.3L692.5 878.2L693.0 882.5L693.5 879.6L694.0 880.6L694.5 879.7L695.0 880.1L695.5 880.7L696.0 881.3L696.5 882.9L697.0 882.8L697.5 881.8L698.0 881.6L698.5 880.6L699.0 881.9L699.5 880.5L700.0 881.8L700.5 882.2L701.0 880.5L701.5 878.9L702.0 878.3L702.5 875.7L703.0 876.2L703.5 877.9L704.0 878.2L704.5 875.3L705.0 872.1L705.5 870.4L706.0 868.8L706.5 868.2L707.0 863.1L707.5 860.1L708.0 850.9L708.5 843.1L709.0 830.8L709.3 820.4L709.5 819.3L710.0 803.4L710.3 798.3L710.5 796.7L710.8 793.2L711.0 797.4L711.3 799.8L711.5 804.6L712.0 811.8L712.3 822.6L712.5 828.1L713.0 837.9L713.5 849.1L714.0 855.4L714.5 861.9L715.0 868.4L715.5 869.6L716.0 869.4L716.5 871.9L717.0 874.3L717.5 875.7L718.0 874.3L718.5 877.6L719.0 875.6L719.5 876.7L720.0 879.4L720.5 877.7L721.0 877.9L721.5 881.1L722.0 877.6L722.5 880.1L723.0 878.9L723.5 878.2L724.0 880.7L724.5 882.2L725.0 878.4L725.5 881.7L726.0 882.6L726.5 881.0L727.0 881.4L727.5 880.2L728.0 880.9L728.5 879.5L729.0 880.0L729.5 884.1L730.0 881.1L730.5 880.4L731.0 880.8L731.5 881.1L732.0 881.0L732.5 883.0L733.0 881.9L733.5 881.3L734.0 880.7L734.5 880.3L735.0 879.9L735.5 879.3L736.0 879.7L736.5 880.4L737.0 882.6L737.5 877.8L738.0 878.3L738.5 882.6L739.0 878.5L739.5 880.0L740.0 883.0L740.5 878.0L741.0 880.5L741.5 882.0L742.0 880.7L742.5 880.2L743.0 879.7L743.5 882.7L744.0 882.2L744.5 880.7L745.0 877.4L745.5 879.7L746.0 881.6L746.5 879.4L747.0 882.0L747.5 882.1L748.0 879.0L748.5 882.9L749.0 880.6L749.5 880.1L750.0 881.3L750.5 880.2L751.0 879.4L751.5 880.2L752.0 879.6L752.5 880.9L753.0 880.2L753.5 878.7L754.0 881.4L754.5 882.8L755.0 878.9L755.5 880.3L756.0 877.5L756.5 881.5L757.0 881.1L757.5 880.6L758.0 879.7L758.5 876.3L759.0 877.1L759.5 880.3L760.0 876.1L760.5 881.5L761.0 877.3L761.5 878.9L762.0 876.5L762.5 876.0L763.0 876.1L763.5 877.9L764.0 876.0L764.5 875.3L765.0 874.8L765.5 872.0L766.0 872.2L766.5 869.7L767.0 871.0L767.5 872.7L768.0 870.4L768.5 872.8L769.0 871.0L769.5 873.1L770.0 872.7L770.5 873.4L771.0 873.1L771.5 873.4L772.0 875.5L772.5 875.2L773.0 874.3L773.5 877.0L774.0 873.9L774.5 872.4L775.0 873.6L775.5 873.4L776.0 873.6L776.5 871.9L777.0 870.3L777.5 869.4L778.0 872.0L778.5 870.9L779.0 868.8L779.5 869.7L780.0 870.1L780.5 867.7L781.0 866.3L781.5 866.9L782.0 867.7L782.5 865.6L783.0 865.4L783.5 864.0L784.0 862.2L784.5 856.3L785.0 859.0L785.5 854.8L786.0 850.8L786.5 849.0L787.0 842.5L787.5 836.6L788.0 831.1L788.5 821.5L789.0 817.1L789.5 810.4L790.0 807.1L790.5 802.6L791.0 803.4L791.5 805.2L792.0 807.7L792.5 808.7L793.0 810.7L793.5 815.7L794.0 814.2L794.5 817.2L795.0 816.7L795.5 811.7L796.0 810.0L796.5 803.0L797.0 798.0L797.5 788.8L798.0 776.2L798.5 767.0L799.0 749.9L799.5 732.3L800.0 713.6L800.5 689.0L801.0 662.0L801.5 630.8L802.0 595.8L802.5 559.4L803.0 520.2L803.5 480.2L804.0 439.8L804.5 399.2L805.0 363.1L805.5 330.2L805.7 321.3L806.0 306.3L806.5 288.4L806.7 285.2L807.0 280.1L807.2 276.9L807.5 280.7L807.7 284.2L808.0 290.5L808.5 313.3L808.7 320.3L809.0 336.5L809.5 369.2L810.0 407.8L810.5 449.3L811.0 490.9L811.5 530.2L812.0 567.5L812.5 604.9L813.0 638.1L813.5 671.6L814.0 695.0L814.5 718.2L815.0 739.8L815.5 758.7L816.0 771.7L816.5 785.1L817.0 796.5L817.5 806.2L818.0 811.9L818.5 817.8L819.0 822.6L819.5 828.6L820.0 833.7L820.5 837.7L821.0 838.1L821.5 842.5L822.0 842.9L822.5 846.2L823.0 850.2L823.5 849.3L824.0 852.4L824.5 855.2L825.0 856.0L825.5 855.8L826.0 859.1L826.5 858.6L827.0 860.5L827.5 860.4L828.0 863.8L828.5 864.1L829.0 864.5L829.5 866.5L830.0 867.1L830.5 866.8L831.0 868.3L831.5 865.4L832.0 868.0L832.5 868.8L833.0 870.8L833.5 868.3L834.0 870.9L834.5 869.0L835.0 869.5L835.5 872.0L836.0 869.7L836.5 869.3L837.0 870.8L837.5 871.6L838.0 872.9L838.5 870.6L839.0 871.2L839.5 871.9L840.0 872.5L840.5 873.3L841.0 873.1L841.5 875.8L842.0 873.1L842.5 874.9L843.0 873.1L843.5 872.5L844.0 872.2L844.5 874.5L845.0 875.8L845.5 872.9L846.0 874.1L846.5 876.8L847.0 875.2L847.5 873.4L848.0 877.4L848.5 877.2L849.0 875.3L849.5 879.8L850.0 876.9L850.5 877.0L851.0 876.9L851.5 878.7L852.0 876.5L852.5 881.0L853.0 876.2L853.5 880.7L854.0 879.4L854.5 878.9L855.0 878.6L855.5 880.2L856.0 878.1L856.5 880.7L857.0 880.0L857.5 881.8L858.0 880.2L858.5 882.5L859.0 880.5L859.5 882.5L860.0 882.6L860.5 881.2L861.0 881.8L861.5 882.0L862.0 879.9L862.5 881.1L863.0 881.6L863.5 880.2L864.0 879.0L864.5 882.6L865.0 882.5L865.5 882.5L866.0 881.8L866.5 881.7L867.0 881.9L867.5 883.5L868.0 882.7L868.5 883.9L869.0 881.9L869.5 883.1L870.0 887.0L870.5 882.2L871.0 883.1L871.5 883.5L872.0 884.7L872.5 882.5L873.0 881.6L873.5 884.3L874.0 884.4L874.5 884.2L875.0 883.1L875.5 884.8L876.0 884.0L876.5 881.5L877.0 882.7L877.5 882.0L878.0 883.0L878.5 883.0L879.0 882.2L879.5 885.0L880.0 882.2L880.5 883.6L881.0 883.0L881.5 879.8L882.0 884.6L882.5 880.6L883.0 881.6L883.5 883.9L884.0 881.8L884.5 877.9L885.0 879.8L885.5 880.7L886.0 881.0L886.5 878.3L887.0 877.4L887.5 875.3L888.0 875.0L888.5 873.9L889.0 875.1L889.5 873.3L890.0 874.3L890.5 871.3L891.0 868.8L891.5 862.7L892.0 852.0L892.5 823.8L893.0 778.0L893.5 707.4L894.0 619.0L894.5 532.9L895.0 452.6L895.5 393.6L896.0 365.0L896.5 352.5L897.0 352.1L897.5 350.0L898.0 365.2L898.5 398.0L899.0 451.3L899.5 530.4L900.0 620.2L900.5 706.0L901.0 778.0L901.5 827.7L902.0 851.5L902.5 863.8L903.0 870.5L903.5 872.0L904.0 871.2L904.5 874.9L905.0 876.8L905.5 878.2L906.0 878.6L906.5 880.5L907.0 882.2L907.5 880.7L908.0 883.6L908.5 884.9L909.0 884.1L909.5 884.0L910.0 886.2L910.5 884.2L911.0 884.8L911.5 885.9L912.0 885.7L912.5 886.8L913.0 886.7L913.5 888.8L914.0 886.9L914.5 887.6L915.0 887.1L915.5 889.7L916.0 886.9L916.5 884.2L917.0 886.3L917.5 886.9L918.0 888.7L918.5 887.6L919.0 887.1L919.5 886.9L920.0 888.5L920.5 887.4L921.0 887.9L921.5 888.1L922.0 886.8L922.5 887.2L923.0 888.7L923.5 887.3L924.0 888.6L924.5 885.2L925.0 889.3L925.5 887.3L926.0 888.4L926.5 888.2L927.0 885.5L927.5 888.6L928.0 887.2L928.5 888.8L929.0 886.0L929.5 887.9L930.0 888.2L930.5 889.8L931.0 888.2L931.5 886.1L932.0 890.6L932.5 885.7L933.0 888.8L933.5 886.0L934.0 885.3L934.5 888.8L935.0 883.4L935.5 886.7L936.0 886.1L936.5 887.7L937.0 883.6L937.5 885.4L938.0 889.5L938.5 887.9L939.0 886.4L939.5 886.8L940.0 886.9L940.5 888.7L941.0 888.2L941.5 889.0L942.0 891.3L942.5 888.1L943.0 889.1L943.5 888.1L944.0 891.0L944.5 890.7L945.0 889.2L945.5 889.0L946.0 890.6L946.5 890.6L947.0 890.7L947.5 889.7L948.0 892.5L948.5 891.0L949.0 888.1L949.5 889.6L950.0 889.2L950.5 889.7L951.0 893.0L951.5 889.4L952.0 892.1L952.5 892.5L953.0 891.9L953.5 892.5L954.0 893.6L954.5 890.0L955.0 889.9L955.5 891.4L956.0 892.5L956.5 890.4L957.0 890.6L957.5 892.5L958.0 890.4L958.5 888.4L959.0 890.7L959.5 891.9L960.0 889.3L960.5 891.5L961.0 890.6L961.5 891.3L962.0 889.9L962.5 891.2L963.0 891.4L963.5 890.9L964.0 889.3L964.5 892.6L965.0 890.7L965.5 886.0L966.0 886.3L966.5 884.0L966.6 877.7L967.0 877.5L967.5 873.5L967.6 873.3L968.0 870.9L968.1 870.8L968.5 871.9L968.6 874.9L969.0 876.4L969.5 881.7L969.6 882.4L970.0 885.6L970.5 887.1L971.0 890.5L971.5 890.7L972.0 890.3L972.5 889.3L973.0 889.8L973.5 889.6L974.0 890.5L974.5 891.3L975.0 891.4L975.5 892.3L976.0 892.2L976.5 891.6L977.0 890.9L977.5 890.8L978.0 892.5L978.5 892.1L979.0 888.6L979.5 889.7L980.0 892.6L980.5 892.7L981.0 893.4L981.5 891.1L982.0 889.8L982.5 891.8L983.0 890.7L983.5 890.4L984.0 891.8L984.5 891.1L985.0 889.6L985.5 890.9L986.0 891.2L986.5 893.5L987.0 888.8L987.5 890.1L988.0 890.8L988.5 891.2L989.0 889.7L989.5 891.6L990.0 891.3L990.5 889.1L991.0 892.0L991.5 889.2L992.0 892.0L992.5 886.9L993.0 889.3L993.5 889.3L994.0 888.7L994.5 889.7L995.0 891.1L995.5 891.1L996.0 890.0L996.5 888.8L997.0 888.6L997.5 887.4L998.0 889.2L998.5 888.1L999.0 889.3L999.5 887.3L1000.0 887.3L1000.5 888.7L1001.0 888.4L1001.5 885.2L1002.0 885.7L1002.5 886.2L1003.0 886.5L1003.5 882.6L1004.0 886.9L1004.5 886.6L1005.0 887.7L1005.5 884.4L1006.0 885.7L1006.5 885.0L1007.0 888.2L1007.5 886.7L1008.0 884.9L1008.5 882.8L1009.0 883.8L1009.5 882.4L1010.0 883.2L1010.5 881.7L1011.0 882.5L1011.5 880.5L1012.0 882.6L1012.5 880.7L1013.0 882.8L1013.5 879.9L1014.0 879.4L1014.5 880.1L1015.0 880.8L1015.5 878.2L1016.0 877.0L1016.5 876.2L1017.0 877.8L1017.5 873.9L1018.0 872.3L1018.5 875.9L1019.0 876.4L1019.5 872.3L1020.0 870.6L1020.5 870.8L1021.0 870.1L1021.5 869.0L1022.0 867.7L1022.5 867.2L1023.0 864.8L1023.5 864.7L1024.0 862.6L1024.5 859.6L1025.0 861.1L1025.5 856.4L1026.0 855.3L1026.5 852.1L1027.0 851.2L1027.5 848.7L1028.0 846.4L1028.5 844.8L1029.0 841.4L1029.5 837.4L1030.0 835.9L1030.5 831.2L1031.0 828.4L1031.5 824.9L1032.0 819.6L1032.5 817.4L1033.0 807.0L1033.5 805.0L1034.0 797.2L1034.5 790.8L1035.0 781.2L1035.5 774.4L1036.0 763.9L1036.5 753.8L1037.0 741.7L1037.5 730.7L1038.0 716.8L1038.5 709.8L1038.7 704.4L1039.0 698.3L1039.5 691.9L1039.7 690.5L1040.0 687.4L1040.2 686.6L1040.5 688.3L1040.7 688.9L1041.0 693.9L1041.5 698.9L1041.7 703.8L1042.0 708.2L1042.5 719.2L1043.0 730.6L1043.5 743.8L1044.0 757.4L1044.5 766.3L1045.0 770.7L1045.5 782.5L1046.0 789.0L1046.5 796.5L1047.0 802.2L1047.5 810.1L1048.0 812.3L1048.5 818.8L1049.0 824.4L1049.5 825.7L1050.0 831.4L1050.5 833.3L1051.0 837.7L1051.5 841.6L1052.0 842.9L1052.5 847.6L1053.0 848.4L1053.5 852.0L1054.0 852.9L1054.5 854.4L1055.0 858.3L1055.5 858.6L1056.0 860.0L1056.5 862.0L1057.0 861.0L1057.5 862.2L1058.0 866.0L1058.5 866.8L1059.0 867.1L1059.5 868.9L1060.0 869.5L1060.5 872.3L1061.0 872.1L1061.5 874.3L1062.0 873.6L1062.5 876.3L1063.0 874.2L1063.5 874.8L1064.0 876.2L1064.5 875.8L1065.0 876.9L1065.5 878.2L1066.0 877.3L1066.5 879.4L1067.0 877.2L1067.5 880.4L1068.0 879.9L1068.5 881.5L1069.0 880.6L1069.5 880.4L1070.0 881.2L1070.5 882.5L1071.0 884.3L1071.5 882.4L1072.0 883.0L1072.5 882.1L1073.0 884.4L1073.5 884.9L1074.0 885.5L1074.5 882.7L1075.0 886.4L1075.5 884.2L1076.0 883.4L1076.5 887.4L1077.0 885.7L1077.5 886.5L1078.0 885.9L1078.5 887.8L1079.0 886.8L1079.5 887.5L1080.0 888.5L1080.5 886.8L1081.0 886.1L1081.5 885.7L1082.0 885.9L1082.5 888.3L1083.0 886.5L1083.5 887.6L1084.0 885.4L1084.5 886.1L1085.0 886.6L1085.5 886.7L1086.0 889.0L1086.5 888.3L1087.0 886.7L1087.5 887.6L1088.0 886.0L1088.5 888.0L1089.0 887.0L1089.5 886.5L1090.0 890.0L1090.5 889.3L1091.0 888.9L1091.5 887.3L1092.0 888.2L1092.5 886.7L1093.0 888.2L1093.5 887.0L1094.0 882.1L1094.5 876.6L1095.0 868.1L1095.5 855.8L1096.0 844.1L1096.5 836.2L1097.0 829.8L1097.5 832.0L1098.0 843.8L1098.5 858.7L1099.0 871.2L1099.5 877.8L1100.0 884.2L1100.5 885.7L1101.0 887.7L1101.5 890.8L1102.0 888.2L1102.5 890.6L1103.0 889.0L1103.5 891.5L1104.0 891.5L1104.5 891.1L1105.0 891.8L1105.5 890.5L1106.0 891.5L1106.5 889.6L1107.0 890.6L1107.5 891.7L1108.0 889.9L1108.5 891.2L1109.0 889.4L1109.5 890.2L1110.0 890.3L1110.5 887.6L1111.0 891.3L1111.5 889.9L1112.0 889.2L1112.5 890.0L1113.0 890.4L1113.5 890.4L1114.0 890.4L1114.5 889.4L1115.0 891.6L1115.5 889.3L1116.0 891.1L1116.5 890.0L1117.0 890.1L1117.5 891.0L1118.0 889.0L1118.5 890.6L1119.0 889.7L1119.5 889.9L1120.0 890.8L1120.5 887.7L1121.0 886.4L1121.5 889.4L1122.0 889.7L1122.5 889.6L1123.0 890.2L1123.5 887.8L1124.0 891.4L1124.5 888.0L1125.0 889.5L1125.5 890.6L1126.0 890.5L1126.5 889.2L1127.0 889.9L1127.5 888.8L1128.0 888.8L1128.5 889.0L1129.0 888.5L1129.5 887.8L1130.0 891.2L1130.5 889.7L1131.0 888.5L1131.5 887.7L1132.0 888.3L1132.5 889.5L1133.0 889.6L1133.5 887.1L1134.0 890.4L1134.5 888.7L1135.0 891.7L1135.5 891.1L1136.0 889.4L1136.5 888.5L1137.0 890.7L1137.5 889.3L1138.0 890.1L1138.5 889.0L1139.0 890.3L1139.5 889.7L1140.0 888.7L1140.5 888.9L1141.0 890.9L1141.5 890.0L1142.0 887.4L1142.5 887.5L1143.0 891.1L1143.5 888.7L1144.0 887.8L1144.5 887.2L1145.0 888.7L1145.5 890.2L1146.0 888.3L1146.5 889.3L1147.0 889.2L1147.5 891.1L1148.0 887.5L1148.5 888.3L1149.0 885.7L1149.5 888.4L1150.0 888.4L1150.5 888.5L1151.0 886.6L1151.5 890.1L1152.0 887.8L1152.5 887.1L1153.0 885.6L1153.5 889.0L1154.0 888.0L1154.5 887.5L1155.0 890.1L1155.5 886.2L1156.0 887.3L1156.5 885.6L1157.0 886.5L1157.5 885.4L1158.0 886.2L1158.5 885.9L1159.0 885.5L1159.5 884.5L1160.0 886.1L1160.5 884.1L1161.0 886.0L1161.5 884.6L1162.0 881.2L1162.5 883.4L1163.0 883.0L1163.5 883.2L1164.0 882.8L1164.5 880.0L1165.0 879.8L1165.5 880.7L1166.0 879.1L1166.5 877.5L1167.0 877.2L1167.5 875.6L1168.0 878.1L1168.5 874.2L1169.0 872.2L1169.5 870.0L1170.0 869.7L1170.5 869.1L1171.0 864.8L1171.5 863.0L1172.0 864.8L1172.5 862.1L1173.0 857.7L1173.5 854.7L1174.0 850.1L1174.5 850.0L1175.0 842.7L1175.5 841.7L1176.0 835.5L1176.5 831.7L1177.0 824.1L1177.5 817.8L1178.0 807.4L1178.5 799.8L1179.0 791.5L1179.5 779.7L1180.0 768.4L1180.5 755.4L1181.0 746.1L1181.5 735.4L1181.6 731.7L1182.0 725.2L1182.5 719.7L1182.6 720.3L1183.0 719.0L1183.1 716.6L1183.5 717.3L1183.6 720.8L1184.0 724.3L1184.5 730.1L1184.6 734.4L1185.0 739.0L1185.5 752.6L1186.0 764.6L1186.5 775.1L1187.0 782.7L1187.5 795.7L1188.0 803.5L1188.5 814.1L1189.0 818.4L1189.5 827.7L1190.0 833.1L1190.5 839.5L1191.0 843.1L1191.5 848.8L1192.0 852.1L1192.5 856.3L1193.0 858.5L1193.5 859.0L1194.0 863.1L1194.5 864.8L1195.0 867.8L1195.5 867.5L1196.0 869.5L1196.5 871.2L1197.0 871.7L1197.5 873.2L1198.0 873.5L1198.5 877.4L1199.0 879.2L1199.5 876.7L1200.0 878.0L1200.5 880.2L1201.0 880.8L1201.5 878.1L1202.0 879.6L1202.5 883.3L1203.0 882.6L1203.5 883.2L1204.0 881.7L1204.5 882.2L1205.0 880.8L1205.5 881.1L1206.0 876.8L1206.5 879.4L1207.0 877.3L1207.5 880.6L1208.0 878.0L1208.5 881.3L1209.0 879.1L1209.5 883.4L1210.0 885.7L1210.5 884.4L1211.0 885.6L1211.5 884.4L1212.0 886.4L1212.5 886.4L1213.0 887.4L1213.5 887.8L1214.0 885.6L1214.5 888.3L1215.0 888.0L1215.5 889.1L1216.0 889.7L1216.5 888.2L1217.0 887.2L1217.5 888.4L1218.0 890.3L1218.5 890.0L1219.0 890.2L1219.5 890.0L1220.0 888.5L1220.5 888.5L1221.0 889.4L1221.5 891.3L1222.0 887.3L1222.5 887.9L1223.0 887.7L1223.5 887.1L1224.0 887.5L1224.5 886.7L1225.0 886.1L1225.5 884.0L1226.0 888.9L1226.5 888.0L1227.0 886.6L1227.5 886.7L1228.0 883.7L1228.5 882.9L1229.0 884.6L1229.5 884.5L1230.0 885.7L1230.5 882.7L1231.0 883.0L1231.5 883.1L1232.0 879.0L1232.5 879.3L1233.0 882.0L1233.5 880.1L1234.0 878.9L1234.5 878.6L1235.0 880.5L1235.5 876.9L1236.0 876.3L1236.5 874.2L1237.0 873.1L1237.5 871.8L1238.0 871.3L1238.5 868.8L1239.0 868.0L1239.5 867.7L1240.0 861.5L1240.5 859.1L1241.0 857.7L1241.5 852.6L1242.0 847.9L1242.5 842.5L1243.0 838.0L1243.5 832.4L1244.0 825.4L1244.5 816.0L1245.0 806.8L1245.5 796.2L1246.0 778.0L1246.5 764.7L1247.0 747.1L1247.5 726.4L1248.0 705.1L1248.5 681.2L1249.0 660.1L1249.3 646.1L1249.5 641.8L1250.0 625.4L1250.3 618.5L1250.5 615.1L1250.8 613.9L1251.0 615.8L1251.3 616.3L1251.5 624.9L1252.0 636.8L1252.3 649.8L1252.5 657.6L1253.0 679.3L1253.5 701.2L1254.0 724.8L1254.5 744.1L1255.0 760.6L1255.5 778.0L1256.0 791.1L1256.5 805.4L1257.0 814.2L1257.5 823.9L1258.0 831.4L1258.5 836.4L1259.0 845.1L1259.5 849.8L1260.0 855.2L1260.5 858.3L1261.0 860.1L1261.5 865.1L1262.0 864.5L1262.5 869.3L1263.0 868.8L1263.5 872.3L1264.0 874.7L1264.5 875.3L1265.0 879.3L1265.5 878.0L1266.0 877.7L1266.5 879.5L1267.0 879.1L1267.5 880.1L1268.0 882.7L1268.5 882.7L1269.0 883.3L1269.5 885.1L1270.0 884.4L1270.5 887.5L1271.0 887.9L1271.5 885.9L1272.0 889.6L1272.5 889.4L1273.0 889.2L1273.5 890.2L1274.0 887.7L1274.5 889.9L1275.0 890.4L1275.5 890.8L1276.0 889.3L1276.5 891.3L1277.0 888.4L1277.5 889.2L1278.0 891.6L1278.5 889.9L1279.0 890.9L1279.5 891.8L1280.0 891.1L1280.5 890.4L1281.0 892.2L1281.5 893.0L1282.0 890.9L1282.5 893.0L1283.0 894.1L1283.5 893.7L1284.0 893.7L1284.5 890.4L1285.0 895.2L1285.5 893.5L1286.0 892.6L1286.5 893.6L1287.0 891.3L1287.5 891.9L1288.0 891.4L1288.5 892.0L1289.0 896.0L1289.5 893.0L1290.0 893.2L1290.5 895.1L1291.0 894.2L1291.5 895.2L1292.0 893.3L1292.5 891.5L1293.0 893.5L1293.5 893.5L1294.0 895.2L1294.5 893.4L1295.0 893.0L1295.5 892.4L1296.0 895.1L1296.5 894.4L1297.0 895.2L1297.5 895.0L1298.0 894.3L1298.5 892.5L1299.0 893.6L1299.5 893.8L1300.0 894.8L1300.5 894.9L1301.0 892.8L1301.5 894.3L1302.0 893.0L1302.5 896.8L1303.0 893.7L1303.5 893.8L1304.0 895.7L1304.5 894.6L1305.0 893.9L1305.5 895.1L1306.0 893.9L1306.5 895.4L1307.0 893.8L1307.5 894.2L1308.0 894.6L1308.5 895.5L1309.0 893.9L1309.5 895.6L1310.0 896.2L1310.5 895.8L1311.0 895.4L1311.5 892.5L1312.0 896.0L1312.5 896.8L1313.0 892.9L1313.5 894.7L1314.0 893.7L1314.5 893.4L1315.0 894.6L1315.5 894.7L1316.0 894.9L1316.5 892.8L1317.0 893.9L1317.5 892.2L1318.0 891.2L1318.5 891.7L1319.0 896.0L1319.5 893.8L1320.0 893.1L1320.5 896.0L1321.0 895.9L1321.5 894.9L1322.0 895.0L1322.5 893.4L1323.0 892.9L1323.5 892.7L1324.0 896.1L1324.5 896.1L1325.0 893.6L1325.5 893.9L1326.0 894.1L1326.5 892.2L1327.0 892.3L1327.5 894.6L1328.0 889.7L1328.5 890.8L1329.0 891.3L1329.5 892.4L1330.0 889.9L1330.5 890.2L1331.0 891.4L1331.5 891.0L1332.0 891.9L1332.5 892.7L1333.0 892.9L1333.5 892.3L1334.0 889.3L1334.5 889.1L1335.0 889.2L1335.5 889.7L1336.0 887.0L1336.5 886.9L1337.0 888.5L1337.5 889.7L1338.0 888.3L1338.5 888.8L1339.0 886.1L1339.5 887.1L1340.0 883.5L1340.5 884.5L1341.0 883.5L1341.5 884.2L1342.0 882.5L1342.5 883.4L1343.0 883.2L1343.5 882.4L1344.0 877.7L1344.5 879.1L1345.0 878.9L1345.5 878.2L1346.0 877.5L1346.5 877.0L1347.0 874.0L1347.5 874.2L1348.0 871.6L1348.5 869.6L1349.0 869.8L1349.5 869.8L1350.0 866.2L1350.5 866.1L1351.0 865.8L1351.5 862.8L1352.0 858.3L1352.5 858.3L1353.0 856.8L1353.5 854.0L1354.0 850.2L1354.5 849.5L1355.0 848.1L1355.5 848.5L1356.0 847.7L1356.3 848.9L1356.5 845.1L1357.0 848.7L1357.3 848.6L1357.5 845.7L1357.8 847.7L1358.0 848.6L1358.3 845.2L1358.5 848.0L1359.0 847.4L1359.3 849.8L1359.5 847.2L1360.0 849.5L1360.5 848.7L1361.0 851.2L1361.5 853.8L1362.0 854.2L1362.5 855.3L1363.0 856.5L1363.5 859.2L1364.0 861.6L1364.5 859.6L1365.0 865.7L1365.5 865.4L1366.0 867.9L1366.5 869.4L1367.0 869.5L1367.5 868.8L1368.0 872.5L1368.5 874.1L1369.0 875.9L1369.5 876.0L1370.0 874.5L1370.5 878.2L1371.0 878.9L1371.5 879.9L1372.0 877.8L1372.5 880.3L1373.0 880.9L1373.5 884.4L1374.0 882.0L1374.5 882.1L1375.0 885.6L1375.5 885.1L1376.0 882.0L1376.5 884.9L1377.0 882.3L1377.5 886.8L1378.0 883.4L1378.5 883.6L1379.0 886.6L1379.5 884.2L1380.0 883.8L1380.5 882.6L1381.0 883.2L1381.5 883.5L1382.0 883.7L1382.5 884.3L1383.0 883.6L1383.5 885.5L1384.0 886.1L1384.5 886.6L1385.0 889.0L1385.5 887.5L1386.0 889.3L1386.5 889.6L1387.0 887.9L1387.5 888.5L1388.0 890.1L1388.5 889.3L1389.0 891.9L1389.5 888.8L1390.0 891.3L1390.5 892.3L1391.0 891.4L1391.5 891.2L1392.0 891.8L1392.5 891.5L1393.0 891.1L1393.5 887.9L1394.0 885.5L1394.5 886.2L1395.0 884.1L1395.5 882.0L1396.0 882.0L1396.5 882.4L1397.0 884.0L1397.5 886.9L1398.0 892.4L1398.5 888.2L1399.0 892.3L1399.5 890.1L1400.0 893.0L1400.5 892.2L1401.0 893.0L1401.5 891.5L1402.0 890.2L1402.5 890.0L1403.0 891.3L1403.5 894.4L1404.0 890.6L1404.5 889.9L1405.0 890.3L1405.5 889.9L1406.0 888.5L1406.5 889.7L1407.0 887.9L1407.5 889.7L1408.0 888.8L1408.5 891.6L1409.0 888.1L1409.5 888.3L1410.0 886.9L1410.5 888.8L1411.0 888.4L1411.5 890.2L1412.0 885.2L1412.5 885.5L1413.0 884.7L1413.5 885.9L1414.0 886.7L1414.5 884.0L1415.0 883.0L1415.5 882.6L1416.0 881.4L1416.5 881.0L1417.0 879.8L1417.5 878.8L1418.0 879.0L1418.5 876.5L1419.0 875.6L1419.5 871.9L1420.0 871.4L1420.5 871.7L1421.0 868.9L1421.5 868.1L1422.0 866.8L1422.5 861.9L1423.0 859.6L1423.5 860.6L1424.0 857.7L1424.5 855.5L1425.0 854.5L1425.5 855.5L1426.0 855.1L1426.5 852.2L1427.0 851.7L1427.5 853.8L1428.0 855.4L1428.5 855.0L1429.0 857.5L1429.5 857.0L1430.0 857.1L1430.5 861.6L1431.0 862.0L1431.5 862.3L1432.0 864.5L1432.5 863.9L1433.0 867.0L1433.5 873.3L1434.0 872.7L1434.5 873.0L1435.0 876.5L1435.5 877.4L1436.0 879.1L1436.5 880.0L1437.0 877.9L1437.5 881.7L1438.0 881.8L1438.5 883.3L1439.0 881.4L1439.5 885.5L1440.0 885.2L1440.5 886.7L1441.0 887.3L1441.5 885.2L1442.0 887.6L1442.5 886.7L1443.0 887.0L1443.5 889.4L1444.0 886.1L1444.5 888.2L1445.0 891.9L1445.5 890.5L1446.0 888.9L1446.5 892.3L1447.0 888.2L1447.5 891.5L1448.0 891.0L1448.5 891.3L1449.0 890.0L1449.5 892.2L1450.0 893.3L1450.5 892.7L1451.0 893.5L1451.5 891.7L1452.0 892.3L1452.5 894.8L1453.0 893.0L1453.5 892.9L1454.0 896.4L1454.5 895.9L1455.0 893.0L1455.5 895.4L1456.0 894.7L1456.5 895.4L1457.0 898.4L1457.5 897.7L1458.0 894.4L1458.5 895.2L1459.0 893.8L1459.5 895.4L1460.0 896.0L1460.5 897.3L1461.0 893.6L1461.5 895.2L1462.0 896.9L1462.5 898.7L1463.0 898.7L1463.5 892.9L1464.0 896.1L1464.5 894.8L1465.0 897.3L1465.5 897.9L1466.0 895.3L1466.5 895.6L1467.0 897.8L1467.5 895.6L1468.0 895.8L1468.5 899.3L1469.0 895.6L1469.5 894.1L1470.0 894.1L1470.5 897.2L1471.0 894.9L1471.5 897.4L1472.0 894.0L1472.5 898.4L1473.0 893.5L1473.5 894.5L1474.0 890.4L1474.5 887.3L1475.0 884.8L1475.1 882.4L1475.5 879.2L1476.0 875.0L1476.1 874.1L1476.5 874.0L1476.6 874.7L1477.0 874.4L1477.1 876.5L1477.5 878.7L1478.0 882.4L1478.1 884.2L1478.5 888.6L1479.0 889.6L1479.5 893.1L1480.0 893.1L1480.5 895.0L1481.0 896.4L1481.5 897.8L1482.0 896.5L1482.5 898.3L1483.0 897.7L1483.5 898.2L1484.0 895.7L1484.5 898.1L1485.0 896.3L1485.5 897.9L1486.0 896.9L1486.5 893.6L1487.0 896.6L1487.5 897.2L1488.0 897.8L1488.5 897.4L1489.0 897.1L1489.5 897.0L1490.0 895.4L1490.5 896.6L1491.0 898.2L1491.5 896.9L1492.0 897.1L1492.5 897.4L1493.0 898.7L1493.5 896.8L1494.0 896.8L1494.5 898.0L1495.0 898.1L1495.5 895.6L1496.0 900.7L1496.5 897.9L1497.0 899.4L1497.5 899.2L1498.0 897.2L1498.5 899.9L1499.0 897.7L1499.5 899.5L1500.0 897.0L1500.5 899.9L1501.0 898.0L1501.5 899.2L1502.0 897.5L1502.5 899.6L1503.0 897.1L1503.5 898.7L1504.0 897.3L1504.5 899.0L1505.0 896.2L1505.5 898.8L1506.0 899.6L1506.5 897.8L1507.0 898.0L1507.5 898.3L1508.0 895.7L1508.5 897.2L1509.0 896.1L1509.5 897.3L1510.0 898.8L1510.5 897.4L1511.0 899.1L1511.5 897.5L1512.0 897.6L1512.5 896.8L1513.0 897.6L1513.5 898.0L1514.0 898.0L1514.5 899.6L1515.0 899.9L1515.5 897.1L1516.0 899.5L1516.5 900.5L1517.0 899.2L1517.5 898.3L1518.0 901.6L1518.5 898.7L1519.0 895.7L1519.5 898.7L1520.0 899.9L1520.5 899.1L1521.0 898.7L1521.5 898.4L1522.0 898.2L1522.5 900.4L1523.0 897.1L1523.5 898.4L1524.0 898.6L1524.5 899.2L1525.0 897.8L1525.5 900.5L1526.0 899.7L1526.5 898.7L1527.0 899.6L1527.5 897.2L1528.0 897.7L1528.5 900.2L1529.0 900.1L1529.5 897.2L1530.0 899.5L1530.5 899.9L1531.0 897.6L1531.5 897.3L1532.0 897.3L1532.5 899.1L1533.0 896.7L1533.5 897.7L1534.0 895.4L1534.5 898.6L1535.0 898.4L1535.5 897.3L1536.0 894.9L1536.5 898.6L1537.0 896.3L1537.5 898.0L1538.0 896.2L1538.5 895.5L1539.0 897.8L1539.5 897.8L1540.0 897.1L1540.5 895.6L1541.0 896.9L1541.5 895.8L1542.0 899.0L1542.5 895.3L1543.0 895.9L1543.5 895.0L1544.0 896.0L1544.5 894.0L1545.0 892.2L1545.5 889.5L1546.0 886.7L1546.5 878.8L1547.0 870.4L1547.3 867.0L1547.5 863.8L1548.0 857.8L1548.3 852.6L1548.5 850.4L1548.8 851.9L1549.0 850.7L1549.3 851.3L1549.5 854.4L1550.0 859.5L1550.3 861.9L1550.5 865.6L1551.0 871.0L1551.5 875.9L1552.0 881.8L1552.5 881.5L1553.0 883.7L1553.5 887.9L1554.0 890.3L1554.5 891.5L1555.0 893.1L1555.5 894.9L1556.0 896.1L1556.5 899.0L1557.0 899.5L1557.5 899.3L1558.0 897.9L1558.5 898.2L1559.0 898.4L1559.5 898.0L1560.0 898.3L1560.5 895.1L1561.0 899.6L1561.5 899.0L1562.0 896.2L1562.5 899.0L1563.0 898.7L1563.5 898.6L1564.0 896.5L1564.5 897.5L1565.0 897.5L1565.5 896.3L1566.0 895.9L1566.5 897.6L1567.0 897.2L1567.5 894.8L1568.0 894.0L1568.5 897.5L1569.0 896.2L1569.5 895.7L1570.0 897.9L1570.5 896.0L1571.0 893.5L1571.5 895.2L1572.0 894.2L1572.5 893.0L1573.0 892.4L1573.5 893.0L1574.0 891.3L1574.5 890.6" fill="none" stroke="#008080" stroke-width="9.6" stroke-linejoin="round" stroke-linecap="round"/>
<path d="M207.0 783.2L207.5 780.4L208.0 785.0L208.5 783.2L209.0 787.9L209.5 788.3L210.0 788.6L210.5 788.4L211.0 792.4L211.5 790.4L212.0 791.0L212.5 794.3L213.0 794.4L213.5 795.0L214.0 795.3L214.5 796.4L215.0 795.3L215.5 797.1L216.0 797.3L216.5 799.6L217.0 798.8L217.5 801.9L218.0 803.6L218.5 801.9L219.0 802.0L219.5 803.4L220.0 803.1L220.5 804.1L221.0 804.8L221.5 804.6L222.0 805.4L222.5 805.4L223.0 806.3L223.5 804.5L224.0 807.6L224.5 806.0L225.0 808.3L225.5 807.9L226.0 809.7L226.5 808.0L227.0 808.9L227.5 806.6L228.0 808.5L228.5 807.3L229.0 806.9L229.5 810.1L230.0 808.3L230.5 808.6L231.0 810.5L231.5 810.0L232.0 813.6L232.5 812.4L233.0 812.6L233.5 813.8L234.0 814.5L234.5 815.4L235.0 816.9L235.5 816.1L236.0 815.8L236.5 816.5L237.0 820.7L237.5 818.1L238.0 818.7L238.5 820.3L239.0 819.5L239.5 819.4L240.0 820.4L240.5 820.4L241.0 819.6L241.5 820.3L242.0 819.0L242.5 819.1L243.0 818.5L243.5 822.4L244.0 818.7L244.5 820.9L245.0 822.1L245.5 820.1L246.0 822.3L246.5 821.2L247.0 823.7L247.5 823.6L248.0 820.6L248.5 822.3L249.0 821.6L249.5 823.9L250.0 823.0L250.5 823.6L251.0 822.9L251.5 826.2L252.0 824.9L252.5 823.0L253.0 823.3L253.5 823.6L254.0 822.6L254.5 824.9L255.0 826.4L255.5 824.2L256.0 823.8L256.5 821.1L257.0 823.8L257.5 824.9L258.0 824.7L258.5 822.9L259.0 824.8L259.5 823.8L260.0 824.5L260.5 823.2L261.0 825.3L261.5 825.1L262.0 825.5L262.5 823.9L263.0 826.4L263.5 824.9L264.0 823.2L264.5 823.0L265.0 825.2L265.5 823.0L266.0 824.1L266.5 826.2L267.0 825.9L267.5 824.9L268.0 825.8L268.5 823.7L269.0 826.5L269.5 827.0L270.0 827.9L270.5 825.0L271.0 824.7L271.5 825.0L272.0 827.1L272.5 826.9L273.0 825.4L273.5 825.6L274.0 823.6L274.5 826.3L275.0 825.2L275.5 826.0L276.0 823.9L276.5 827.0L277.0 825.3L277.5 825.6L278.0 825.2L278.5 827.9L279.0 827.7L279.5 827.3L280.0 825.6L280.5 824.6L281.0 823.8L281.5 827.3L282.0 825.3L282.5 825.4L283.0 824.9L283.5 826.1L284.0 826.3L284.5 820.9L285.0 820.9L285.5 815.6L286.0 809.8L286.1 806.8L286.5 797.8L287.0 789.8L287.1 788.0L287.5 784.2L287.6 786.2L288.0 787.4L288.1 788.3L288.5 795.8L289.0 805.9L289.1 807.3L289.5 813.4L290.0 818.5L290.5 823.7L291.0 825.1L291.5 828.3L292.0 825.3L292.5 823.6L293.0 829.6L293.5 826.5L294.0 828.0L294.5 828.0L295.0 827.2L295.5 829.4L296.0 828.5L296.5 828.6L297.0 828.1L297.5 827.0L298.0 827.2L298.5 831.6L299.0 830.7L299.5 828.3L300.0 827.4L300.5 828.1L301.0 828.4L301.5 829.3L302.0 828.8L302.5 825.2L303.0 827.2L303.5 828.0L304.0 828.7L304.5 827.8L305.0 828.0L305.5 828.7L306.0 829.6L306.5 827.9L307.0 828.9L307.5 827.9L308.0 829.0L308.5 828.8L309.0 828.4L309.5 826.8L310.0 827.6L310.5 825.7L311.0 827.8L311.5 826.8L312.0 826.5L312.5 829.7L313.0 827.8L313.5 828.2L314.0 828.0L314.5 829.2L315.0 825.3L315.5 827.3L316.0 831.0L316.5 828.6L317.0 827.2L317.5 826.6L318.0 828.4L318.5 830.9L319.0 828.4L319.5 827.9L320.0 827.5L320.5 830.7L321.0 828.5L321.5 829.6L322.0 829.4L322.5 826.3L323.0 827.7L323.5 827.7L324.0 827.5L324.5 828.6L325.0 827.6L325.5 827.1L326.0 827.8L326.5 824.9L327.0 826.2L327.5 830.6L328.0 824.2L328.5 828.3L329.0 824.7L329.5 826.2L330.0 826.2L330.5 826.2L331.0 824.9L331.5 828.1L332.0 825.6L332.5 824.6L333.0 826.6L333.5 825.9L334.0 825.9L334.5 825.9L335.0 825.9L335.5 827.0L336.0 826.0L336.5 825.1L337.0 826.2L337.5 825.9L338.0 824.0L338.5 827.0L339.0 827.5L339.5 823.1L340.0 823.6L340.5 822.5L341.0 823.3L341.5 827.4L342.0 823.2L342.5 826.4L343.0 825.2L343.5 824.2L344.0 823.5L344.5 823.6L345.0 825.2L345.5 824.5L346.0 824.9L346.5 825.3L347.0 825.0L347.5 822.0L348.0 825.2L348.5 824.6L349.0 823.7L349.5 821.1L350.0 824.5L350.5 822.6L351.0 825.0L351.5 823.0L352.0 824.5L352.5 822.4L353.0 821.5L353.5 824.2L354.0 822.4L354.5 822.3L355.0 823.7L355.5 824.0L356.0 823.3L356.5 820.6L357.0 822.7L357.5 822.0L358.0 821.6L358.5 821.7L359.0 822.7L359.5 822.3L360.0 822.1L360.5 823.5L361.0 821.2L361.5 825.5L362.0 823.0L362.5 823.1L363.0 825.8L363.5 823.1L364.0 821.4L364.5 822.0L365.0 822.2L365.5 823.2L366.0 820.8L366.5 821.5L367.0 822.3L367.5 821.9L368.0 820.8L368.5 822.6L369.0 824.2L369.5 823.5L370.0 822.6L370.5 822.9L371.0 820.9L371.5 822.2L372.0 823.0L372.5 820.6L373.0 821.7L373.5 822.2L374.0 821.2L374.5 821.0L375.0 819.4L375.5 821.4L376.0 820.5L376.5 820.7L377.0 820.8L377.5 819.4L378.0 818.8L378.5 819.3L379.0 819.7L379.5 820.2L380.0 820.2L380.5 820.4L381.0 820.1L381.5 820.8L382.0 820.6L382.5 817.2L383.0 819.5L383.5 818.1L384.0 820.9L384.5 819.7L385.0 818.2L385.5 821.8L386.0 818.8L386.5 818.9L387.0 818.0L387.5 818.4L388.0 818.0L388.5 819.5L389.0 821.1L389.5 820.8L390.0 819.1L390.5 818.3L391.0 821.2L391.5 820.1L392.0 820.8L392.5 820.3L393.0 820.3L393.5 819.0L394.0 819.6L394.5 818.4L395.0 816.2L395.5 820.2L396.0 817.3L396.5 821.0L397.0 818.3L397.5 817.9L398.0 817.0L398.5 817.9L399.0 819.1L399.5 817.3L400.0 817.6L400.5 817.7L401.0 816.6L401.5 818.1L402.0 818.2L402.5 818.1L403.0 818.3L403.5 815.3L404.0 817.1L404.5 815.7L405.0 815.8L405.5 815.9L406.0 815.4L406.5 815.5L407.0 814.9L407.5 814.2L408.0 814.5L408.5 813.3L409.0 812.4L409.5 813.9L410.0 814.9L410.5 811.2L411.0 811.9L411.5 811.2L412.0 811.9L412.5 813.5L413.0 811.2L413.5 812.3L414.0 810.1L414.5 811.5L415.0 810.5L415.5 811.3L416.0 809.7L416.5 810.5L417.0 809.6L417.5 808.5L418.0 808.2L418.5 807.9L419.0 808.2L419.5 808.3L420.0 809.0L420.5 805.2L421.0 805.1L421.5 807.7L422.0 804.2L422.5 806.6L423.0 805.5L423.5 806.0L424.0 802.6L424.5 801.5L425.0 802.8L425.5 801.9L426.0 801.8L426.5 799.4L427.0 800.3L427.5 795.2L428.0 795.8L428.5 796.1L429.0 795.7L429.5 795.6L430.0 794.8L430.5 795.4L431.0 792.1L431.5 790.2L432.0 789.8L432.5 790.3L433.0 790.0L433.5 783.7L434.0 788.2L434.5 786.1L435.0 781.0L435.5 782.8L436.0 781.2L436.5 777.1L437.0 776.1L437.5 773.7L438.0 770.8L438.5 767.9L439.0 763.4L439.5 761.6L440.0 756.8L440.5 753.5L441.0 749.1L441.5 745.2L442.0 739.8L442.5 731.3L443.0 728.8L443.5 722.8L444.0 714.1L444.5 706.9L445.0 697.6L445.5 686.2L446.0 676.1L446.5 663.7L447.0 652.2L447.5 633.5L448.0 617.1L448.5 598.3L449.0 576.4L449.5 551.0L450.0 522.7L450.5 487.0L451.0 454.1L451.5 413.1L451.9 377.1L452.0 367.8L452.5 329.7L452.9 308.3L453.0 301.4L453.4 294.9L453.5 295.5L453.9 307.1L454.0 308.3L454.5 344.4L454.9 377.3L455.0 384.7L455.5 427.8L456.0 466.1L456.5 502.7L457.0 531.2L457.5 560.8L458.0 587.3L458.5 604.3L459.0 623.8L459.5 639.3L460.0 655.8L460.5 670.1L461.0 681.4L461.5 692.9L462.0 702.0L462.5 709.1L463.0 718.5L463.5 722.9L464.0 729.1L464.5 736.5L465.0 740.8L465.5 747.1L466.0 748.6L466.5 755.1L467.0 756.2L467.5 761.4L468.0 765.5L468.5 766.6L469.0 769.3L469.5 771.4L470.0 777.1L470.5 778.3L471.0 779.5L471.5 780.6L472.0 784.2L472.5 787.9L473.0 788.6L473.5 788.0L474.0 788.9L474.5 791.4L475.0 792.9L475.5 792.8L476.0 794.3L476.5 794.2L477.0 795.6L477.5 797.2L478.0 800.2L478.5 798.7L479.0 799.4L479.5 799.6L480.0 799.6L480.5 800.5L481.0 802.2L481.5 798.9L482.0 804.5L482.5 802.2L483.0 803.9L483.5 806.7L484.0 803.4L484.5 803.6L485.0 806.4L485.5 807.2L486.0 806.0L486.5 807.5L487.0 808.7L487.5 809.4L488.0 806.7L488.5 810.0L489.0 807.5L489.5 810.4L490.0 811.3L490.5 810.8L491.0 806.8L491.5 808.1L492.0 808.0L492.5 805.2L493.0 806.6L493.5 804.1L494.0 802.5L494.5 800.2L495.0 799.9L495.5 800.5L496.0 802.7L496.5 807.1L497.0 809.4L497.5 813.1L498.0 812.3L498.5 812.9L499.0 816.0L499.5 812.4L500.0 814.6L500.5 815.7L501.0 814.3L501.5 816.3L502.0 815.3L502.5 814.5L503.0 814.7L503.5 815.3L504.0 818.2L504.5 817.7L505.0 816.5L505.5 817.9L506.0 814.2L506.5 819.5L507.0 817.2L507.5 819.1L508.0 818.4L508.5 817.7L509.0 819.8L509.5 818.2L510.0 819.0L510.5 820.0L511.0 820.0L511.5 819.3L512.0 819.6L512.5 819.1L513.0 819.8L513.5 817.1L514.0 820.8L514.5 819.7L515.0 822.5L515.5 821.4L516.0 818.3L516.5 819.9L517.0 820.8L517.5 818.2L518.0 822.2L518.5 821.8L519.0 821.8L519.5 820.9L520.0 822.1L520.5 819.1L521.0 820.6L521.5 821.1L522.0 820.1L522.5 820.3L523.0 819.6L523.5 821.9L524.0 823.0L524.5 819.5L525.0 819.9L525.5 819.1L526.0 819.5L526.5 817.9L527.0 816.4L527.5 819.5L528.0 821.6L528.5 820.2L529.0 819.1L529.5 816.6L530.0 819.5L530.5 816.8L531.0 818.0L531.5 818.4L532.0 819.6L532.5 818.7L533.0 819.2L533.5 819.8L534.0 818.2L534.5 822.1L535.0 821.9L535.5 822.1L536.0 820.7L536.5 822.4L537.0 819.1L537.5 820.4L538.0 821.1L538.5 824.9L539.0 822.5L539.5 823.3L540.0 822.5L540.5 822.3L541.0 823.7L541.5 822.3L542.0 824.3L542.5 823.6L543.0 822.8L543.5 824.3L544.0 823.2L544.5 823.2L545.0 822.9L545.5 823.1L546.0 822.6L546.5 823.6L547.0 824.9L547.5 824.2L548.0 825.4L548.5 823.1L549.0 821.8L549.5 821.6L550.0 823.4L550.5 824.6L551.0 824.2L551.5 825.2L552.0 824.7L552.5 825.6L553.0 822.6L553.5 824.0L554.0 823.9L554.5 822.8L555.0 822.4L555.5 822.1L556.0 822.7L556.5 826.0L557.0 824.5L557.5 824.7L558.0 823.0L558.5 823.9L559.0 823.9L559.5 822.2L560.0 823.8L560.5 823.1L561.0 825.0L561.5 824.0L562.0 824.6L562.5 823.4L563.0 821.5L563.5 822.6L564.0 825.0L564.5 824.2L565.0 826.7L565.5 824.5L566.0 821.5L566.5 828.1L567.0 823.6L567.5 824.4L568.0 824.0L568.5 823.1L569.0 824.9L569.5 825.9L570.0 824.0L570.5 821.8L571.0 823.3L571.5 823.2L572.0 822.9L572.5 825.4L573.0 824.5L573.5 825.7L574.0 823.9L574.5 827.1L575.0 826.1L575.5 823.7L576.0 824.6L576.5 825.0L577.0 824.5L577.5 825.5L578.0 823.1L578.5 824.6L579.0 824.3L579.5 826.3L580.0 823.6L580.5 825.3L581.0 823.6L581.5 823.5L582.0 823.1L582.5 826.4L583.0 827.6L583.5 823.6L584.0 825.0L584.5 826.3L585.0 823.8L585.5 824.6L586.0 822.5L586.5 824.2L587.0 824.6L587.5 824.2L588.0 825.2L588.5 825.5L589.0 826.0L589.5 827.9L590.0 826.0L590.5 824.3L591.0 825.0L591.5 825.7L592.0 823.5L592.5 824.1L593.0 824.6L593.5 825.9L594.0 824.5L594.5 823.4L595.0 823.2L595.5 823.1L596.0 821.8L596.5 821.7L597.0 824.5L597.5 819.3L598.0 817.5L598.5 809.9L599.0 800.9L599.3 792.5L599.5 789.8L600.0 774.1L600.3 764.1L600.5 762.8L600.8 761.2L601.0 763.6L601.3 766.3L601.5 768.4L602.0 785.4L602.3 791.1L602.5 797.0L603.0 808.6L603.5 816.0L604.0 819.4L604.5 821.7L605.0 821.8L605.5 825.0L606.0 825.3L606.5 822.8L607.0 823.8L607.5 822.6L608.0 823.2L608.5 822.8L609.0 821.1L609.5 823.4L610.0 823.2L610.5 822.0L611.0 824.4L611.5 821.2L612.0 824.2L612.5 824.1L613.0 824.2L613.5 824.0L614.0 824.1L614.5 822.1L615.0 826.5L615.5 826.8L616.0 825.2L616.5 825.4L617.0 824.8L617.5 825.8L618.0 824.8L618.5 825.6L619.0 824.9L619.5 826.8L620.0 823.2L620.5 823.2L621.0 824.4L621.5 825.0L622.0 826.3L622.5 825.8L623.0 824.5L623.5 824.7L624.0 825.3L624.5 826.2L625.0 824.7L625.5 823.8L626.0 825.4L626.5 827.1L627.0 825.1L627.5 826.3L628.0 824.6L628.5 827.0L629.0 823.9L629.5 826.8L630.0 823.0L630.5 823.8L631.0 823.3L631.5 823.3L632.0 823.6L632.5 822.8L633.0 824.7L633.5 820.7L634.0 819.8L634.5 819.4L635.0 821.0L635.5 821.0L636.0 820.6L636.5 824.1L637.0 823.6L637.5 822.0L638.0 822.7L638.5 823.2L639.0 824.4L639.5 824.3L640.0 826.2L640.5 822.7L641.0 822.8L641.5 825.2L642.0 826.2L642.5 826.8L643.0 824.2L643.5 825.6L644.0 825.8L644.5 824.3L645.0 824.5L645.5 824.1L646.0 824.0L646.5 822.2L647.0 824.3L647.5 822.8L648.0 823.2L648.5 824.5L649.0 823.1L649.5 823.4L650.0 818.8L650.5 822.7L651.0 822.6L651.5 820.9L652.0 822.4L652.5 823.6L653.0 823.3L653.5 824.3L654.0 823.9L654.5 824.4L655.0 824.9L655.5 823.2L656.0 824.1L656.5 825.0L657.0 824.3L657.5 824.9L658.0 822.8L658.5 825.5L659.0 824.2L659.5 824.7L660.0 824.5L660.5 826.0L661.0 827.5L661.5 825.2L662.0 825.5L662.5 823.5L663.0 826.0L663.5 823.2L664.0 824.6L664.5 827.1L665.0 826.0L665.5 826.9L666.0 826.4L666.5 824.1L667.0 824.2L667.5 826.0L668.0 827.0L668.5 825.4L669.0 823.1L669.5 824.2L670.0 825.3L670.5 827.1L671.0 823.4L671.5 822.5L672.0 824.9L672.5 824.1L673.0 824.5L673.5 822.5L674.0 823.9L674.5 824.4L675.0 822.4L675.5 823.8L676.0 821.1L676.5 819.1L677.0 821.2L677.5 818.4L678.0 817.8L678.5 813.9L679.0 814.5L679.5 810.0L680.0 812.2L680.5 812.1L681.0 816.4L681.5 817.4L682.0 820.6L682.5 820.7L683.0 820.8L683.5 821.6L684.0 822.3L684.5 823.3L685.0 821.4L685.5 825.2L686.0 824.2L686.5 822.1L687.0 821.8L687.5 822.4L688.0 823.3L688.5 822.3L689.0 822.9L689.5 825.2L690.0 821.2L690.5 824.1L691.0 825.2L691.5 824.4L692.0 823.3L692.5 821.0L693.0 822.5L693.5 821.8L694.0 822.3L694.5 821.3L695.0 824.2L695.5 824.8L696.0 822.6L696.5 821.0L697.0 823.0L697.5 821.8L698.0 822.1L698.5 819.5L699.0 821.0L699.5 820.1L700.0 820.8L700.5 818.2L701.0 820.1L701.5 818.2L702.0 819.5L702.5 817.5L703.0 817.0L703.5 816.6L704.0 816.2L704.5 814.9L705.0 812.2L705.5 811.4L706.0 809.8L706.5 805.8L707.0 798.5L707.5 792.9L708.0 784.9L708.5 777.3L709.0 761.9L709.3 754.9L709.5 749.0L710.0 732.9L710.3 727.6L710.5 724.0L710.8 724.7L711.0 722.4L711.3 726.2L711.5 732.7L712.0 745.9L712.3 753.3L712.5 759.3L713.0 773.3L713.5 782.9L714.0 790.5L714.5 798.5L715.0 803.4L715.5 806.1L716.0 809.0L716.5 811.5L717.0 813.5L717.5 813.2L718.0 813.8L718.5 814.3L719.0 816.5L719.5 816.4L720.0 816.3L720.5 817.3L721.0 815.4L721.5 818.0L722.0 817.7L722.5 819.3L723.0 821.1L723.5 818.9L724.0 821.2L724.5 817.1L725.0 820.8L725.5 820.1L726.0 821.3L726.5 821.3L727.0 821.3L727.5 817.3L728.0 820.4L728.5 818.1L729.0 820.2L729.5 818.7L730.0 820.9L730.5 821.6L731.0 821.3L731.5 818.5L732.0 823.7L732.5 820.7L733.0 818.6L733.5 820.4L734.0 823.0L734.5 818.2L735.0 818.4L735.5 821.0L736.0 819.2L736.5 819.6L737.0 818.6L737.5 821.0L738.0 820.9L738.5 819.5L739.0 820.8L739.5 819.0L740.0 817.2L740.5 820.5L741.0 819.1L741.5 820.0L742.0 819.7L742.5 819.7L743.0 818.3L743.5 819.0L744.0 820.2L744.5 819.3L745.0 818.0L745.5 819.9L746.0 821.1L746.5 820.9L747.0 820.4L747.5 818.4L748.0 819.4L748.5 819.3L749.0 819.2L749.5 819.7L750.0 819.6L750.5 820.4L751.0 817.0L751.5 818.5L752.0 818.5L752.5 817.1L753.0 817.6L753.5 820.3L754.0 818.1L754.5 817.1L755.0 818.4L755.5 818.9L756.0 821.5L756.5 818.8L757.0 816.9L757.5 816.8L758.0 817.5L758.5 818.9L759.0 817.1L759.5 818.3L760.0 816.6L760.5 815.9L761.0 817.0L761.5 816.6L762.0 813.8L762.5 813.4L763.0 813.0L763.5 812.7L764.0 815.3L764.5 811.4L765.0 810.6L765.5 809.8L766.0 811.3L766.5 808.0L767.0 807.2L767.5 806.6L768.0 805.5L768.5 807.6L769.0 807.8L769.5 807.6L770.0 807.7L770.5 811.0L771.0 810.3L771.5 812.3L772.0 814.4L772.5 813.7L773.0 814.9L773.5 812.2L774.0 812.7L774.5 812.6L775.0 813.2L775.5 812.0L776.0 815.1L776.5 812.3L777.0 809.8L777.5 810.5L778.0 810.3L778.5 811.4L779.0 810.1L779.5 808.8L780.0 806.8L780.5 808.9L781.0 808.2L781.5 806.3L782.0 804.3L782.5 802.6L783.0 803.3L783.5 801.1L784.0 801.3L784.5 799.7L785.0 796.9L785.5 793.7L786.0 791.9L786.5 787.3L787.0 782.0L787.5 776.2L788.0 775.2L788.5 768.3L789.0 760.4L789.5 755.0L790.0 750.8L790.5 749.0L791.0 746.2L791.5 751.2L792.0 749.7L792.5 751.8L793.0 751.2L793.5 753.5L794.0 750.1L794.5 751.2L795.0 746.9L795.5 746.6L796.0 740.7L796.5 731.6L797.0 726.0L797.5 716.3L798.0 702.8L798.5 688.1L799.0 671.5L799.5 647.1L800.0 625.1L800.5 594.4L801.0 561.7L801.5 526.3L802.0 483.8L802.5 440.4L803.0 392.0L803.5 344.0L804.0 296.7L804.5 250.0L805.0 209.9L805.5 166.8L805.7 155.4L806.0 139.7L806.5 116.5L806.7 114.8L807.0 107.5L807.2 104.5L807.5 106.0L807.7 111.1L808.0 118.9L808.5 141.7L808.7 155.0L809.0 175.5L809.5 217.5L810.0 258.8L810.5 308.3L811.0 357.4L811.5 402.4L812.0 450.3L812.5 492.5L813.0 534.3L813.5 570.7L814.0 602.7L814.5 629.6L815.0 657.6L815.5 674.5L816.0 693.4L816.5 709.4L817.0 720.4L817.5 729.3L818.0 740.8L818.5 744.5L819.0 751.2L819.5 760.0L820.0 765.4L820.5 769.4L821.0 777.4L821.5 776.5L822.0 781.5L822.5 782.8L823.0 785.6L823.5 785.5L824.0 787.0L824.5 792.4L825.0 793.1L825.5 794.9L826.0 796.7L826.5 798.3L827.0 796.3L827.5 798.6L828.0 800.8L828.5 802.4L829.0 803.4L829.5 803.8L830.0 804.1L830.5 807.7L831.0 806.3L831.5 805.6L832.0 807.9L832.5 809.9L833.0 808.1L833.5 810.4L834.0 811.1L834.5 812.2L835.0 809.3L835.5 811.5L836.0 812.4L836.5 810.9L837.0 812.8L837.5 811.6L838.0 813.3L838.5 814.2L839.0 812.9L839.5 812.2L840.0 816.0L840.5 812.8L841.0 815.9L841.5 816.1L842.0 816.1L842.5 815.3L843.0 814.8L843.5 814.4L844.0 816.8L844.5 818.5L845.0 818.3L845.5 816.6L846.0 818.9L846.5 817.5L847.0 820.1L847.5 816.8L848.0 821.0L848.5 819.6L849.0 821.2L849.5 819.6L850.0 818.5L850.5 818.8L851.0 822.2L851.5 821.2L852.0 822.1L852.5 822.1L853.0 820.1L853.5 821.1L854.0 822.1L854.5 821.4L855.0 822.3L855.5 822.8L856.0 821.7L856.5 822.6L857.0 822.6L857.5 823.1L858.0 823.3L858.5 824.2L859.0 823.3L859.5 824.1L860.0 826.4L860.5 824.6L861.0 824.6L861.5 827.2L862.0 825.9L862.5 826.8L863.0 827.9L863.5 825.1L864.0 825.1L864.5 827.3L865.0 821.8L865.5 823.7L866.0 827.1L866.5 828.4L867.0 826.9L867.5 829.3L868.0 828.4L868.5 829.6L869.0 826.2L869.5 827.4L870.0 823.5L870.5 828.1L871.0 828.3L871.5 827.5L872.0 826.0L872.5 827.8L873.0 827.2L873.5 827.9L874.0 829.9L874.5 827.4L875.0 830.6L875.5 828.8L876.0 827.3L876.5 828.4L877.0 828.7L877.5 828.9L878.0 826.9L878.5 827.3L879.0 827.5L879.5 826.7L880.0 829.7L880.5 828.6L881.0 827.6L881.5 826.5L882.0 828.3L882.5 828.7L883.0 826.3L883.5 826.2L884.0 827.3L884.5 824.9L885.0 825.3L885.5 824.9L886.0 824.0L886.5 825.8L887.0 823.1L887.5 820.4L888.0 820.6L888.5 820.7L889.0 820.2L889.5 816.8L890.0 816.3L890.5 815.9L891.0 815.1L891.5 814.5L892.0 812.5L892.5 803.5L893.0 779.2L893.5 740.0L894.0 677.9L894.5 601.2L895.0 517.3L895.5 439.7L896.0 384.4L896.1 375.2L896.5 350.1L897.0 337.1L897.1 331.5L897.5 331.6L897.6 333.5L898.0 334.0L898.1 333.4L898.5 344.5L899.0 369.6L899.1 377.9L899.5 418.2L900.0 484.6L900.5 568.3L901.0 651.9L901.5 718.3L902.0 768.1L902.5 797.0L903.0 807.5L903.5 816.0L904.0 814.8L904.5 816.2L905.0 821.8L905.5 821.8L906.0 820.2L906.5 821.9L907.0 824.0L907.5 823.3L908.0 826.1L908.5 825.3L909.0 826.8L909.5 825.1L910.0 828.6L910.5 829.9L911.0 830.3L911.5 828.6L912.0 827.5L912.5 828.3L913.0 828.5L913.5 827.7L914.0 829.8L914.5 829.6L915.0 829.5L915.5 833.9L916.0 827.3L916.5 829.5L917.0 829.4L917.5 832.6L918.0 833.3L918.5 830.5L919.0 829.9L919.5 832.3L920.0 831.1L920.5 833.0L921.0 829.5L921.5 830.3L922.0 830.0L922.5 831.1L923.0 827.8L923.5 828.6L924.0 832.0L924.5 828.6L925.0 833.4L925.5 831.0L926.0 829.4L926.5 828.7L927.0 828.4L927.5 830.5L928.0 831.3L928.5 829.9L929.0 831.4L929.5 827.7L930.0 830.5L930.5 828.3L931.0 828.3L931.5 829.4L932.0 830.8L932.5 828.2L933.0 828.7L933.5 827.4L934.0 827.9L934.5 829.1L935.0 826.5L935.5 827.5L936.0 828.0L936.5 827.8L937.0 827.9L937.5 829.1L938.0 828.6L938.5 828.0L939.0 829.4L939.5 829.0L940.0 829.5L940.5 829.1L941.0 829.0L941.5 833.3L942.0 831.9L942.5 830.6L943.0 830.3L943.5 832.3L944.0 828.8L944.5 830.3L945.0 830.8L945.5 831.4L946.0 831.3L946.5 831.8L947.0 830.9L947.5 833.2L948.0 832.9L948.5 833.3L949.0 833.1L949.5 831.8L950.0 832.4L950.5 831.6L951.0 835.0L951.5 832.9L952.0 832.7L952.5 835.8L953.0 833.4L953.5 831.7L954.0 831.4L954.5 832.0L955.0 833.2L955.5 832.4L956.0 832.1L956.5 833.0L957.0 832.2L957.5 832.6L958.0 833.6L958.5 834.3L959.0 833.1L959.5 833.9L960.0 834.1L960.5 832.1L961.0 832.3L961.5 833.0L962.0 836.3L962.5 830.0L963.0 832.5L963.5 835.3L964.0 832.7L964.5 830.8L965.0 832.2L965.5 827.4L966.0 827.3L966.5 826.1L966.6 821.0L967.0 817.7L967.5 816.7L967.6 814.8L968.0 815.4L968.1 813.5L968.5 812.9L968.6 814.8L969.0 816.4L969.5 821.6L969.6 822.3L970.0 828.2L970.5 829.7L971.0 832.3L971.5 832.5L972.0 832.2L972.5 833.9L973.0 834.1L973.5 834.3L974.0 832.5L974.5 831.2L975.0 835.5L975.5 834.3L976.0 835.1L976.5 832.1L977.0 833.3L977.5 832.6L978.0 832.7L978.5 832.0L979.0 832.8L979.5 832.1L980.0 830.9L980.5 830.9L981.0 832.1L981.5 832.4L982.0 831.9L982.5 832.2L983.0 830.8L983.5 831.3L984.0 831.6L984.5 831.7L985.0 831.3L985.5 829.9L986.0 832.6L986.5 832.5L987.0 834.4L987.5 833.3L988.0 831.3L988.5 831.6L989.0 832.8L989.5 831.0L990.0 831.0L990.5 832.2L991.0 831.9L991.5 830.7L992.0 828.9L992.5 831.2L993.0 829.1L993.5 830.5L994.0 830.3L994.5 829.1L995.0 828.2L995.5 827.8L996.0 828.2L996.5 831.6L997.0 827.3L997.5 830.5L998.0 826.8L998.5 829.3L999.0 828.9L999.5 826.6L1000.0 826.4L1000.5 827.7L1001.0 828.9L1001.5 828.3L1002.0 827.0L1002.5 829.0L1003.0 828.6L1003.5 829.2L1004.0 828.1L1004.5 826.9L1005.0 825.9L1005.5 825.7L1006.0 828.5L1006.5 824.5L1007.0 825.4L1007.5 824.5L1008.0 825.7L1008.5 824.1L1009.0 822.0L1009.5 825.4L1010.0 822.3L1010.5 821.9L1011.0 821.8L1011.5 823.9L1012.0 821.8L1012.5 819.3L1013.0 823.3L1013.5 819.2L1014.0 819.4L1014.5 818.0L1015.0 817.8L1015.5 820.1L1016.0 814.8L1016.5 815.9L1017.0 815.0L1017.5 813.6L1018.0 814.6L1018.5 811.1L1019.0 811.2L1019.5 809.5L1020.0 806.3L1020.5 807.8L1021.0 805.5L1021.5 803.7L1022.0 803.1L1022.5 801.7L1023.0 799.9L1023.5 797.9L1024.0 796.0L1024.5 795.0L1025.0 788.4L1025.5 789.1L1026.0 785.9L1026.5 782.2L1027.0 779.5L1027.5 777.0L1028.0 773.3L1028.5 768.6L1029.0 763.2L1029.5 759.9L1030.0 755.2L1030.5 749.0L1031.0 744.1L1031.5 737.9L1032.0 730.8L1032.5 723.2L1033.0 716.2L1033.5 708.8L1034.0 697.7L1034.5 690.5L1035.0 682.2L1035.5 673.6L1036.0 660.7L1036.5 654.0L1037.0 643.7L1037.5 634.9L1038.0 627.3L1038.5 622.3L1038.7 618.7L1039.0 617.2L1039.5 612.5L1039.7 612.9L1040.0 613.5L1040.2 613.9L1040.5 614.0L1040.7 611.6L1041.0 617.2L1041.5 617.4L1041.7 621.9L1042.0 623.1L1042.5 632.3L1043.0 637.6L1043.5 647.1L1044.0 656.2L1044.5 667.0L1045.0 672.9L1045.5 686.2L1046.0 693.8L1046.5 703.0L1047.0 712.2L1047.5 716.7L1048.0 725.6L1048.5 734.2L1049.0 739.7L1049.5 744.5L1050.0 751.5L1050.5 755.9L1051.0 757.9L1051.5 763.8L1052.0 767.1L1052.5 772.8L1053.0 773.5L1053.5 779.6L1054.0 783.8L1054.5 786.5L1055.0 788.5L1055.5 791.6L1056.0 794.3L1056.5 796.7L1057.0 794.6L1057.5 800.3L1058.0 801.2L1058.5 802.6L1059.0 802.6L1059.5 803.0L1060.0 810.3L1060.5 807.6L1061.0 810.8L1061.5 811.0L1062.0 813.5L1062.5 813.6L1063.0 813.6L1063.5 813.0L1064.0 814.4L1064.5 815.0L1065.0 815.9L1065.5 815.2L1066.0 818.6L1066.5 817.7L1067.0 821.8L1067.5 820.4L1068.0 821.5L1068.5 820.2L1069.0 822.2L1069.5 820.7L1070.0 822.2L1070.5 822.7L1071.0 824.9L1071.5 824.8L1072.0 823.1L1072.5 826.1L1073.0 825.4L1073.5 825.9L1074.0 824.1L1074.5 830.1L1075.0 826.4L1075.5 828.8L1076.0 826.3L1076.5 827.3L1077.0 827.9L1077.5 829.9L1078.0 830.8L1078.5 832.0L1079.0 829.5L1079.5 829.7L1080.0 830.4L1080.5 830.6L1081.0 828.5L1081.5 829.3L1082.0 829.1L1082.5 828.7L1083.0 831.6L1083.5 829.7L1084.0 833.9L1084.5 829.5L1085.0 829.3L1085.5 831.4L1086.0 831.5L1086.5 829.5L1087.0 830.8L1087.5 832.9L1088.0 831.8L1088.5 833.0L1089.0 831.6L1089.5 833.9L1090.0 830.4L1090.5 832.0L1091.0 832.4L1091.5 829.6L1092.0 832.0L1092.5 829.2L1093.0 830.4L1093.5 827.2L1094.0 825.4L1094.5 822.3L1095.0 817.5L1095.5 808.8L1096.0 800.6L1096.5 794.4L1097.0 789.0L1097.5 794.0L1098.0 801.2L1098.5 809.5L1099.0 817.1L1099.5 824.0L1100.0 830.2L1100.5 829.4L1101.0 830.5L1101.5 833.7L1102.0 832.3L1102.5 833.6L1103.0 834.4L1103.5 832.8L1104.0 833.1L1104.5 832.3L1105.0 833.1L1105.5 833.5L1106.0 834.6L1106.5 834.4L1107.0 835.4L1107.5 833.6L1108.0 833.4L1108.5 833.9L1109.0 833.6L1109.5 834.8L1110.0 834.7L1110.5 835.2L1111.0 834.4L1111.5 832.6L1112.0 834.8L1112.5 835.7L1113.0 832.0L1113.5 833.2L1114.0 833.3L1114.5 833.4L1115.0 831.4L1115.5 833.4L1116.0 836.6L1116.5 836.2L1117.0 834.1L1117.5 833.6L1118.0 833.9L1118.5 833.9L1119.0 834.0L1119.5 835.8L1120.0 833.6L1120.5 834.4L1121.0 836.5L1121.5 836.7L1122.0 835.0L1122.5 834.9L1123.0 833.3L1123.5 835.4L1124.0 836.6L1124.5 834.4L1125.0 837.0L1125.5 835.9L1126.0 835.0L1126.5 837.0L1127.0 834.6L1127.5 836.6L1128.0 838.3L1128.5 834.7L1129.0 834.7L1129.5 833.8L1130.0 837.2L1130.5 837.9L1131.0 836.9L1131.5 837.0L1132.0 835.6L1132.5 836.2L1133.0 837.3L1133.5 837.1L1134.0 837.1L1134.5 837.0L1135.0 833.6L1135.5 835.5L1136.0 837.3L1136.5 833.6L1137.0 835.5L1137.5 836.7L1138.0 835.4L1138.5 836.8L1139.0 833.2L1139.5 835.1L1140.0 837.4L1140.5 831.3L1141.0 835.6L1141.5 833.9L1142.0 835.2L1142.5 832.7L1143.0 834.2L1143.5 833.7L1144.0 832.9L1144.5 831.7L1145.0 833.9L1145.5 833.7L1146.0 833.3L1146.5 830.1L1147.0 831.2L1147.5 833.1L1148.0 832.7L1148.5 833.1L1149.0 832.0L1149.5 833.7L1150.0 830.9L1150.5 834.4L1151.0 830.6L1151.5 831.6L1152.0 833.6L1152.5 831.7L1153.0 832.8L1153.5 832.4L1154.0 832.2L1154.5 830.6L1155.0 829.8L1155.5 831.7L1156.0 831.0L1156.5 830.5L1157.0 831.4L1157.5 830.5L1158.0 827.5L1158.5 829.9L1159.0 827.5L1159.5 828.8L1160.0 828.7L1160.5 828.7L1161.0 830.6L1161.5 826.3L1162.0 824.7L1162.5 826.3L1163.0 825.8L1163.5 822.8L1164.0 825.5L1164.5 823.4L1165.0 824.1L1165.5 824.4L1166.0 822.3L1166.5 821.7L1167.0 819.9L1167.5 819.7L1168.0 817.9L1168.5 815.6L1169.0 813.6L1169.5 812.4L1170.0 812.4L1170.5 808.6L1171.0 807.1L1171.5 804.2L1172.0 803.6L1172.5 802.0L1173.0 799.8L1173.5 795.3L1174.0 791.7L1174.5 787.1L1175.0 783.5L1175.5 777.1L1176.0 771.1L1176.5 763.4L1177.0 758.1L1177.5 747.4L1178.0 738.1L1178.5 728.0L1179.0 715.6L1179.5 706.2L1180.0 691.6L1180.5 677.2L1181.0 665.0L1181.5 652.5L1181.6 652.2L1182.0 643.0L1182.5 635.5L1182.6 634.4L1183.0 633.2L1183.1 631.9L1183.5 635.5L1183.6 634.2L1184.0 640.0L1184.5 649.1L1184.6 649.6L1185.0 661.5L1185.5 670.5L1186.0 686.7L1186.5 700.8L1187.0 712.0L1187.5 726.8L1188.0 735.3L1188.5 744.0L1189.0 754.1L1189.5 762.0L1190.0 768.2L1190.5 774.6L1191.0 781.1L1191.5 782.6L1192.0 791.7L1192.5 793.1L1193.0 797.1L1193.5 798.7L1194.0 802.3L1194.5 807.2L1195.0 809.7L1195.5 808.8L1196.0 811.9L1196.5 814.8L1197.0 813.4L1197.5 815.7L1198.0 817.9L1198.5 819.0L1199.0 818.6L1199.5 821.2L1200.0 821.1L1200.5 820.6L1201.0 825.2L1201.5 822.5L1202.0 827.3L1202.5 825.9L1203.0 828.0L1203.5 826.7L1204.0 828.3L1204.5 826.7L1205.0 827.1L1205.5 825.0L1206.0 827.3L1206.5 827.4L1207.0 827.9L1207.5 826.4L1208.0 825.0L1208.5 827.8L1209.0 828.5L1209.5 828.5L1210.0 828.6L1210.5 832.5L1211.0 831.9L1211.5 832.8L1212.0 833.1L1212.5 829.7L1213.0 832.4L1213.5 832.5L1214.0 833.0L1214.5 828.6L1215.0 831.5L1215.5 830.2L1216.0 833.7L1216.5 833.7L1217.0 832.6L1217.5 833.8L1218.0 830.4L1218.5 831.5L1219.0 832.2L1219.5 831.5L1220.0 833.5L1220.5 831.7L1221.0 832.1L1221.5 831.9L1222.0 832.0L1222.5 831.6L1223.0 829.2L1223.5 831.6L1224.0 828.4L1224.5 830.2L1225.0 829.9L1225.5 829.9L1226.0 831.5L1226.5 832.3L1227.0 833.9L1227.5 830.6L1228.0 829.7L1228.5 830.1L1229.0 828.3L1229.5 828.8L1230.0 828.5L1230.5 826.9L1231.0 829.4L1231.5 829.2L1232.0 827.9L1232.5 828.4L1233.0 825.9L1233.5 827.2L1234.0 825.8L1234.5 825.3L1235.0 824.5L1235.5 821.9L1236.0 822.4L1236.5 822.5L1237.0 821.5L1237.5 817.8L1238.0 817.4L1238.5 816.2L1239.0 813.7L1239.5 813.5L1240.0 809.2L1240.5 807.3L1241.0 804.5L1241.5 803.1L1242.0 797.8L1242.5 793.5L1243.0 789.1L1243.5 784.0L1244.0 776.4L1244.5 771.7L1245.0 761.1L1245.5 750.2L1246.0 738.7L1246.5 726.1L1247.0 707.6L1247.5 692.1L1248.0 674.1L1248.5 653.2L1249.0 635.1L1249.3 620.1L1249.5 615.6L1250.0 601.2L1250.3 597.1L1250.5 595.8L1250.8 592.1L1251.0 591.5L1251.3 596.6L1251.5 599.1L1252.0 613.5L1252.3 625.2L1252.5 631.0L1253.0 650.7L1253.5 669.5L1254.0 688.8L1254.5 707.2L1255.0 721.4L1255.5 737.1L1256.0 748.5L1256.5 759.0L1257.0 768.5L1257.5 777.2L1258.0 784.1L1258.5 790.1L1259.0 796.5L1259.5 800.4L1260.0 803.7L1260.5 805.5L1261.0 808.1L1261.5 811.0L1262.0 811.6L1262.5 817.0L1263.0 818.8L1263.5 818.7L1264.0 821.5L1264.5 822.5L1265.0 824.5L1265.5 821.9L1266.0 824.5L1266.5 827.0L1267.0 825.3L1267.5 825.5L1268.0 827.0L1268.5 828.1L1269.0 829.1L1269.5 827.4L1270.0 829.8L1270.5 831.2L1271.0 830.8L1271.5 831.2L1272.0 831.3L1272.5 834.5L1273.0 831.6L1273.5 835.0L1274.0 832.4L1274.5 835.1L1275.0 832.7L1275.5 834.9L1276.0 836.1L1276.5 833.6L1277.0 832.7L1277.5 835.0L1278.0 834.9L1278.5 835.6L1279.0 837.1L1279.5 833.9L1280.0 835.4L1280.5 835.0L1281.0 836.5L1281.5 836.8L1282.0 837.8L1282.5 835.0L1283.0 836.5L1283.5 836.6L1284.0 836.3L1284.5 835.4L1285.0 837.3L1285.5 838.2L1286.0 836.0L1286.5 836.6L1287.0 838.3L1287.5 837.6L1288.0 835.6L1288.5 835.7L1289.0 835.8L1289.5 838.5L1290.0 839.3L1290.5 835.4L1291.0 836.8L1291.5 836.6L1292.0 835.9L1292.5 835.0L1293.0 836.2L1293.5 837.2L1294.0 837.5L1294.5 836.3L1295.0 839.9L1295.5 837.0L1296.0 835.5L1296.5 839.4L1297.0 838.2L1297.5 840.6L1298.0 837.7L1298.5 838.3L1299.0 838.0L1299.5 835.6L1300.0 838.7L1300.5 837.3L1301.0 838.0L1301.5 837.7L1302.0 836.8L1302.5 838.0L1303.0 838.4L1303.5 841.5L1304.0 837.9L1304.5 839.5L1305.0 839.2L1305.5 838.4L1306.0 838.1L1306.5 839.2L1307.0 839.2L1307.5 838.3L1308.0 837.8L1308.5 837.1L1309.0 838.7L1309.5 839.1L1310.0 836.7L1310.5 836.2L1311.0 840.1L1311.5 839.5L1312.0 836.6L1312.5 838.0L1313.0 836.1L1313.5 837.3L1314.0 838.6L1314.5 838.1L1315.0 837.1L1315.5 839.1L1316.0 835.9L1316.5 838.0L1317.0 836.8L1317.5 837.1L1318.0 837.0L1318.5 838.5L1319.0 837.1L1319.5 835.1L1320.0 835.1L1320.5 836.8L1321.0 838.2L1321.5 835.7L1322.0 836.9L1322.5 834.9L1323.0 836.2L1323.5 837.3L1324.0 836.0L1324.5 835.0L1325.0 836.3L1325.5 836.3L1326.0 835.3L1326.5 836.2L1327.0 835.9L1327.5 836.8L1328.0 833.7L1328.5 835.2L1329.0 836.1L1329.5 834.3L1330.0 835.2L1330.5 833.4L1331.0 835.6L1331.5 834.5L1332.0 832.7L1332.5 833.2L1333.0 834.4L1333.5 835.3L1334.0 833.0L1334.5 832.8L1335.0 832.4L1335.5 830.8L1336.0 831.7L1336.5 829.3L1337.0 833.8L1337.5 830.2L1338.0 830.9L1338.5 830.6L1339.0 828.8L1339.5 829.4L1340.0 828.5L1340.5 826.7L1341.0 826.1L1341.5 826.7L1342.0 827.2L1342.5 825.7L1343.0 826.5L1343.5 824.3L1344.0 822.2L1344.5 823.6L1345.0 822.5L1345.5 820.2L1346.0 818.1L1346.5 819.2L1347.0 818.7L1347.5 816.9L1348.0 814.3L1348.5 813.8L1349.0 812.6L1349.5 812.5L1350.0 811.5L1350.5 807.9L1351.0 805.3L1351.5 803.9L1352.0 804.2L1352.5 802.0L1353.0 800.1L1353.5 794.7L1354.0 795.0L1354.5 794.7L1355.0 791.3L1355.5 790.8L1356.0 790.5L1356.3 788.9L1356.5 790.9L1357.0 790.3L1357.3 790.0L1357.5 789.1L1357.8 788.2L1358.0 792.4L1358.3 788.1L1358.5 786.4L1359.0 790.4L1359.3 790.1L1359.5 786.7L1360.0 792.4L1360.5 792.0L1361.0 794.7L1361.5 794.4L1362.0 797.3L1362.5 798.4L1363.0 800.4L1363.5 800.3L1364.0 803.9L1364.5 806.8L1365.0 807.2L1365.5 808.2L1366.0 810.5L1366.5 812.5L1367.0 811.6L1367.5 814.3L1368.0 817.2L1368.5 816.0L1369.0 816.5L1369.5 820.0L1370.0 820.6L1370.5 822.3L1371.0 820.4L1371.5 823.8L1372.0 822.1L1372.5 822.7L1373.0 825.6L1373.5 824.0L1374.0 826.0L1374.5 824.4L1375.0 827.5L1375.5 827.2L1376.0 824.5L1376.5 826.0L1377.0 826.2L1377.5 826.0L1378.0 827.9L1378.5 826.2L1379.0 827.2L1379.5 827.5L1380.0 824.7L1380.5 827.3L1381.0 829.6L1381.5 829.2L1382.0 831.5L1382.5 828.2L1383.0 829.1L1383.5 828.7L1384.0 830.7L1384.5 830.8L1385.0 832.2L1385.5 831.6L1386.0 833.3L1386.5 831.4L1387.0 832.5L1387.5 832.9L1388.0 834.0L1388.5 833.2L1389.0 832.4L1389.5 831.1L1390.0 832.8L1390.5 835.0L1391.0 836.1L1391.5 834.0L1392.0 830.6L1392.5 834.3L1393.0 834.4L1393.5 832.8L1394.0 834.6L1394.5 831.4L1395.0 830.7L1395.5 828.4L1396.0 827.0L1396.5 828.3L1397.0 831.3L1397.5 828.5L1398.0 835.9L1398.5 832.8L1399.0 833.0L1399.5 834.6L1400.0 835.0L1400.5 836.8L1401.0 835.3L1401.5 836.8L1402.0 835.1L1402.5 835.5L1403.0 834.8L1403.5 835.2L1404.0 834.5L1404.5 832.4L1405.0 834.4L1405.5 833.0L1406.0 834.6L1406.5 832.2L1407.0 833.3L1407.5 833.4L1408.0 832.1L1408.5 833.1L1409.0 833.1L1409.5 833.0L1410.0 832.0L1410.5 829.7L1411.0 831.3L1411.5 832.5L1412.0 831.3L1412.5 830.5L1413.0 828.5L1413.5 827.9L1414.0 828.8L1414.5 826.9L1415.0 827.6L1415.5 824.9L1416.0 826.0L1416.5 826.8L1417.0 823.3L1417.5 823.5L1418.0 817.7L1418.5 819.8L1419.0 817.1L1419.5 815.7L1420.0 814.7L1420.5 812.8L1421.0 812.5L1421.5 812.5L1422.0 808.2L1422.5 807.7L1423.0 804.1L1423.5 801.6L1424.0 799.6L1424.5 798.0L1425.0 796.7L1425.5 794.9L1426.0 794.7L1426.5 795.2L1427.0 791.1L1427.5 793.9L1428.0 793.8L1428.5 795.7L1429.0 797.0L1429.5 796.1L1430.0 800.0L1430.5 802.3L1431.0 805.1L1431.5 805.8L1432.0 807.1L1432.5 811.7L1433.0 813.5L1433.5 813.1L1434.0 815.3L1434.5 815.8L1435.0 819.0L1435.5 819.6L1436.0 820.2L1436.5 820.4L1437.0 820.6L1437.5 824.9L1438.0 822.8L1438.5 828.1L1439.0 827.4L1439.5 829.3L1440.0 829.7L1440.5 831.1L1441.0 830.3L1441.5 830.5L1442.0 831.2L1442.5 832.7L1443.0 833.1L1443.5 832.2L1444.0 833.2L1444.5 832.4L1445.0 834.9L1445.5 834.9L1446.0 834.7L1446.5 837.0L1447.0 834.4L1447.5 836.2L1448.0 835.0L1448.5 837.7L1449.0 836.5L1449.5 834.3L1450.0 837.0L1450.5 840.1L1451.0 836.2L1451.5 836.2L1452.0 837.3L1452.5 837.7L1453.0 837.7L1453.5 839.6L1454.0 837.4L1454.5 841.7L1455.0 838.7L1455.5 839.1L1456.0 842.2L1456.5 839.9L1457.0 838.8L1457.5 838.5L1458.0 838.8L1458.5 840.4L1459.0 837.3L1459.5 838.8L1460.0 838.1L1460.5 839.1L1461.0 841.3L1461.5 841.0L1462.0 838.9L1462.5 840.2L1463.0 841.1L1463.5 839.0L1464.0 838.5L1464.5 839.8L1465.0 841.1L1465.5 838.7L1466.0 839.2L1466.5 840.3L1467.0 838.2L1467.5 840.6L1468.0 840.1L1468.5 841.0L1469.0 840.1L1469.5 840.9L1470.0 839.1L1470.5 841.9L1471.0 839.0L1471.5 841.9L1472.0 841.7L1472.5 837.5L1473.0 841.2L1473.5 837.4L1474.0 833.9L1474.5 833.4L1475.0 827.3L1475.1 826.8L1475.5 825.3L1476.0 819.5L1476.1 820.0L1476.5 821.9L1476.6 820.5L1477.0 818.6L1477.1 820.2L1477.5 824.3L1478.0 828.1L1478.1 827.3L1478.5 828.2L1479.0 833.0L1479.5 836.5L1480.0 839.3L1480.5 839.8L1481.0 841.5L1481.5 840.0L1482.0 840.4L1482.5 841.0L1483.0 841.4L1483.5 841.0L1484.0 840.0L1484.5 842.2L1485.0 841.4L1485.5 840.6L1486.0 838.6L1486.5 841.6L1487.0 841.3L1487.5 840.8L1488.0 839.9L1488.5 838.7L1489.0 839.2L1489.5 840.8L1490.0 841.0L1490.5 840.4L1491.0 842.7L1491.5 844.2L1492.0 842.0L1492.5 843.8L1493.0 842.3L1493.5 842.4L1494.0 841.0L1494.5 840.8L1495.0 839.6L1495.5 840.7L1496.0 840.0L1496.5 841.3L1497.0 843.8L1497.5 841.2L1498.0 842.1L1498.5 839.6L1499.0 839.9L1499.5 842.5L1500.0 842.1L1500.5 842.6L1501.0 842.3L1501.5 842.5L1502.0 840.7L1502.5 843.8L1503.0 839.8L1503.5 839.9L1504.0 842.6L1504.5 840.3L1505.0 840.5L1505.5 840.3L1506.0 842.6L1506.5 841.3L1507.0 840.9L1507.5 842.5L1508.0 839.3L1508.5 840.9L1509.0 843.3L1509.5 843.7L1510.0 841.6L1510.5 842.2L1511.0 841.7L1511.5 841.2L1512.0 842.0L1512.5 842.5L1513.0 841.9L1513.5 842.5L1514.0 843.1L1514.5 841.8L1515.0 842.6L1515.5 842.4L1516.0 841.8L1516.5 843.9L1517.0 844.3L1517.5 843.7L1518.0 843.5L1518.5 838.8L1519.0 842.2L1519.5 845.5L1520.0 841.0L1520.5 840.5L1521.0 841.3L1521.5 842.8L1522.0 843.0L1522.5 840.7L1523.0 842.0L1523.5 842.4L1524.0 839.6L1524.5 844.0L1525.0 840.4L1525.5 844.6L1526.0 841.7L1526.5 842.4L1527.0 842.4L1527.5 843.0L1528.0 842.5L1528.5 841.2L1529.0 841.5L1529.5 842.0L1530.0 842.7L1530.5 840.4L1531.0 843.5L1531.5 844.5L1532.0 842.5L1532.5 840.0L1533.0 840.9L1533.5 841.3L1534.0 842.0L1534.5 840.8L1535.0 841.3L1535.5 842.4L1536.0 839.5L1536.5 842.0L1537.0 843.4L1537.5 840.6L1538.0 839.8L1538.5 838.7L1539.0 842.7L1539.5 843.6L1540.0 839.4L1540.5 840.6L1541.0 842.9L1541.5 839.9L1542.0 841.3L1542.5 841.8L1543.0 842.0L1543.5 839.6L1544.0 839.2L1544.5 837.5L1545.0 834.5L1545.5 830.6L1546.0 828.0L1546.5 821.8L1547.0 811.5L1547.3 806.0L1547.5 804.0L1548.0 794.1L1548.3 790.6L1548.5 788.8L1548.8 789.3L1549.0 787.4L1549.3 789.0L1549.5 788.2L1550.0 798.7L1550.3 800.1L1550.5 807.4L1551.0 810.6L1551.5 815.3L1552.0 821.3L1552.5 824.8L1553.0 826.2L1553.5 830.5L1554.0 832.9L1554.5 833.4L1555.0 834.6L1555.5 838.2L1556.0 838.6L1556.5 838.8L1557.0 841.6L1557.5 839.3L1558.0 839.1L1558.5 842.5L1559.0 841.1L1559.5 842.4L1560.0 843.5L1560.5 842.0L1561.0 840.6L1561.5 839.0L1562.0 841.8L1562.5 840.7L1563.0 841.1L1563.5 841.1L1564.0 839.7L1564.5 840.4L1565.0 838.8L1565.5 840.9L1566.0 838.3L1566.5 837.5L1567.0 838.2L1567.5 839.3L1568.0 837.7L1568.5 837.3L1569.0 837.2L1569.5 839.5L1570.0 837.5L1570.5 838.0L1571.0 838.0L1571.5 837.7L1572.0 839.1L1572.5 839.8L1573.0 836.7L1573.5 834.7L1574.0 835.7L1574.5 837.8" fill="none" stroke="#ff00ff" stroke-width="9.6" stroke-linejoin="round" stroke-linecap="round"/>
<path d="M207.0 1062.0L207.5 1061.3L208.0 1062.0L208.5 1060.9L209.0 1058.4L209.5 1063.8L210.0 1061.6L210.5 1063.6L211.0 1060.8L211.5 1062.0L212.0 1062.4L212.5 1064.5L213.0 1063.4L213.5 1062.5L214.0 1061.5L214.5 1061.7L215.0 1059.9L215.5 1063.0L216.0 1063.1L216.5 1066.0L217.0 1061.4L217.5 1064.9L218.0 1063.2L218.5 1064.0L219.0 1064.0L219.5 1063.1L220.0 1063.6L220.5 1063.5L221.0 1065.1L221.5 1063.2L222.0 1063.8L222.5 1064.8L223.0 1063.7L223.5 1065.1L224.0 1065.1L224.5 1062.8L225.0 1064.4L225.5 1066.7L226.0 1065.9L226.5 1066.2L227.0 1066.3L227.5 1067.7L228.0 1066.2L228.5 1065.2L229.0 1066.1L229.5 1067.3L230.0 1068.9L230.5 1068.2L231.0 1066.0L231.5 1066.8L232.0 1065.6L232.5 1066.5L233.0 1068.7L233.5 1069.7L234.0 1068.6L234.5 1072.7L235.0 1071.4L235.5 1068.0L236.0 1070.7L236.5 1068.1L237.0 1069.8L237.5 1068.2L238.0 1071.8L238.5 1069.7L239.0 1070.1L239.5 1071.5L240.0 1069.3L240.5 1071.0L241.0 1072.1L241.5 1071.2L242.0 1073.0L242.5 1070.1L243.0 1070.9L243.5 1070.6L244.0 1073.6L244.5 1072.0L245.0 1071.8L245.5 1074.0L246.0 1071.3L246.5 1070.0L247.0 1071.8L247.5 1073.7L248.0 1077.8L248.5 1074.6L249.0 1071.4L249.5 1074.9L250.0 1075.8L250.5 1072.1L251.0 1073.3L251.5 1074.7L252.0 1073.8L252.5 1074.7L253.0 1073.3L253.5 1073.5L254.0 1074.2L254.5 1074.3L255.0 1074.4L255.5 1072.7L256.0 1077.5L256.5 1074.7L257.0 1074.2L257.5 1070.8L258.0 1073.4L258.5 1074.8L259.0 1074.8L259.5 1075.6L260.0 1075.0L260.5 1073.2L261.0 1073.8L261.5 1074.3L262.0 1073.0L262.5 1074.7L263.0 1072.4L263.5 1072.2L264.0 1072.8L264.5 1073.0L265.0 1076.6L265.5 1074.1L266.0 1073.4L266.5 1076.4L267.0 1074.6L267.5 1074.1L268.0 1077.8L268.5 1075.5L269.0 1074.4L269.5 1076.3L270.0 1073.9L270.5 1076.0L271.0 1076.9L271.5 1074.2L272.0 1077.0L272.5 1076.0L273.0 1075.7L273.5 1077.1L274.0 1075.6L274.5 1076.1L275.0 1074.7L275.5 1077.6L276.0 1078.3L276.5 1077.8L277.0 1074.3L277.5 1078.8L278.0 1074.7L278.5 1076.7L279.0 1075.2L279.5 1075.8L280.0 1077.3L280.5 1076.9L281.0 1078.8L281.5 1077.5L282.0 1077.1L282.5 1079.0L283.0 1077.2L283.5 1078.1L284.0 1076.4L284.5 1076.5L285.0 1078.6L285.5 1077.1L286.0 1075.9L286.5 1076.5L287.0 1073.8L287.5 1076.0L288.0 1074.7L288.5 1076.8L289.0 1076.1L289.5 1077.7L290.0 1078.4L290.5 1077.7L291.0 1079.4L291.5 1078.1L292.0 1080.4L292.5 1076.3L293.0 1079.9L293.5 1079.2L294.0 1080.7L294.5 1080.0L295.0 1080.1L295.5 1083.9L296.0 1078.8L296.5 1082.0L297.0 1084.1L297.5 1082.9L298.0 1080.2L298.5 1080.0L299.0 1083.1L299.5 1079.1L300.0 1079.1L300.5 1083.6L301.0 1080.9L301.5 1081.6L302.0 1082.4L302.5 1081.3L303.0 1081.0L303.5 1082.4L304.0 1078.7L304.5 1081.1L305.0 1081.5L305.5 1081.7L306.0 1080.1L306.5 1080.1L307.0 1081.5L307.5 1078.9L308.0 1081.3L308.5 1079.1L309.0 1078.9L309.5 1077.9L310.0 1080.5L310.5 1082.9L311.0 1080.9L311.5 1083.1L312.0 1081.3L312.5 1081.1L313.0 1078.8L313.5 1081.5L314.0 1081.1L314.5 1079.0L315.0 1083.3L315.5 1080.8L316.0 1082.2L316.5 1079.2L317.0 1079.3L317.5 1078.8L318.0 1078.8L318.5 1080.3L319.0 1080.8L319.5 1081.1L320.0 1078.2L320.5 1078.9L321.0 1079.1L321.5 1077.2L322.0 1076.2L322.5 1075.4L323.0 1075.8L323.5 1071.9L324.0 1070.4L324.5 1069.3L325.0 1067.0L325.5 1062.1L326.0 1055.7L326.5 1047.7L327.0 1040.1L327.5 1026.0L328.0 1017.7L328.5 999.6L329.0 983.9L329.5 969.4L329.6 966.8L330.0 955.2L330.5 944.3L330.6 942.9L331.0 939.8L331.1 940.6L331.5 941.1L331.6 944.8L332.0 950.9L332.5 963.9L332.6 967.9L333.0 980.4L333.5 996.9L334.0 1015.4L334.5 1027.5L335.0 1038.1L335.5 1050.4L336.0 1058.0L336.5 1063.5L337.0 1067.3L337.5 1073.6L338.0 1076.7L338.5 1077.0L339.0 1081.9L339.5 1082.1L340.0 1083.3L340.5 1085.3L341.0 1082.3L341.5 1085.4L342.0 1087.4L342.5 1086.8L343.0 1087.3L343.5 1087.8L344.0 1086.6L344.5 1086.4L345.0 1087.6L345.5 1089.0L346.0 1087.6L346.5 1087.9L347.0 1090.1L347.5 1089.5L348.0 1089.1L348.5 1090.0L349.0 1089.1L349.5 1088.4L350.0 1089.5L350.5 1091.1L351.0 1089.3L351.5 1089.6L352.0 1091.6L352.5 1089.1L353.0 1091.0L353.5 1089.9L354.0 1093.3L354.5 1089.0L355.0 1089.3L355.5 1090.1L356.0 1093.9L356.5 1092.9L357.0 1093.4L357.5 1090.3L358.0 1092.4L358.5 1093.0L359.0 1092.1L359.5 1094.6L360.0 1094.3L360.5 1092.0L361.0 1093.1L361.5 1094.9L362.0 1093.0L362.5 1092.5L363.0 1093.1L363.5 1091.4L364.0 1092.8L364.5 1091.2L365.0 1092.5L365.5 1091.4L366.0 1092.2L366.5 1092.2L367.0 1093.1L367.5 1090.8L368.0 1094.2L368.5 1091.9L369.0 1093.0L369.5 1093.3L370.0 1094.4L370.5 1091.6L371.0 1093.0L371.5 1094.6L372.0 1092.3L372.5 1095.2L373.0 1094.6L373.5 1091.9L374.0 1092.4L374.5 1093.7L375.0 1093.2L375.5 1094.1L376.0 1089.7L376.5 1094.0L377.0 1093.1L377.5 1093.7L378.0 1091.5L378.5 1091.9L379.0 1093.9L379.5 1092.6L380.0 1092.6L380.5 1091.9L381.0 1092.5L381.5 1091.8L382.0 1091.6L382.5 1093.7L383.0 1092.4L383.5 1091.9L384.0 1092.9L384.5 1094.9L385.0 1092.3L385.5 1093.9L386.0 1093.5L386.5 1092.9L387.0 1094.5L387.5 1093.0L388.0 1093.4L388.5 1093.8L389.0 1092.6L389.5 1091.7L390.0 1093.6L390.5 1094.3L391.0 1092.6L391.5 1093.7L392.0 1091.8L392.5 1093.3L393.0 1093.6L393.5 1091.7L394.0 1092.3L394.5 1091.8L395.0 1091.7L395.5 1091.6L396.0 1090.6L396.5 1091.5L397.0 1090.1L397.5 1088.3L398.0 1089.2L398.5 1091.5L399.0 1092.2L399.5 1091.2L400.0 1091.6L400.5 1092.0L401.0 1090.3L401.5 1090.7L402.0 1091.2L402.5 1090.9L403.0 1092.8L403.5 1089.6L404.0 1092.8L404.5 1089.0L405.0 1091.2L405.5 1093.0L406.0 1089.9L406.5 1090.9L407.0 1089.3L407.5 1092.0L408.0 1090.7L408.5 1093.8L409.0 1089.8L409.5 1091.3L410.0 1089.2L410.5 1090.1L411.0 1090.4L411.5 1087.2L412.0 1090.5L412.5 1089.9L413.0 1090.7L413.5 1091.6L414.0 1088.9L414.5 1089.5L415.0 1087.1L415.5 1091.1L416.0 1090.4L416.5 1092.2L417.0 1091.0L417.5 1089.9L418.0 1090.7L418.5 1090.4L419.0 1088.9L419.5 1089.2L420.0 1089.3L420.5 1089.1L421.0 1090.3L421.5 1090.7L422.0 1088.6L422.5 1088.0L423.0 1090.4L423.5 1089.7L424.0 1091.4L424.5 1088.7L425.0 1091.1L425.5 1090.9L426.0 1089.0L426.5 1089.9L427.0 1091.3L427.5 1090.3L428.0 1089.5L428.5 1087.5L429.0 1089.4L429.5 1088.7L430.0 1089.5L430.5 1088.2L431.0 1087.2L431.5 1091.7L432.0 1090.2L432.5 1090.6L433.0 1087.7L433.5 1089.2L434.0 1087.1L434.5 1091.4L435.0 1088.1L435.5 1088.0L436.0 1088.2L436.5 1086.8L437.0 1086.4L437.5 1086.8L438.0 1087.9L438.5 1088.6L439.0 1085.9L439.5 1085.1L440.0 1085.1L440.5 1084.9L441.0 1084.6L441.5 1083.9L442.0 1083.3L442.5 1081.9L443.0 1082.7L443.5 1076.7L444.0 1079.2L444.5 1079.0L445.0 1076.0L445.5 1075.8L446.0 1072.4L446.5 1072.3L447.0 1068.3L447.5 1069.6L448.0 1068.1L448.5 1065.1L449.0 1063.0L449.5 1057.4L450.0 1059.9L450.5 1057.3L451.0 1054.6L451.5 1054.9L452.0 1052.1L452.3 1050.9L452.5 1049.2L453.0 1048.9L453.3 1049.8L453.5 1050.8L453.8 1047.9L454.0 1048.5L454.3 1046.8L454.5 1048.7L455.0 1051.9L455.3 1052.3L455.5 1049.8L456.0 1052.4L456.5 1053.9L457.0 1055.9L457.5 1058.4L458.0 1060.5L458.5 1061.5L459.0 1068.5L459.5 1066.0L460.0 1069.1L460.5 1070.8L461.0 1072.0L461.5 1072.0L462.0 1075.3L462.5 1075.1L463.0 1078.9L463.5 1077.7L464.0 1079.1L464.5 1081.7L465.0 1082.5L465.5 1083.6L466.0 1082.5L466.5 1083.8L467.0 1083.2L467.5 1083.7L468.0 1081.3L468.5 1084.0L469.0 1085.8L469.5 1084.9L470.0 1086.3L470.5 1086.1L471.0 1087.1L471.5 1086.1L472.0 1086.1L472.5 1083.4L473.0 1084.0L473.5 1087.1L474.0 1084.7L474.5 1082.1L475.0 1083.0L475.5 1082.9L476.0 1082.0L476.5 1084.8L477.0 1082.0L477.5 1083.2L478.0 1077.8L478.5 1079.2L479.0 1079.1L479.5 1079.3L480.0 1081.9L480.5 1080.8L481.0 1082.6L481.5 1083.8L482.0 1085.2L482.5 1085.6L483.0 1083.4L483.5 1087.4L484.0 1086.2L484.5 1088.1L485.0 1086.4L485.5 1086.6L486.0 1086.7L486.5 1085.7L487.0 1086.1L487.5 1088.1L488.0 1083.0L488.5 1082.7L489.0 1081.7L489.5 1080.4L490.0 1078.8L490.5 1081.7L491.0 1079.8L491.5 1080.7L492.0 1081.6L492.5 1082.1L493.0 1083.0L493.5 1085.3L494.0 1080.4L494.5 1083.5L495.0 1084.9L495.5 1083.6L496.0 1083.3L496.5 1083.2L497.0 1079.1L497.5 1081.1L498.0 1077.4L498.5 1077.2L499.0 1074.9L499.5 1069.6L500.0 1064.3L500.5 1059.8L501.0 1052.2L501.5 1042.8L502.0 1032.6L502.5 1021.6L503.0 1006.7L503.4 999.3L503.5 995.7L504.0 985.4L504.4 980.4L504.5 979.4L504.9 978.6L505.0 977.9L505.4 980.2L505.5 981.6L506.0 990.5L506.4 998.1L506.5 1004.9L507.0 1012.2L507.5 1023.9L508.0 1033.5L508.5 1047.2L509.0 1057.1L509.5 1063.4L510.0 1063.7L510.5 1071.4L511.0 1076.6L511.5 1080.2L512.0 1082.7L512.5 1082.3L513.0 1081.4L513.5 1086.6L514.0 1087.0L514.5 1086.6L515.0 1089.2L515.5 1086.4L516.0 1089.3L516.5 1087.8L517.0 1084.7L517.5 1086.5L518.0 1088.9L518.5 1088.2L519.0 1087.6L519.5 1090.8L520.0 1090.8L520.5 1090.9L521.0 1088.4L521.5 1087.7L522.0 1092.0L522.5 1090.4L523.0 1089.2L523.5 1089.5L524.0 1089.5L524.5 1092.4L525.0 1089.2L525.5 1090.2L526.0 1091.2L526.5 1091.1L527.0 1090.7L527.5 1089.3L528.0 1088.7L528.5 1092.7L529.0 1089.8L529.5 1090.0L530.0 1088.9L530.5 1091.3L531.0 1087.5L531.5 1089.1L532.0 1091.1L532.5 1090.6L533.0 1089.8L533.5 1091.4L534.0 1090.6L534.5 1092.4L535.0 1090.4L535.5 1092.3L536.0 1093.5L536.5 1089.6L537.0 1091.0L537.5 1091.7L538.0 1088.8L538.5 1089.8L539.0 1090.2L539.5 1092.1L540.0 1091.2L540.5 1089.5L541.0 1090.6L541.5 1089.1L542.0 1088.2L542.5 1089.7L543.0 1088.5L543.5 1087.5L544.0 1086.6L544.5 1085.7L545.0 1081.4L545.5 1081.0L546.0 1079.2L546.5 1077.9L547.0 1077.4L547.5 1075.0L548.0 1072.5L548.1 1073.1L548.5 1072.7L549.0 1072.3L549.1 1072.3L549.5 1076.6L549.6 1072.5L550.0 1071.4L550.1 1073.2L550.5 1074.1L551.0 1075.8L551.1 1077.3L551.5 1074.3L552.0 1078.8L552.5 1080.1L553.0 1081.4L553.5 1084.0L554.0 1085.1L554.5 1085.2L555.0 1088.3L555.5 1089.4L556.0 1089.0L556.5 1090.7L557.0 1090.4L557.5 1090.4L558.0 1092.3L558.5 1094.0L559.0 1094.0L559.5 1092.6L560.0 1094.2L560.5 1094.9L561.0 1095.6L561.5 1093.6L562.0 1093.1L562.5 1093.8L563.0 1094.2L563.5 1092.9L564.0 1094.3L564.5 1095.6L565.0 1093.7L565.5 1095.1L566.0 1092.4L566.5 1094.8L567.0 1094.0L567.5 1094.1L568.0 1095.1L568.5 1094.8L569.0 1094.4L569.5 1093.2L570.0 1093.8L570.5 1095.8L571.0 1094.6L571.5 1095.8L572.0 1093.2L572.5 1093.8L573.0 1094.4L573.5 1095.5L574.0 1092.2L574.5 1095.9L575.0 1095.3L575.5 1094.4L576.0 1095.4L576.5 1095.2L577.0 1095.1L577.5 1092.2L578.0 1093.5L578.5 1093.5L579.0 1092.4L579.5 1096.0L580.0 1092.4L580.5 1094.2L581.0 1096.4L581.5 1093.6L582.0 1095.0L582.5 1095.2L583.0 1093.0L583.5 1094.0L584.0 1095.1L584.5 1094.5L585.0 1093.4L585.5 1092.8L586.0 1091.6L586.5 1097.4L587.0 1094.4L587.5 1096.0L588.0 1093.3L588.5 1093.4L589.0 1093.3L589.5 1094.3L590.0 1092.6L590.5 1092.6L591.0 1094.3L591.5 1093.5L592.0 1095.6L592.5 1095.0L593.0 1094.0L593.5 1090.8L594.0 1091.5L594.5 1093.6L595.0 1093.3L595.5 1090.7L596.0 1093.4L596.5 1088.5L597.0 1087.9L597.5 1082.9L598.0 1079.4L598.5 1072.7L599.0 1068.3L599.5 1059.5L600.0 1056.1L600.5 1053.3L601.0 1056.9L601.5 1060.8L602.0 1066.9L602.5 1073.8L603.0 1077.4L603.5 1083.3L604.0 1082.9L604.5 1084.9L605.0 1084.5L605.5 1086.7L606.0 1086.1L606.5 1084.0L607.0 1081.3L607.5 1080.9L608.0 1079.8L608.5 1078.5L608.8 1075.9L609.0 1075.8L609.5 1074.4L609.8 1073.3L610.0 1072.8L610.3 1073.1L610.5 1073.4L610.8 1072.0L611.0 1073.7L611.5 1075.5L611.8 1076.8L612.0 1079.2L612.5 1077.8L613.0 1079.5L613.5 1081.2L614.0 1082.0L614.5 1085.8L615.0 1086.1L615.5 1087.1L616.0 1088.6L616.5 1088.4L617.0 1093.4L617.5 1092.9L618.0 1092.0L618.5 1091.2L619.0 1092.6L619.5 1092.1L620.0 1093.2L620.5 1089.1L621.0 1092.1L621.5 1092.0L622.0 1092.2L622.5 1093.8L623.0 1094.8L623.5 1092.2L624.0 1092.8L624.5 1095.1L625.0 1093.6L625.5 1090.1L626.0 1094.2L626.5 1091.3L627.0 1095.1L627.5 1094.0L628.0 1093.6L628.5 1092.7L629.0 1093.1L629.5 1092.6L630.0 1092.9L630.5 1093.8L631.0 1093.5L631.5 1092.9L632.0 1092.3L632.5 1089.3L633.0 1091.6L633.5 1092.2L634.0 1093.6L634.5 1093.7L635.0 1092.9L635.5 1093.2L636.0 1095.1L636.5 1092.8L637.0 1092.9L637.5 1094.1L638.0 1092.9L638.5 1093.3L639.0 1093.1L639.5 1094.3L640.0 1092.6L640.5 1091.2L641.0 1093.7L641.5 1094.2L642.0 1096.6L642.5 1093.6L643.0 1092.7L643.5 1092.5L644.0 1092.6L644.5 1092.3L645.0 1092.7L645.5 1094.2L646.0 1093.8L646.5 1094.4L647.0 1093.6L647.5 1095.2L648.0 1093.2L648.5 1093.4L649.0 1093.5L649.5 1096.9L650.0 1094.5L650.5 1095.0L651.0 1093.6L651.5 1096.0L652.0 1093.8L652.5 1094.1L653.0 1093.3L653.5 1093.9L654.0 1094.8L654.5 1096.9L655.0 1096.6L655.5 1094.7L656.0 1095.1L656.5 1094.4L657.0 1095.3L657.5 1096.2L658.0 1095.2L658.5 1094.3L659.0 1092.7L659.5 1093.8L660.0 1092.5L660.5 1092.8L661.0 1092.5L661.5 1089.7L662.0 1089.8L662.5 1085.8L663.0 1088.1L663.5 1089.4L664.0 1089.1L664.5 1088.4L665.0 1090.7L665.5 1091.1L666.0 1090.2L666.5 1094.1L667.0 1093.6L667.5 1093.6L668.0 1095.1L668.5 1094.9L669.0 1094.7L669.5 1094.1L670.0 1094.6L670.5 1093.7L671.0 1094.0L671.5 1093.9L672.0 1092.5L672.5 1093.0L673.0 1092.1L673.5 1091.4L674.0 1089.8L674.5 1086.1L675.0 1085.6L675.5 1089.1L676.0 1087.3L676.5 1088.4L677.0 1088.2L677.5 1089.8L678.0 1092.4L678.5 1093.9L679.0 1094.3L679.5 1094.7L680.0 1096.8L680.5 1098.6L681.0 1097.1L681.5 1095.9L682.0 1097.6L682.5 1096.3L683.0 1097.2L683.5 1098.3L684.0 1098.5L684.5 1097.8L685.0 1099.2L685.5 1099.4L686.0 1097.5L686.5 1098.4L687.0 1100.7L687.5 1098.8L688.0 1096.7L688.5 1099.9L689.0 1097.6L689.5 1097.0L690.0 1095.7L690.5 1096.5L691.0 1096.4L691.5 1099.0L692.0 1095.0L692.5 1095.7L693.0 1097.9L693.5 1098.6L694.0 1096.3L694.5 1095.2L695.0 1095.7L695.5 1097.7L696.0 1096.5L696.5 1097.6L697.0 1097.6L697.5 1095.4L698.0 1095.7L698.5 1096.5L699.0 1095.3L699.5 1096.8L700.0 1096.0L700.5 1097.0L701.0 1096.7L701.5 1094.9L702.0 1094.7L702.5 1095.7L703.0 1096.7L703.5 1092.9L704.0 1094.0L704.5 1094.1L705.0 1087.4L705.5 1089.7L706.0 1085.5L706.5 1079.6L707.0 1072.1L707.5 1066.2L708.0 1055.0L708.5 1041.0L709.0 1024.4L709.5 1013.2L710.0 997.2L710.5 993.6L711.0 1000.5L711.5 1013.1L712.0 1027.0L712.5 1038.9L713.0 1055.4L713.5 1066.8L714.0 1074.2L714.5 1080.5L715.0 1084.7L715.5 1088.4L716.0 1091.6L716.5 1093.5L717.0 1090.9L717.5 1094.7L718.0 1094.7L718.5 1094.6L719.0 1097.4L719.5 1094.2L720.0 1094.7L720.5 1096.0L721.0 1096.0L721.5 1095.9L722.0 1095.5L722.5 1095.1L723.0 1094.6L723.5 1094.8L724.0 1094.6L724.5 1094.9L725.0 1091.8L725.5 1095.8L726.0 1090.7L726.5 1089.5L727.0 1087.4L727.5 1082.6L728.0 1080.8L728.5 1077.8L729.0 1073.8L729.5 1069.5L730.0 1064.3L730.5 1060.8L730.9 1055.3L731.0 1054.8L731.5 1053.3L731.9 1049.5L732.0 1050.1L732.4 1049.0L732.5 1048.6L732.9 1050.5L733.0 1052.7L733.5 1052.2L733.9 1057.1L734.0 1056.2L734.5 1063.1L735.0 1067.9L735.5 1070.5L736.0 1076.4L736.5 1079.8L737.0 1085.6L737.5 1088.9L738.0 1091.2L738.5 1090.8L739.0 1094.5L739.5 1096.7L740.0 1095.6L740.5 1098.2L741.0 1097.3L741.5 1100.7L742.0 1097.1L742.5 1096.6L743.0 1098.0L743.5 1097.2L744.0 1099.0L744.5 1097.3L745.0 1098.8L745.5 1100.2L746.0 1102.4L746.5 1100.8L747.0 1099.5L747.5 1102.4L748.0 1104.2L748.5 1103.7L749.0 1100.8L749.5 1104.4L750.0 1101.3L750.5 1102.4L751.0 1103.1L751.5 1101.5L752.0 1101.6L752.5 1102.9L753.0 1101.3L753.5 1100.5L754.0 1103.7L754.5 1101.8L755.0 1100.8L755.5 1098.0L756.0 1102.7L756.5 1100.2L757.0 1101.4L757.5 1100.2L758.0 1104.1L758.5 1101.2L759.0 1101.3L759.5 1100.8L760.0 1102.4L760.5 1098.9L761.0 1101.3L761.5 1100.1L762.0 1098.3L762.5 1101.4L763.0 1098.0L763.5 1098.5L764.0 1099.4L764.5 1097.3L765.0 1097.6L765.5 1096.1L766.0 1096.3L766.5 1094.1L767.0 1093.4L767.5 1091.7L768.0 1091.3L768.5 1089.0L769.0 1088.9L769.5 1084.8L770.0 1083.8L770.5 1086.4L771.0 1085.4L771.5 1086.1L772.0 1088.7L772.5 1087.3L773.0 1091.6L773.5 1086.4L774.0 1087.2L774.5 1089.7L775.0 1085.6L775.5 1088.0L776.0 1089.5L776.5 1091.9L777.0 1088.0L777.5 1089.0L778.0 1086.0L778.5 1086.9L779.0 1086.0L779.5 1082.3L780.0 1080.1L780.5 1081.1L781.0 1078.2L781.5 1075.7L782.0 1074.2L782.5 1071.8L783.0 1067.2L783.5 1063.0L784.0 1060.0L784.5 1054.0L785.0 1049.4L785.5 1042.8L786.0 1034.4L786.5 1025.7L787.0 1019.7L787.5 1011.4L787.9 1007.8L788.0 1006.7L788.5 999.8L788.9 998.2L789.0 995.7L789.4 996.7L789.5 995.5L789.9 996.7L790.0 996.8L790.5 997.5L790.9 1003.9L791.0 1002.6L791.5 1008.6L792.0 1012.8L792.5 1016.9L793.0 1022.1L793.5 1026.2L794.0 1029.9L794.5 1032.5L795.0 1028.8L795.5 1032.4L796.0 1030.5L796.5 1025.7L797.0 1024.0L797.5 1022.8L798.0 1017.8L798.5 1012.0L799.0 1005.5L799.3 1005.0L799.5 1001.2L800.0 997.6L800.3 997.9L800.5 997.4L800.8 998.0L801.0 994.7L801.3 998.5L801.5 999.0L802.0 1000.4L802.3 1002.4L802.5 1005.4L803.0 1009.7L803.5 1016.6L804.0 1019.3L804.5 1023.9L805.0 1027.7L805.5 1024.4L806.0 1029.7L806.5 1027.8L807.0 1026.7L807.5 1027.2L808.0 1024.3L808.5 1022.4L809.0 1018.8L809.5 1016.2L810.0 1015.9L810.5 1013.7L811.0 1011.3L811.5 1014.7L812.0 1018.8L812.5 1021.6L813.0 1028.5L813.5 1034.5L814.0 1040.0L814.5 1045.8L815.0 1055.0L815.5 1055.9L816.0 1058.8L816.5 1061.7L817.0 1064.6L817.5 1068.2L818.0 1073.7L818.5 1075.3L819.0 1074.7L819.5 1076.9L820.0 1078.6L820.5 1082.3L821.0 1084.6L821.5 1085.0L822.0 1083.4L822.5 1086.9L823.0 1087.2L823.5 1086.4L824.0 1089.4L824.5 1089.1L825.0 1091.7L825.5 1089.0L826.0 1089.5L826.5 1091.2L827.0 1089.7L827.5 1088.5L828.0 1091.6L828.5 1096.2L829.0 1091.2L829.5 1090.7L830.0 1092.5L830.5 1093.2L831.0 1092.2L831.5 1093.0L832.0 1093.0L832.5 1092.7L833.0 1091.2L833.5 1090.0L834.0 1090.9L834.5 1090.4L835.0 1089.7L835.5 1086.3L836.0 1087.9L836.5 1083.5L837.0 1087.5L837.5 1089.0L838.0 1087.5L838.5 1086.6L839.0 1090.6L839.5 1090.9L840.0 1092.1L840.5 1094.1L841.0 1093.2L841.5 1093.4L842.0 1092.9L842.5 1092.6L843.0 1092.9L843.5 1094.9L844.0 1095.9L844.5 1094.1L845.0 1095.4L845.5 1095.9L846.0 1094.5L846.5 1094.4L847.0 1095.7L847.5 1095.1L848.0 1095.4L848.5 1095.1L849.0 1096.1L849.5 1095.3L850.0 1091.0L850.5 1096.1L851.0 1095.1L851.5 1094.1L852.0 1091.6L852.5 1096.2L853.0 1095.7L853.5 1095.9L854.0 1095.1L854.5 1094.0L855.0 1092.2L855.5 1093.7L856.0 1092.6L856.5 1093.6L857.0 1092.4L857.5 1090.1L858.0 1087.6L858.5 1089.9L859.0 1088.5L859.5 1087.3L860.0 1087.7L860.5 1090.6L861.0 1087.7L861.5 1090.7L862.0 1091.1L862.5 1092.9L863.0 1093.0L863.5 1093.3L864.0 1092.7L864.5 1095.8L865.0 1096.3L865.5 1095.3L866.0 1095.6L866.5 1095.8L867.0 1096.3L867.5 1100.0L868.0 1096.4L868.5 1099.2L869.0 1096.0L869.5 1097.4L870.0 1099.0L870.5 1097.6L871.0 1096.4L871.5 1094.4L872.0 1098.4L872.5 1097.5L873.0 1094.3L873.5 1095.6L874.0 1095.8L874.5 1097.4L875.0 1097.3L875.5 1097.2L876.0 1097.7L876.5 1096.9L877.0 1096.2L877.5 1097.6L878.0 1096.0L878.5 1094.5L879.0 1095.4L879.5 1098.7L880.0 1094.4L880.5 1095.8L881.0 1096.0L881.5 1094.3L882.0 1094.5L882.5 1096.5L883.0 1096.8L883.5 1094.5L884.0 1096.5L884.5 1095.5L885.0 1096.9L885.5 1096.2L886.0 1095.5L886.5 1096.2L887.0 1095.1L887.5 1094.5L888.0 1093.2L888.5 1093.7L889.0 1092.5L889.5 1091.9L890.0 1092.6L890.5 1088.2L891.0 1088.8L891.5 1089.8L892.0 1088.0L892.5 1083.2L893.0 1076.0L893.5 1059.3L894.0 1033.5L894.5 1000.7L895.0 963.1L895.5 931.1L896.0 905.3L896.5 892.6L897.0 887.8L897.5 884.8L898.0 888.3L898.5 891.6L899.0 907.3L899.5 929.9L900.0 963.4L900.5 1002.0L901.0 1034.2L901.5 1061.4L902.0 1074.3L902.5 1085.8L903.0 1086.9L903.5 1088.4L904.0 1087.9L904.5 1089.6L905.0 1089.9L905.5 1091.5L906.0 1092.3L906.5 1091.2L907.0 1094.6L907.5 1096.5L908.0 1092.3L908.5 1092.2L909.0 1093.9L909.5 1095.2L910.0 1094.8L910.5 1093.6L911.0 1095.7L911.5 1094.5L912.0 1093.5L912.5 1094.7L913.0 1095.4L913.5 1094.4L914.0 1094.5L914.5 1096.3L915.0 1094.7L915.5 1098.3L916.0 1093.7L916.5 1095.1L917.0 1094.8L917.5 1096.0L918.0 1095.2L918.5 1094.9L919.0 1096.2L919.5 1095.7L920.0 1093.5L920.5 1093.8L921.0 1091.6L921.5 1093.9L922.0 1094.3L922.5 1096.5L923.0 1092.4L923.5 1094.5L924.0 1093.0L924.5 1095.1L925.0 1094.8L925.5 1094.1L926.0 1093.4L926.5 1095.7L927.0 1093.8L927.5 1096.4L928.0 1096.2L928.5 1095.7L929.0 1095.3L929.5 1093.4L930.0 1094.4L930.5 1095.8L931.0 1094.8L931.5 1094.9L932.0 1093.8L932.5 1095.6L933.0 1094.9L933.5 1093.7L934.0 1096.7L934.5 1094.9L935.0 1095.8L935.5 1095.8L936.0 1095.1L936.5 1095.9L937.0 1095.2L937.5 1097.3L938.0 1097.5L938.5 1092.7L939.0 1093.3L939.5 1094.6L940.0 1094.7L940.5 1093.3L941.0 1093.1L941.5 1092.2L942.0 1092.7L942.5 1094.0L943.0 1093.9L943.5 1092.6L944.0 1089.5L944.5 1093.8L945.0 1090.2L945.5 1089.1L946.0 1089.5L946.5 1088.7L947.0 1089.4L947.5 1087.1L948.0 1083.5L948.5 1084.1L949.0 1083.4L949.5 1080.7L950.0 1077.1L950.5 1078.8L951.0 1076.3L951.5 1073.0L952.0 1072.1L952.5 1068.4L952.9 1066.9L953.0 1066.9L953.5 1065.3L953.9 1065.1L954.0 1064.4L954.4 1066.4L954.5 1064.9L954.9 1065.3L955.0 1061.0L955.5 1066.0L955.9 1065.8L956.0 1067.1L956.5 1069.6L957.0 1072.4L957.5 1072.6L958.0 1077.2L958.5 1080.2L959.0 1081.8L959.5 1079.6L960.0 1082.7L960.5 1085.6L961.0 1086.0L961.5 1086.5L962.0 1091.4L962.5 1092.1L963.0 1090.8L963.5 1090.5L964.0 1090.9L964.5 1093.3L965.0 1092.4L965.5 1090.5L966.0 1092.6L966.5 1092.0L967.0 1091.6L967.5 1092.8L968.0 1091.7L968.5 1089.9L969.0 1092.3L969.5 1091.6L970.0 1091.3L970.5 1090.3L971.0 1086.1L971.5 1091.4L972.0 1089.8L972.5 1090.9L973.0 1089.3L973.5 1087.4L974.0 1086.8L974.5 1087.6L975.0 1088.7L975.5 1088.7L976.0 1086.5L976.5 1088.3L977.0 1088.8L977.5 1089.5L978.0 1089.8L978.5 1089.6L979.0 1089.6L979.5 1090.6L980.0 1092.3L980.5 1090.0L981.0 1094.9L981.5 1093.1L982.0 1093.1L982.5 1092.9L983.0 1091.9L983.5 1094.4L984.0 1091.7L984.5 1095.8L985.0 1094.6L985.5 1092.0L986.0 1091.3L986.5 1092.2L987.0 1091.0L987.5 1092.7L988.0 1093.2L988.5 1092.4L989.0 1093.3L989.5 1094.1L990.0 1093.7L990.5 1092.5L991.0 1091.9L991.5 1095.7L992.0 1093.3L992.5 1094.4L993.0 1093.6L993.5 1092.3L994.0 1094.5L994.5 1093.9L995.0 1094.8L995.5 1094.3L996.0 1093.3L996.5 1095.6L997.0 1094.8L997.5 1095.8L998.0 1096.2L998.5 1093.7L999.0 1094.8L999.5 1093.8L1000.0 1094.2L1000.5 1094.5L1001.0 1095.6L1001.5 1093.9L1002.0 1092.6L1002.5 1092.1L1003.0 1092.4L1003.5 1094.3L1004.0 1093.7L1004.5 1093.3L1005.0 1093.1L1005.5 1094.8L1006.0 1091.8L1006.5 1091.2L1007.0 1092.7L1007.5 1094.5L1008.0 1095.5L1008.5 1094.0L1009.0 1092.1L1009.5 1091.8L1010.0 1092.3L1010.5 1094.5L1011.0 1092.4L1011.5 1090.8L1012.0 1093.5L1012.5 1092.9L1013.0 1092.6L1013.5 1091.9L1014.0 1089.4L1014.5 1087.7L1015.0 1088.7L1015.5 1090.2L1016.0 1088.3L1016.5 1087.8L1017.0 1088.0L1017.5 1086.2L1018.0 1083.8L1018.5 1085.6L1019.0 1086.2L1019.5 1087.0L1020.0 1083.6L1020.5 1088.6L1021.0 1087.0L1021.5 1087.2L1022.0 1088.4L1022.5 1087.7L1023.0 1088.1L1023.5 1087.4L1024.0 1089.6L1024.5 1090.3L1025.0 1090.0L1025.5 1090.5L1026.0 1090.4L1026.5 1088.6L1027.0 1088.6L1027.5 1089.7L1028.0 1087.4L1028.5 1087.4L1029.0 1087.3L1029.5 1087.8L1030.0 1088.2L1030.5 1087.1L1031.0 1084.5L1031.5 1083.4L1032.0 1084.2L1032.5 1085.0L1033.0 1082.1L1033.5 1083.6L1034.0 1082.2L1034.5 1081.9L1035.0 1081.2L1035.5 1081.5L1036.0 1080.6L1036.5 1082.3L1037.0 1079.0L1037.5 1078.1L1038.0 1076.3L1038.5 1078.0L1039.0 1078.8L1039.5 1077.7L1040.0 1077.0L1040.5 1075.0L1041.0 1076.7L1041.5 1077.9L1042.0 1078.4L1042.5 1080.6L1043.0 1079.7L1043.5 1079.8L1044.0 1080.7L1044.5 1084.0L1045.0 1082.8L1045.5 1083.9L1046.0 1080.7L1046.5 1083.1L1047.0 1085.1L1047.5 1085.0L1048.0 1085.3L1048.5 1087.1L1049.0 1085.6L1049.5 1087.3L1050.0 1090.7L1050.5 1088.2L1051.0 1089.0L1051.5 1088.6L1052.0 1088.8L1052.5 1091.3L1053.0 1088.7L1053.5 1090.0L1054.0 1088.4L1054.5 1090.0L1055.0 1090.9L1055.5 1090.9L1056.0 1091.6L1056.5 1090.4L1057.0 1093.9L1057.5 1093.4L1058.0 1089.5L1058.5 1092.8L1059.0 1091.2L1059.5 1092.3L1060.0 1091.5L1060.5 1092.1L1061.0 1091.9L1061.5 1092.3L1062.0 1093.2L1062.5 1094.5L1063.0 1094.3L1063.5 1090.8L1064.0 1093.1L1064.5 1093.7L1065.0 1097.4L1065.5 1095.9L1066.0 1094.4L1066.5 1093.7L1067.0 1096.0L1067.5 1095.0L1068.0 1095.9L1068.5 1094.4L1069.0 1093.0L1069.5 1093.6L1070.0 1096.6L1070.5 1096.3L1071.0 1096.0L1071.5 1095.0L1072.0 1094.1L1072.5 1094.7L1073.0 1095.5L1073.5 1096.2L1074.0 1093.7L1074.5 1094.2L1075.0 1095.3L1075.5 1096.0L1076.0 1093.9L1076.5 1096.6L1077.0 1094.1L1077.5 1097.1L1078.0 1096.5L1078.5 1096.6L1079.0 1092.4L1079.5 1094.8L1080.0 1097.6L1080.5 1095.7L1081.0 1094.5L1081.5 1093.2L1082.0 1093.8L1082.5 1094.3L1083.0 1093.5L1083.5 1095.7L1084.0 1098.3L1084.5 1094.3L1085.0 1094.4L1085.5 1097.8L1086.0 1095.9L1086.5 1096.6L1087.0 1096.1L1087.5 1094.7L1088.0 1099.1L1088.5 1095.5L1089.0 1094.0L1089.5 1094.2L1090.0 1095.9L1090.5 1095.2L1091.0 1096.6L1091.5 1096.6L1092.0 1096.6L1092.5 1096.1L1093.0 1096.6L1093.5 1092.9L1094.0 1090.9L1094.5 1090.2L1095.0 1088.7L1095.5 1087.0L1096.0 1079.8L1096.5 1078.2L1097.0 1071.7L1097.5 1071.6L1098.0 1072.3L1098.5 1077.0L1099.0 1082.9L1099.5 1089.1L1100.0 1091.0L1100.5 1091.5L1101.0 1092.4L1101.5 1095.8L1102.0 1093.6L1102.5 1096.0L1103.0 1096.1L1103.5 1095.3L1104.0 1096.0L1104.5 1096.4L1105.0 1095.5L1105.5 1095.7L1106.0 1094.7L1106.5 1096.6L1107.0 1096.0L1107.5 1094.8L1108.0 1094.8L1108.5 1095.0L1109.0 1095.5L1109.5 1094.7L1110.0 1096.3L1110.5 1099.5L1111.0 1098.1L1111.5 1094.8L1112.0 1098.9L1112.5 1097.0L1113.0 1093.5L1113.5 1094.0L1114.0 1096.1L1114.5 1093.2L1115.0 1097.4L1115.5 1094.6L1116.0 1096.0L1116.5 1096.5L1117.0 1099.6L1117.5 1095.7L1118.0 1094.7L1118.5 1096.1L1119.0 1098.0L1119.5 1096.5L1120.0 1095.0L1120.5 1097.1L1121.0 1095.6L1121.5 1094.5L1122.0 1095.2L1122.5 1097.5L1123.0 1095.3L1123.5 1098.7L1124.0 1095.3L1124.5 1096.7L1125.0 1099.3L1125.5 1097.4L1126.0 1096.3L1126.5 1096.3L1127.0 1097.7L1127.5 1097.6L1128.0 1096.0L1128.5 1098.0L1129.0 1095.9L1129.5 1097.0L1130.0 1098.1L1130.5 1097.1L1131.0 1096.1L1131.5 1095.3L1132.0 1095.8L1132.5 1095.7L1133.0 1094.5L1133.5 1096.5L1134.0 1097.9L1134.5 1096.7L1135.0 1099.0L1135.5 1099.0L1136.0 1097.9L1136.5 1097.5L1137.0 1096.1L1137.5 1096.2L1138.0 1095.9L1138.5 1096.4L1139.0 1098.8L1139.5 1096.9L1140.0 1095.8L1140.5 1097.8L1141.0 1094.3L1141.5 1094.7L1142.0 1095.6L1142.5 1096.0L1143.0 1096.6L1143.5 1097.4L1144.0 1095.7L1144.5 1095.1L1145.0 1095.7L1145.5 1098.7L1146.0 1096.9L1146.5 1096.5L1147.0 1094.4L1147.5 1096.0L1148.0 1091.6L1148.5 1095.6L1149.0 1096.2L1149.5 1095.1L1150.0 1096.4L1150.5 1095.1L1151.0 1097.8L1151.5 1095.2L1152.0 1095.6L1152.5 1094.7L1153.0 1096.1L1153.5 1097.7L1154.0 1095.9L1154.5 1095.5L1155.0 1094.9L1155.5 1096.5L1156.0 1096.3L1156.5 1095.4L1157.0 1097.8L1157.5 1097.7L1158.0 1094.0L1158.5 1097.8L1159.0 1096.1L1159.5 1097.6L1160.0 1096.4L1160.5 1095.8L1161.0 1095.8L1161.5 1096.9L1162.0 1094.2L1162.5 1097.2L1163.0 1097.0L1163.5 1093.3L1164.0 1095.1L1164.5 1094.7L1165.0 1093.7L1165.5 1097.5L1166.0 1091.1L1166.5 1096.0L1167.0 1096.1L1167.5 1093.0L1168.0 1094.6L1168.5 1094.5L1169.0 1093.3L1169.5 1092.4L1170.0 1091.5L1170.5 1093.2L1171.0 1093.5L1171.5 1093.3L1172.0 1093.0L1172.5 1091.9L1173.0 1091.0L1173.5 1088.8L1174.0 1091.2L1174.5 1089.3L1175.0 1088.4L1175.5 1089.8L1176.0 1090.2L1176.5 1088.2L1177.0 1086.7L1177.5 1083.3L1178.0 1083.0L1178.5 1082.6L1179.0 1081.6L1179.5 1078.9L1180.0 1078.4L1180.5 1075.7L1181.0 1072.6L1181.5 1071.5L1182.0 1068.5L1182.5 1066.1L1183.0 1064.4L1183.4 1061.5L1183.5 1062.4L1184.0 1060.6L1184.4 1061.9L1184.5 1058.1L1184.9 1061.1L1185.0 1058.8L1185.4 1058.5L1185.5 1057.7L1186.0 1065.0L1186.4 1063.3L1186.5 1061.0L1187.0 1065.7L1187.5 1067.3L1188.0 1069.0L1188.5 1070.1L1189.0 1074.7L1189.5 1074.7L1190.0 1079.2L1190.5 1078.4L1191.0 1080.9L1191.5 1084.0L1192.0 1086.0L1192.5 1086.9L1193.0 1083.9L1193.5 1086.8L1194.0 1086.0L1194.5 1088.2L1195.0 1090.0L1195.5 1088.2L1196.0 1091.9L1196.5 1092.7L1197.0 1093.7L1197.5 1093.6L1198.0 1093.9L1198.5 1093.3L1199.0 1094.3L1199.5 1093.3L1200.0 1093.7L1200.5 1094.6L1201.0 1096.6L1201.5 1093.1L1202.0 1093.1L1202.5 1093.5L1203.0 1095.9L1203.5 1093.6L1204.0 1093.3L1204.5 1091.1L1205.0 1088.9L1205.5 1091.8L1206.0 1091.9L1206.5 1089.0L1207.0 1089.9L1207.5 1089.0L1208.0 1089.1L1208.5 1089.1L1209.0 1089.2L1209.5 1086.9L1210.0 1089.4L1210.5 1092.7L1211.0 1090.4L1211.5 1093.3L1212.0 1092.1L1212.5 1094.3L1213.0 1093.6L1213.5 1096.1L1214.0 1093.2L1214.5 1092.5L1215.0 1094.6L1215.5 1095.4L1216.0 1095.9L1216.5 1096.3L1217.0 1096.6L1217.5 1093.1L1218.0 1095.0L1218.5 1094.7L1219.0 1095.0L1219.5 1093.4L1220.0 1095.1L1220.5 1096.9L1221.0 1093.5L1221.5 1094.6L1222.0 1092.6L1222.5 1093.3L1223.0 1094.4L1223.5 1092.5L1224.0 1093.2L1224.5 1091.5L1225.0 1092.7L1225.5 1093.4L1226.0 1090.8L1226.5 1090.5L1227.0 1089.0L1227.5 1090.8L1228.0 1090.4L1228.5 1091.9L1229.0 1092.1L1229.5 1093.1L1230.0 1092.3L1230.5 1095.1L1231.0 1093.0L1231.5 1094.8L1232.0 1096.6L1232.5 1095.5L1233.0 1095.5L1233.5 1094.5L1234.0 1093.9L1234.5 1094.2L1235.0 1098.6L1235.5 1094.7L1236.0 1096.4L1236.5 1096.8L1237.0 1095.9L1237.5 1097.2L1238.0 1098.5L1238.5 1099.0L1239.0 1097.2L1239.5 1096.0L1240.0 1096.4L1240.5 1096.1L1241.0 1094.8L1241.5 1095.3L1242.0 1094.2L1242.5 1093.8L1243.0 1094.4L1243.5 1094.6L1244.0 1093.7L1244.5 1091.7L1245.0 1091.1L1245.5 1092.3L1246.0 1092.1L1246.5 1089.4L1247.0 1084.4L1247.5 1081.7L1248.0 1077.8L1248.5 1065.7L1249.0 1058.9L1249.5 1046.8L1249.8 1037.3L1250.0 1034.1L1250.5 1022.8L1250.8 1016.6L1251.0 1016.5L1251.3 1014.8L1251.5 1013.0L1251.8 1016.6L1252.0 1021.4L1252.5 1033.3L1252.8 1036.3L1253.0 1042.1L1253.5 1056.7L1254.0 1066.0L1254.5 1073.4L1255.0 1081.9L1255.5 1084.0L1256.0 1086.0L1256.5 1091.6L1257.0 1090.5L1257.5 1093.6L1258.0 1094.0L1258.5 1093.7L1259.0 1094.3L1259.5 1096.6L1260.0 1094.3L1260.5 1094.8L1261.0 1095.0L1261.5 1095.8L1262.0 1095.4L1262.5 1097.1L1263.0 1096.7L1263.5 1095.3L1264.0 1096.9L1264.5 1097.2L1265.0 1098.2L1265.5 1097.0L1266.0 1099.3L1266.5 1096.8L1267.0 1098.9L1267.5 1097.0L1268.0 1096.2L1268.5 1095.8L1269.0 1097.1L1269.5 1101.2L1270.0 1098.5L1270.5 1097.2L1271.0 1098.9L1271.5 1098.3L1272.0 1097.0L1272.5 1097.2L1273.0 1097.8L1273.5 1097.7L1274.0 1096.7L1274.5 1099.3L1275.0 1098.2L1275.5 1097.6L1276.0 1095.7L1276.5 1098.4L1277.0 1098.7L1277.5 1096.2L1278.0 1095.5L1278.5 1095.0L1279.0 1094.8L1279.5 1093.6L1280.0 1091.8L1280.5 1095.4L1281.0 1094.8L1281.5 1094.9L1282.0 1092.3L1282.5 1096.9L1283.0 1095.1L1283.5 1096.4L1284.0 1095.3L1284.5 1097.2L1285.0 1095.1L1285.5 1095.4L1286.0 1096.8L1286.5 1097.3L1287.0 1099.1L1287.5 1098.0L1288.0 1097.6L1288.5 1099.0L1289.0 1096.3L1289.5 1097.5L1290.0 1096.4L1290.5 1098.2L1291.0 1098.1L1291.5 1096.4L1292.0 1097.9L1292.5 1100.7L1293.0 1099.1L1293.5 1098.1L1294.0 1098.1L1294.5 1098.7L1295.0 1098.1L1295.5 1097.7L1296.0 1098.1L1296.5 1099.4L1297.0 1100.7L1297.5 1099.0L1298.0 1098.7L1298.5 1097.8L1299.0 1101.0L1299.5 1098.0L1300.0 1098.4L1300.5 1098.4L1301.0 1096.7L1301.5 1099.6L1302.0 1100.2L1302.5 1099.5L1303.0 1097.3L1303.5 1098.5L1304.0 1097.1L1304.5 1095.9L1305.0 1096.4L1305.5 1098.8L1306.0 1099.5L1306.5 1097.7L1307.0 1100.4L1307.5 1096.5L1308.0 1098.7L1308.5 1098.3L1309.0 1099.1L1309.5 1099.3L1310.0 1099.0L1310.5 1099.4L1311.0 1099.8L1311.5 1094.3L1312.0 1097.0L1312.5 1098.3L1313.0 1098.3L1313.5 1097.2L1314.0 1097.2L1314.5 1099.2L1315.0 1100.5L1315.5 1098.7L1316.0 1097.2L1316.5 1100.3L1317.0 1099.0L1317.5 1097.8L1318.0 1098.8L1318.5 1098.1L1319.0 1098.5L1319.5 1099.4L1320.0 1101.9L1320.5 1097.3L1321.0 1100.2L1321.5 1096.4L1322.0 1098.1L1322.5 1097.1L1323.0 1097.3L1323.5 1098.6L1324.0 1100.2L1324.5 1098.5L1325.0 1098.7L1325.5 1097.5L1326.0 1099.0L1326.5 1098.1L1327.0 1098.5L1327.5 1098.6L1328.0 1098.9L1328.5 1098.3L1329.0 1099.6L1329.5 1098.5L1330.0 1098.0L1330.5 1100.3L1331.0 1097.7L1331.5 1100.5L1332.0 1097.0L1332.5 1100.3L1333.0 1100.5L1333.5 1101.1L1334.0 1098.5L1334.5 1098.7L1335.0 1099.8L1335.5 1099.1L1336.0 1100.8L1336.5 1098.7L1337.0 1097.9L1337.5 1097.6L1338.0 1098.5L1338.5 1100.8L1339.0 1097.5L1339.5 1098.9L1340.0 1099.8L1340.5 1099.0L1341.0 1099.4L1341.5 1097.4L1342.0 1095.2L1342.5 1098.8L1343.0 1099.1L1343.5 1096.6L1344.0 1096.5L1344.5 1097.6L1345.0 1097.6L1345.5 1100.0L1346.0 1097.9L1346.5 1097.7L1347.0 1097.2L1347.5 1097.6L1348.0 1097.5L1348.5 1098.7L1349.0 1096.6L1349.5 1097.5L1350.0 1094.7L1350.5 1095.7L1351.0 1095.9L1351.5 1096.8L1352.0 1096.1L1352.5 1095.2L1353.0 1095.3L1353.5 1094.8L1354.0 1095.2L1354.5 1094.1L1355.0 1095.2L1355.5 1094.9L1356.0 1098.4L1356.5 1095.6L1357.0 1095.1L1357.5 1096.3L1358.0 1096.7L1358.5 1096.6L1359.0 1095.9L1359.5 1097.0L1360.0 1093.6L1360.5 1097.5L1361.0 1096.2L1361.5 1097.5L1362.0 1095.0L1362.5 1095.3L1363.0 1094.2L1363.5 1098.2L1364.0 1097.1L1364.5 1096.2L1365.0 1096.9L1365.5 1095.6L1366.0 1094.9L1366.5 1095.9L1367.0 1094.7L1367.5 1099.3L1368.0 1098.2L1368.5 1098.4L1369.0 1096.0L1369.5 1096.7L1370.0 1097.2L1370.5 1097.3L1371.0 1097.4L1371.5 1098.2L1372.0 1096.3L1372.5 1098.5L1373.0 1098.1L1373.5 1099.4L1374.0 1096.9L1374.5 1095.0L1375.0 1100.6L1375.5 1097.2L1376.0 1096.7L1376.5 1097.6L1377.0 1098.0L1377.5 1097.5L1378.0 1098.2L1378.5 1099.1L1379.0 1096.7L1379.5 1099.1L1380.0 1096.5L1380.5 1097.5L1381.0 1097.2L1381.5 1099.3L1382.0 1099.3L1382.5 1097.5L1383.0 1100.3L1383.5 1098.6L1384.0 1098.2L1384.5 1098.9L1385.0 1096.6L1385.5 1097.8L1386.0 1098.0L1386.5 1097.7L1387.0 1098.3L1387.5 1100.9L1388.0 1097.5L1388.5 1098.4L1389.0 1098.9L1389.5 1097.5L1390.0 1097.6L1390.5 1099.4L1391.0 1099.0L1391.5 1096.9L1392.0 1099.1L1392.5 1097.2L1393.0 1099.7L1393.5 1097.2L1394.0 1098.5L1394.5 1099.8L1395.0 1096.6L1395.5 1097.0L1396.0 1097.9L1396.5 1098.1L1397.0 1098.8L1397.5 1101.4L1398.0 1098.9L1398.5 1096.8L1399.0 1098.2L1399.5 1097.6L1400.0 1098.1L1400.5 1096.5L1401.0 1098.3L1401.5 1098.7L1402.0 1099.0L1402.5 1096.7L1403.0 1098.2L1403.5 1098.5L1404.0 1099.8L1404.5 1099.2L1405.0 1098.3L1405.5 1098.3L1406.0 1097.6L1406.5 1097.0L1407.0 1101.0L1407.5 1099.2L1408.0 1100.0L1408.5 1100.2L1409.0 1099.8L1409.5 1099.5L1410.0 1096.4L1410.5 1098.1L1411.0 1096.4L1411.5 1096.6L1412.0 1097.2L1412.5 1099.4L1413.0 1096.1L1413.5 1096.3L1414.0 1098.2L1414.5 1095.5L1415.0 1097.6L1415.5 1097.3L1416.0 1097.5L1416.5 1096.8L1417.0 1098.6L1417.5 1096.1L1418.0 1097.8L1418.5 1097.8L1419.0 1097.4L1419.5 1097.1L1420.0 1098.3L1420.5 1099.3L1421.0 1097.8L1421.5 1097.3L1422.0 1096.8L1422.5 1095.3L1423.0 1094.6L1423.5 1097.5L1424.0 1096.8L1424.5 1096.6L1425.0 1097.9L1425.5 1096.7L1426.0 1097.8L1426.5 1096.8L1427.0 1095.5L1427.5 1097.3L1428.0 1097.4L1428.5 1096.9L1429.0 1096.2L1429.5 1098.7L1430.0 1096.1L1430.5 1097.6L1431.0 1098.0L1431.5 1095.1L1432.0 1096.3L1432.5 1097.2L1433.0 1098.5L1433.5 1098.6L1434.0 1098.1L1434.5 1097.9L1435.0 1098.5L1435.5 1096.8L1436.0 1096.7L1436.5 1098.4L1437.0 1098.1L1437.5 1099.2L1438.0 1099.4L1438.5 1098.0L1439.0 1097.2L1439.5 1101.5L1440.0 1097.5L1440.5 1100.0L1441.0 1098.3L1441.5 1099.2L1442.0 1098.7L1442.5 1099.2L1443.0 1099.1L1443.5 1100.7L1444.0 1098.0L1444.5 1097.5L1445.0 1098.8L1445.5 1098.5L1446.0 1097.1L1446.5 1099.3L1447.0 1100.7L1447.5 1098.9L1448.0 1098.5L1448.5 1101.4L1449.0 1098.8L1449.5 1099.9L1450.0 1100.0L1450.5 1100.2L1451.0 1099.5L1451.5 1099.9L1452.0 1101.0L1452.5 1100.1L1453.0 1099.5L1453.5 1100.9L1454.0 1099.3L1454.5 1100.1L1455.0 1099.0L1455.5 1100.7L1456.0 1099.4L1456.5 1100.3L1457.0 1099.8L1457.5 1099.7L1458.0 1099.3L1458.5 1101.4L1459.0 1099.5L1459.5 1098.5L1460.0 1100.7L1460.5 1098.4L1461.0 1101.3L1461.5 1101.3L1462.0 1101.2L1462.5 1100.9L1463.0 1100.7L1463.5 1099.0L1464.0 1100.4L1464.5 1098.8L1465.0 1099.9L1465.5 1098.5L1466.0 1100.6L1466.5 1102.0L1467.0 1101.3L1467.5 1099.9L1468.0 1099.2L1468.5 1098.4L1469.0 1098.5L1469.5 1100.7L1470.0 1101.2L1470.5 1099.8L1471.0 1100.0L1471.5 1098.6L1472.0 1095.8L1472.5 1097.1L1473.0 1100.9L1473.5 1099.8L1474.0 1097.9L1474.5 1096.7L1475.0 1096.3L1475.5 1094.3L1476.0 1093.8L1476.5 1096.5L1477.0 1094.4L1477.5 1094.2L1478.0 1095.9L1478.5 1097.5L1479.0 1100.9L1479.5 1100.0L1480.0 1098.4L1480.5 1099.5L1481.0 1098.3L1481.5 1101.9L1482.0 1100.0L1482.5 1100.6L1483.0 1100.7L1483.5 1099.8L1484.0 1100.0L1484.5 1099.5L1485.0 1098.4L1485.5 1099.4L1486.0 1099.0L1486.5 1102.5L1487.0 1098.7L1487.5 1099.1L1488.0 1098.2L1488.5 1098.7L1489.0 1099.4L1489.5 1099.8L1490.0 1098.7L1490.5 1098.2L1491.0 1099.5L1491.5 1098.6L1492.0 1100.2L1492.5 1099.0L1493.0 1100.5L1493.5 1101.3L1494.0 1099.4L1494.5 1100.7L1495.0 1100.0L1495.5 1100.1L1496.0 1100.7L1496.5 1098.3L1497.0 1099.8L1497.5 1099.0L1498.0 1100.2L1498.5 1098.7L1499.0 1099.7L1499.5 1099.9L1500.0 1100.8L1500.5 1099.0L1501.0 1100.6L1501.5 1099.1L1502.0 1100.2L1502.5 1100.7L1503.0 1100.1L1503.5 1099.0L1504.0 1099.2L1504.5 1097.7L1505.0 1100.4L1505.5 1099.8L1506.0 1103.5L1506.5 1101.0L1507.0 1101.1L1507.5 1101.6L1508.0 1099.5L1508.5 1100.3L1509.0 1097.5L1509.5 1099.9L1510.0 1099.7L1510.5 1102.2L1511.0 1098.9L1511.5 1099.6L1512.0 1101.6L1512.5 1100.6L1513.0 1098.6L1513.5 1097.7L1514.0 1101.5L1514.5 1099.9L1515.0 1100.6L1515.5 1100.2L1516.0 1100.2L1516.5 1100.4L1517.0 1101.6L1517.5 1099.5L1518.0 1100.9L1518.5 1099.6L1519.0 1099.1L1519.5 1101.7L1520.0 1099.3L1520.5 1099.0L1521.0 1100.4L1521.5 1099.8L1522.0 1099.1L1522.5 1101.3L1523.0 1098.6L1523.5 1099.0L1524.0 1101.1L1524.5 1099.5L1525.0 1099.3L1525.5 1099.4L1526.0 1097.1L1526.5 1099.9L1527.0 1100.0L1527.5 1101.0L1528.0 1100.3L1528.5 1100.2L1529.0 1099.4L1529.5 1100.6L1530.0 1099.8L1530.5 1097.7L1531.0 1098.1L1531.5 1099.5L1532.0 1101.6L1532.5 1100.8L1533.0 1100.5L1533.5 1099.7L1534.0 1099.6L1534.5 1101.5L1535.0 1101.2L1535.5 1100.5L1536.0 1100.4L1536.5 1098.7L1537.0 1100.4L1537.5 1099.5L1538.0 1102.1L1538.5 1100.6L1539.0 1101.3L1539.5 1099.3L1540.0 1098.0L1540.5 1098.5L1541.0 1100.2L1541.5 1100.1L1542.0 1102.1L1542.5 1101.5L1543.0 1098.7L1543.5 1100.7L1544.0 1097.6L1544.5 1096.5L1545.0 1099.1L1545.5 1097.9L1546.0 1095.8L1546.5 1091.6L1547.0 1092.6L1547.3 1090.0L1547.5 1090.7L1548.0 1086.3L1548.3 1084.4L1548.5 1082.2L1548.8 1083.2L1549.0 1082.6L1549.3 1083.7L1549.5 1085.7L1550.0 1085.5L1550.3 1090.3L1550.5 1089.8L1551.0 1092.6L1551.5 1094.9L1552.0 1098.4L1552.5 1098.5L1553.0 1099.7L1553.5 1100.8L1554.0 1101.1L1554.5 1100.0L1555.0 1099.8L1555.5 1098.3L1556.0 1102.0L1556.5 1100.8L1557.0 1101.4L1557.5 1101.4L1558.0 1101.7L1558.5 1101.9L1559.0 1100.8L1559.5 1100.1L1560.0 1099.5L1560.5 1101.6L1561.0 1102.3L1561.5 1098.1L1562.0 1100.8L1562.5 1102.4L1563.0 1100.7L1563.5 1101.3L1564.0 1103.9L1564.5 1101.5L1565.0 1101.5L1565.5 1099.9L1566.0 1101.3L1566.5 1100.5L1567.0 1102.0L1567.5 1101.3L1568.0 1102.1L1568.5 1101.7L1569.0 1101.6L1569.5 1101.7L1570.0 1102.8L1570.5 1098.9L1571.0 1101.8L1571.5 1102.0L1572.0 1101.0L1572.5 1101.7L1573.0 1099.7L1573.5 1098.9L1574.0 1103.0L1574.5 1101.2" fill="none" stroke="#808000" stroke-width="9.6" stroke-linejoin="round" stroke-linecap="round"/>
<rect x="111" y="21.8" width="9" height="1133.9"/>
<rect x="111" y="21.8" width="1650.8" height="10.1"/>
<rect x="1752.1" y="21.8" width="9.7" height="1133.9"/>
<rect x="111" y="1147" width="1650.8" height="8.7"/>
<line x1="206.8" y1="1151.4" x2="206.8" y2="1140.3" stroke="#000" stroke-width="9.2" stroke-linecap="round"/>
<line x1="298.0" y1="1151.4" x2="298.0" y2="1129.5" stroke="#000" stroke-width="9.2" stroke-linecap="round"/>
<line x1="389.1" y1="1151.4" x2="389.1" y2="1140.3" stroke="#000" stroke-width="9.2" stroke-linecap="round"/>
<line x1="480.3" y1="1151.4" x2="480.3" y2="1129.5" stroke="#000" stroke-width="9.2" stroke-linecap="round"/>
<line x1="571.5" y1="1151.4" x2="571.5" y2="1140.3" stroke="#000" stroke-width="9.2" stroke-linecap="round"/>
<line x1="662.7" y1="1151.4" x2="662.7" y2="1129.5" stroke="#000" stroke-width="9.2" stroke-linecap="round"/>
<line x1="753.9" y1="1151.4" x2="753.9" y2="1140.3" stroke="#000" stroke-width="9.2" stroke-linecap="round"/>
<line x1="845.0" y1="1151.4" x2="845.0" y2="1129.5" stroke="#000" stroke-width="9.2" stroke-linecap="round"/>
<line x1="936.2" y1="1151.4" x2="936.2" y2="1140.3" stroke="#000" stroke-width="9.2" stroke-linecap="round"/>
<line x1="1027.4" y1="1151.4" x2="1027.4" y2="1129.5" stroke="#000" stroke-width="9.2" stroke-linecap="round"/>
<line x1="1118.6" y1="1151.4" x2="1118.6" y2="1140.3" stroke="#000" stroke-width="9.2" stroke-linecap="round"/>
<line x1="1209.8" y1="1151.4" x2="1209.8" y2="1129.5" stroke="#000" stroke-width="9.2" stroke-linecap="round"/>
<line x1="1300.9" y1="1151.4" x2="1300.9" y2="1140.3" stroke="#000" stroke-width="9.2" stroke-linecap="round"/>
<line x1="1392.1" y1="1151.4" x2="1392.1" y2="1129.5" stroke="#000" stroke-width="9.2" stroke-linecap="round"/>
<line x1="1483.3" y1="1151.4" x2="1483.3" y2="1140.3" stroke="#000" stroke-width="9.2" stroke-linecap="round"/>
<line x1="1574.5" y1="1151.4" x2="1574.5" y2="1129.5" stroke="#000" stroke-width="9.2" stroke-linecap="round"/>
<line x1="1665.7" y1="1151.4" x2="1665.7" y2="1140.3" stroke="#000" stroke-width="9.2" stroke-linecap="round"/>
<text x="114.0" y="1228.3" font-size="72" font-weight="bold" text-anchor="middle">0</text>
<text x="296.4" y="1228.3" font-size="72" font-weight="bold" text-anchor="middle">10</text>
<text x="478.7" y="1228.3" font-size="72" font-weight="bold" text-anchor="middle">20</text>
<text x="661.1" y="1228.3" font-size="72" font-weight="bold" text-anchor="middle">30</text>
<text x="843.4" y="1228.3" font-size="72" font-weight="bold" text-anchor="middle">40</text>
<text x="1025.8" y="1228.3" font-size="72" font-weight="bold" text-anchor="middle">50</text>
<text x="1208.2" y="1228.3" font-size="72" font-weight="bold" text-anchor="middle">60</text>
<text x="1390.5" y="1228.3" font-size="72" font-weight="bold" text-anchor="middle">70</text>
<text x="1572.9" y="1228.3" font-size="72" font-weight="bold" text-anchor="middle">80</text>
<text x="1755.2" y="1228.3" font-size="72" font-weight="bold" text-anchor="middle">90</text>
<text x="813.5" y="1361.6" font-size="72" font-weight="bold">2</text>
<text x="873.6" y="1354.2" font-size="67.5">θ</text>
<text x="935.5" y="1361.8" font-size="70" font-weight="bold">/</text>
<text x="973.5" y="1361.8" font-size="65.5" font-weight="bold" letter-spacing="4.5">deg</text>
<text transform="translate(67.3,826.6) rotate(-90)" font-size="68.3" font-weight="bold" letter-spacing="0.28">Intensity (a.u.)</text>
<text x="1033.0" y="127.2" font-size="54">1</text>
<text x="1062.9" y="113.0" font-size="36" textLength="56.2" lengthAdjust="spacingAndGlyphs">—</text>
<text x="1125.0" y="127.2" font-size="54">P5</text>
<text x="1386.6" y="127.2" font-size="54">2</text>
<text x="1419.9" y="113.0" font-size="36" textLength="55.8" lengthAdjust="spacingAndGlyphs">—</text>
<text x="1482.0" y="127.2" font-size="54" textLength="119.5" lengthAdjust="spacing">MgO</text>
<text x="1031.0" y="194.8" font-size="54">3</text>
<text x="1062.9" y="180.60000000000002" font-size="36" textLength="56.2" lengthAdjust="spacingAndGlyphs">—</text>
<text x="1125.0" y="194.8" font-size="54" textLength="200.5" lengthAdjust="spacing">Mg(OH)</text>
<text x="1328.2" y="217.0" font-size="31">2</text>
<text x="1388.0" y="194.8" font-size="54">4</text>
<text x="1417.9" y="180.60000000000002" font-size="36" textLength="56.2" lengthAdjust="spacingAndGlyphs">—</text>
<text x="1482.0" y="194.8" font-size="54" textLength="157.5" lengthAdjust="spacing">MgCO</text>
<text x="1641.0" y="217.0" font-size="31">3</text>
<text x="1030.0" y="282.5" font-size="54">5</text>
<text x="1062.9" y="268.3" font-size="36" textLength="56.2" lengthAdjust="spacingAndGlyphs">—</text>
<text x="1125.0" y="282.5" font-size="54" textLength="141.5" lengthAdjust="spacing">CaCO</text>
<text x="1269.0" y="304.7" font-size="31">3</text>
<text x="1386.5" y="282.5" font-size="54">6</text>
<text x="1419.9" y="268.3" font-size="36" textLength="55.8" lengthAdjust="spacingAndGlyphs">—</text>
<text x="1480.5" y="282.5" font-size="54" textLength="89.5" lengthAdjust="spacing">SiO</text>
<text x="1572.2" y="304.7" font-size="31">2</text>
<text x="451.5" y="279" font-size="54" font-weight="bold" text-anchor="middle">3</text>
<text x="809.5" y="93" font-size="54" font-weight="bold" text-anchor="middle">3</text>
<text x="899.6" y="206.8" font-size="54" font-weight="bold" text-anchor="middle">2</text>
<text x="896.5" y="257" font-size="54" font-weight="bold" text-anchor="middle">4</text>
<text x="596.6" y="750.2" font-size="54" font-weight="bold" text-anchor="middle">6</text>
<text x="674.4" y="804.4" font-size="54" font-weight="bold" text-anchor="middle">5</text>
<text x="708.4" y="717.9" font-size="54" font-weight="bold" text-anchor="middle">4</text>
<text x="1037.6" y="604.2" font-size="54" font-weight="bold" text-anchor="middle">3</text>
<text x="1102.5" y="789.3" font-size="54" font-weight="bold" text-anchor="middle">4</text>
<text x="1182.5" y="622.2" font-size="54" font-weight="bold" text-anchor="middle">3</text>
<text x="1250.7" y="531.4" font-size="54" font-weight="bold" text-anchor="middle">2</text>
<text x="1250.7" y="581.6" font-size="54" font-weight="bold" text-anchor="middle">3</text>
<text x="1358.4" y="776.1" font-size="54" font-weight="bold" text-anchor="middle">3</text>
<text x="1424.6" y="785.8" font-size="54" font-weight="bold" text-anchor="middle">3</text>
<text x="1474.7" y="809.8" font-size="54" font-weight="bold" text-anchor="middle">2</text>
<text x="1552.5" y="785.8" font-size="54" font-weight="bold" text-anchor="middle">2</text>
<text x="331.7" y="935.6" font-size="54" font-weight="bold" text-anchor="middle">1</text>
<text x="517.7" y="975.8" font-size="54" font-weight="bold" text-anchor="middle">1</text>
<text x="620" y="1082" font-size="54" font-weight="bold" text-anchor="middle">1</text>
<text x="742" y="1035.7" font-size="54" font-weight="bold" text-anchor="middle">1</text>
<text x="954.4" y="1043.8" font-size="54" font-weight="bold" text-anchor="middle">1</text>
<text x="1723.2" y="812" font-size="65.5" font-weight="bold" text-anchor="end" letter-spacing="1.5">120h</text>
<text x="1724.8" y="885.5" font-size="65.5" font-weight="bold" text-anchor="end" letter-spacing="1.8">72h</text>
<text x="1724.7" y="947.4" font-size="65.5" font-weight="bold" text-anchor="end" letter-spacing="1.7">24h</text>
<text x="1719.2" y="1005.1" font-size="65.5" font-weight="bold" text-anchor="end" letter-spacing="0.7">12h</text>
<text x="1717.2" y="1066.2" font-size="65.5" font-weight="bold" text-anchor="end" letter-spacing="0.7">6h</text>
<text x="1713.6" y="1125.6" font-size="65.5" font-weight="bold" text-anchor="end" letter-spacing="0.7">0h</text>
</svg>
</body></html>
